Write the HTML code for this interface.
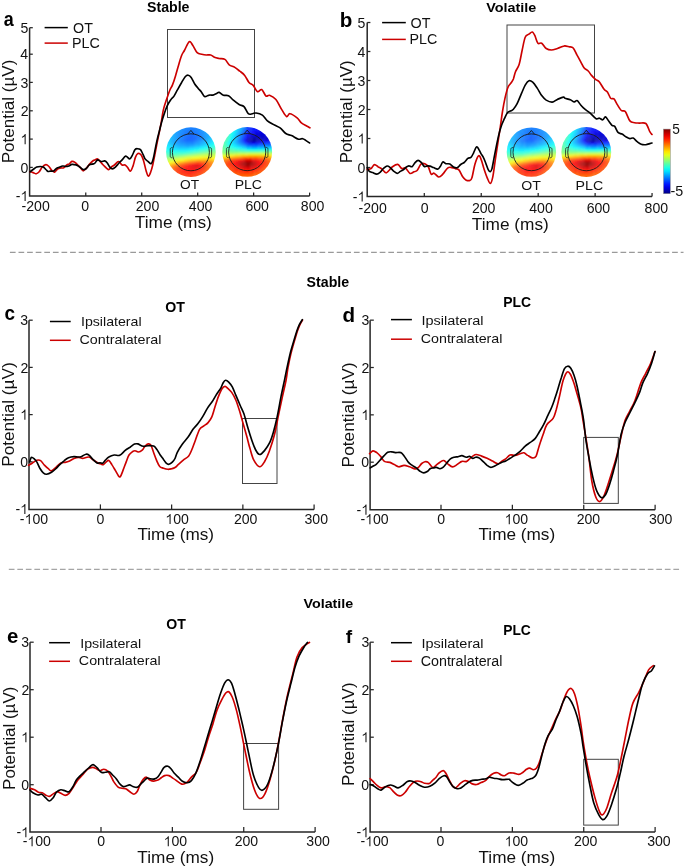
<!DOCTYPE html>
<html><head><meta charset="utf-8"><style>
html,body{margin:0;padding:0;background:#fff;}
svg{display:block;will-change:transform;}
</style></head><body>
<svg width="685" height="868" viewBox="0 0 685 868" font-family='"Liberation Sans", sans-serif'>
<rect width="685" height="868" fill="#fff"/>
<path d="M29.60 27.70V196.00H309.60" fill="none" stroke="#262626" stroke-width="1.5"/>
<path d="M85.76 196.00v-3.4" fill="none" stroke="#262626" stroke-width="1.25"/>
<path d="M141.72 196.00v-3.4" fill="none" stroke="#262626" stroke-width="1.25"/>
<path d="M197.68 196.00v-3.4" fill="none" stroke="#262626" stroke-width="1.25"/>
<path d="M253.64 196.00v-3.4" fill="none" stroke="#262626" stroke-width="1.25"/>
<path d="M309.60 196.00v-3.4" fill="none" stroke="#262626" stroke-width="1.25"/>
<path d="M29.60 167.40h3.2" fill="none" stroke="#262626" stroke-width="1.25"/>
<path d="M29.60 139.10h3.2" fill="none" stroke="#262626" stroke-width="1.25"/>
<path d="M29.60 110.80h3.2" fill="none" stroke="#262626" stroke-width="1.25"/>
<path d="M29.60 82.40h3.2" fill="none" stroke="#262626" stroke-width="1.25"/>
<path d="M29.60 54.20h3.2" fill="none" stroke="#262626" stroke-width="1.25"/>
<path d="M29.60 27.70h3.2" fill="none" stroke="#262626" stroke-width="1.25"/>
<text x="21.57" y="211.06" font-size="14.1" fill="#111">-200</text>
<text x="81.24" y="211.06" font-size="14.1" fill="#111">0</text>
<text x="135.79" y="211.06" font-size="14.1" fill="#111">200</text>
<text x="188.85" y="211.06" font-size="14.1" fill="#111">400</text>
<text x="245.39" y="211.06" font-size="14.1" fill="#111">600</text>
<text x="300.87" y="211.06" font-size="14.1" fill="#111">800</text>
<text x="15.68" y="201.11" font-size="14.1" fill="#111">-</text>
<path d="M25.64 201.11 L25.64 191.02 L24.82 191.02 L24.47 191.72 L23.76 192.49 L22.91 193.13 L21.91 193.64 L21.91 194.74 L22.70 194.37 L23.69 193.81 L24.58 193.13 L24.58 201.11Z" fill="#111"/>
<text x="20.49" y="172.51" font-size="14.1" fill="#111">0</text>
<path d="M25.66 144.21 L25.66 134.12 L24.85 134.12 L24.49 134.82 L23.79 135.59 L22.94 136.23 L21.94 136.74 L21.94 137.84 L22.73 137.47 L23.72 136.91 L24.61 136.23 L24.61 144.21Z" fill="#111"/>
<text x="20.63" y="115.98" font-size="14.1" fill="#111">2</text>
<text x="20.56" y="87.51" font-size="14.1" fill="#111">3</text>
<text x="20.35" y="59.31" font-size="14.1" fill="#111">4</text>
<text x="20.49" y="32.74" font-size="14.1" fill="#111">5</text>
<path d="M367.20 22.50V196.50H652.06" fill="none" stroke="#262626" stroke-width="1.5"/>
<path d="M424.30 196.50v-3.4" fill="none" stroke="#262626" stroke-width="1.25"/>
<path d="M481.24 196.50v-3.4" fill="none" stroke="#262626" stroke-width="1.25"/>
<path d="M538.18 196.50v-3.4" fill="none" stroke="#262626" stroke-width="1.25"/>
<path d="M595.12 196.50v-3.4" fill="none" stroke="#262626" stroke-width="1.25"/>
<path d="M652.06 196.50v-3.4" fill="none" stroke="#262626" stroke-width="1.25"/>
<path d="M367.20 167.50h3.2" fill="none" stroke="#262626" stroke-width="1.25"/>
<path d="M367.20 138.50h3.2" fill="none" stroke="#262626" stroke-width="1.25"/>
<path d="M367.20 109.50h3.2" fill="none" stroke="#262626" stroke-width="1.25"/>
<path d="M367.20 80.50h3.2" fill="none" stroke="#262626" stroke-width="1.25"/>
<path d="M367.20 51.50h3.2" fill="none" stroke="#262626" stroke-width="1.25"/>
<path d="M367.20 22.50h3.2" fill="none" stroke="#262626" stroke-width="1.25"/>
<text x="358.57" y="212.76" font-size="14.1" fill="#111">-200</text>
<text x="420.64" y="212.76" font-size="14.1" fill="#111">0</text>
<text x="471.90" y="212.76" font-size="14.1" fill="#111">200</text>
<text x="529.25" y="212.76" font-size="14.1" fill="#111">400</text>
<text x="586.69" y="212.76" font-size="14.1" fill="#111">600</text>
<text x="644.57" y="212.76" font-size="14.1" fill="#111">800</text>
<text x="352.73" y="201.61" font-size="14.1" fill="#111">-</text>
<path d="M362.69 201.61 L362.69 191.52 L361.87 191.52 L361.52 192.22 L360.81 192.99 L359.96 193.63 L358.96 194.14 L358.96 195.24 L359.75 194.87 L360.74 194.31 L361.63 193.63 L361.63 201.61Z" fill="#111"/>
<text x="357.54" y="172.61" font-size="14.1" fill="#111">0</text>
<path d="M362.71 143.61 L362.71 133.52 L361.90 133.52 L361.54 134.22 L360.84 134.99 L359.99 135.63 L358.99 136.14 L358.99 137.24 L359.78 136.87 L360.77 136.31 L361.66 135.63 L361.66 143.61Z" fill="#111"/>
<text x="357.68" y="114.69" font-size="14.1" fill="#111">2</text>
<text x="357.61" y="85.61" font-size="14.1" fill="#111">3</text>
<text x="357.40" y="56.61" font-size="14.1" fill="#111">4</text>
<text x="357.54" y="27.54" font-size="14.1" fill="#111">5</text>
<path d="M29.00 320.20V509.40H314.09" fill="none" stroke="#262626" stroke-width="1.5"/>
<path d="M100.40 509.40v-5.0" fill="none" stroke="#262626" stroke-width="1.25"/>
<path d="M171.63 509.40v-5.0" fill="none" stroke="#262626" stroke-width="1.25"/>
<path d="M242.86 509.40v-5.0" fill="none" stroke="#262626" stroke-width="1.25"/>
<path d="M314.09 509.40v-5.0" fill="none" stroke="#262626" stroke-width="1.25"/>
<path d="M29.00 461.80h3.7" fill="none" stroke="#262626" stroke-width="1.25"/>
<path d="M29.00 414.60h3.7" fill="none" stroke="#262626" stroke-width="1.25"/>
<path d="M29.00 367.40h3.7" fill="none" stroke="#262626" stroke-width="1.25"/>
<path d="M29.00 320.20h3.7" fill="none" stroke="#262626" stroke-width="1.25"/>
<text x="19.87" y="524.06" font-size="14.1" fill="#111">-</text>
<path d="M29.82 524.06 L29.82 513.96 L29.00 513.96 L28.65 514.67 L27.94 515.43 L27.10 516.08 L26.10 516.59 L26.10 517.69 L26.89 517.32 L27.87 516.76 L28.76 516.08 L28.76 524.06Z" fill="#111"/>
<text x="32.40" y="524.06" font-size="14.1" fill="#111">00</text>
<text x="96.54" y="524.06" font-size="14.1" fill="#111">0</text>
<path d="M170.60 524.06 L170.60 513.96 L169.78 513.96 L169.43 514.67 L168.73 515.43 L167.88 516.08 L166.88 516.59 L166.88 517.69 L167.67 517.32 L168.66 516.76 L169.54 516.08 L169.54 524.06Z" fill="#111"/>
<text x="173.18" y="524.06" font-size="14.1" fill="#111">00</text>
<text x="233.89" y="524.06" font-size="14.1" fill="#111">200</text>
<text x="304.54" y="524.06" font-size="14.1" fill="#111">300</text>
<text x="15.43" y="514.11" font-size="14.1" fill="#111">-</text>
<path d="M25.39 514.11 L25.39 504.02 L24.57 504.02 L24.22 504.72 L23.51 505.49 L22.66 506.13 L21.66 506.64 L21.66 507.74 L22.45 507.37 L23.44 506.81 L24.33 506.13 L24.33 514.11Z" fill="#111"/>
<text x="20.24" y="466.91" font-size="14.1" fill="#111">0</text>
<path d="M25.41 419.71 L25.41 409.62 L24.60 409.62 L24.24 410.32 L23.54 411.09 L22.69 411.73 L21.69 412.24 L21.69 413.34 L22.48 412.97 L23.47 412.41 L24.36 411.73 L24.36 419.71Z" fill="#111"/>
<text x="20.38" y="372.58" font-size="14.1" fill="#111">2</text>
<text x="20.31" y="325.31" font-size="14.1" fill="#111">3</text>
<path d="M370.10 320.15V509.80H655.11" fill="none" stroke="#262626" stroke-width="1.5"/>
<path d="M441.00 509.80v-5.0" fill="none" stroke="#262626" stroke-width="1.25"/>
<path d="M512.37 509.80v-5.0" fill="none" stroke="#262626" stroke-width="1.25"/>
<path d="M583.74 509.80v-5.0" fill="none" stroke="#262626" stroke-width="1.25"/>
<path d="M655.11 509.80v-5.0" fill="none" stroke="#262626" stroke-width="1.25"/>
<path d="M370.10 462.20h3.7" fill="none" stroke="#262626" stroke-width="1.25"/>
<path d="M370.10 414.85h3.7" fill="none" stroke="#262626" stroke-width="1.25"/>
<path d="M370.10 367.50h3.7" fill="none" stroke="#262626" stroke-width="1.25"/>
<path d="M370.10 320.15h3.7" fill="none" stroke="#262626" stroke-width="1.25"/>
<text x="360.47" y="524.16" font-size="14.1" fill="#111">-</text>
<path d="M370.42 524.16 L370.42 514.06 L369.60 514.06 L369.25 514.77 L368.54 515.53 L367.70 516.18 L366.70 516.69 L366.70 517.79 L367.49 517.42 L368.47 516.86 L369.36 516.18 L369.36 524.16Z" fill="#111"/>
<text x="373.00" y="524.16" font-size="14.1" fill="#111">00</text>
<text x="437.24" y="524.16" font-size="14.1" fill="#111">0</text>
<path d="M509.80 524.16 L509.80 514.06 L508.98 514.06 L508.63 514.77 L507.93 515.53 L507.08 516.18 L506.08 516.69 L506.08 517.79 L506.87 517.42 L507.86 516.86 L508.74 516.18 L508.74 524.16Z" fill="#111"/>
<text x="512.38" y="524.16" font-size="14.1" fill="#111">00</text>
<text x="576.69" y="524.16" font-size="14.1" fill="#111">200</text>
<text x="648.94" y="524.16" font-size="14.1" fill="#111">300</text>
<text x="356.53" y="514.66" font-size="14.1" fill="#111">-</text>
<path d="M366.49 514.66 L366.49 504.57 L365.67 504.57 L365.32 505.27 L364.61 506.04 L363.76 506.68 L362.76 507.19 L362.76 508.29 L363.55 507.92 L364.54 507.36 L365.43 506.68 L365.43 514.66Z" fill="#111"/>
<text x="361.34" y="467.31" font-size="14.1" fill="#111">0</text>
<path d="M366.51 419.96 L366.51 409.87 L365.70 409.87 L365.34 410.57 L364.64 411.34 L363.79 411.98 L362.79 412.49 L362.79 413.59 L363.58 413.22 L364.57 412.66 L365.46 411.98 L365.46 419.96Z" fill="#111"/>
<text x="361.48" y="372.69" font-size="14.1" fill="#111">2</text>
<text x="361.41" y="325.26" font-size="14.1" fill="#111">3</text>
<path d="M30.00 642.20V831.90H315.11" fill="none" stroke="#262626" stroke-width="1.5"/>
<path d="M101.00 831.90v-5.0" fill="none" stroke="#262626" stroke-width="1.25"/>
<path d="M172.37 831.90v-5.0" fill="none" stroke="#262626" stroke-width="1.25"/>
<path d="M243.74 831.90v-5.0" fill="none" stroke="#262626" stroke-width="1.25"/>
<path d="M315.11 831.90v-5.0" fill="none" stroke="#262626" stroke-width="1.25"/>
<path d="M30.00 784.70h3.7" fill="none" stroke="#262626" stroke-width="1.25"/>
<path d="M30.00 737.20h3.7" fill="none" stroke="#262626" stroke-width="1.25"/>
<path d="M30.00 689.70h3.7" fill="none" stroke="#262626" stroke-width="1.25"/>
<path d="M30.00 642.20h3.7" fill="none" stroke="#262626" stroke-width="1.25"/>
<text x="22.67" y="846.36" font-size="14.1" fill="#111">-</text>
<path d="M32.62 846.36 L32.62 836.26 L31.80 836.26 L31.45 836.97 L30.74 837.73 L29.90 838.38 L28.90 838.89 L28.90 839.99 L29.69 839.62 L30.67 839.06 L31.56 838.38 L31.56 846.36Z" fill="#111"/>
<text x="35.20" y="846.36" font-size="14.1" fill="#111">00</text>
<text x="97.24" y="846.36" font-size="14.1" fill="#111">0</text>
<path d="M168.80 846.36 L168.80 836.26 L167.98 836.26 L167.63 836.97 L166.93 837.73 L166.08 838.38 L165.08 838.89 L165.08 839.99 L165.87 839.62 L166.86 839.06 L167.74 838.38 L167.74 846.36Z" fill="#111"/>
<text x="171.38" y="846.36" font-size="14.1" fill="#111">00</text>
<text x="234.69" y="846.36" font-size="14.1" fill="#111">200</text>
<text x="306.34" y="846.36" font-size="14.1" fill="#111">300</text>
<text x="16.43" y="837.31" font-size="14.1" fill="#111">-</text>
<path d="M26.39 837.31 L26.39 827.22 L25.57 827.22 L25.22 827.92 L24.51 828.69 L23.66 829.33 L22.66 829.84 L22.66 830.94 L23.45 830.57 L24.44 830.01 L25.33 829.33 L25.33 837.31Z" fill="#111"/>
<text x="21.24" y="789.81" font-size="14.1" fill="#111">0</text>
<path d="M26.41 742.31 L26.41 732.22 L25.60 732.22 L25.24 732.92 L24.54 733.69 L23.69 734.33 L22.69 734.84 L22.69 735.94 L23.48 735.57 L24.47 735.01 L25.36 734.33 L25.36 742.31Z" fill="#111"/>
<text x="21.38" y="694.88" font-size="14.1" fill="#111">2</text>
<text x="21.31" y="647.31" font-size="14.1" fill="#111">3</text>
<path d="M370.10 642.20V831.90H655.11" fill="none" stroke="#262626" stroke-width="1.5"/>
<path d="M441.00 831.90v-5.0" fill="none" stroke="#262626" stroke-width="1.25"/>
<path d="M512.37 831.90v-5.0" fill="none" stroke="#262626" stroke-width="1.25"/>
<path d="M583.74 831.90v-5.0" fill="none" stroke="#262626" stroke-width="1.25"/>
<path d="M655.11 831.90v-5.0" fill="none" stroke="#262626" stroke-width="1.25"/>
<path d="M370.10 784.70h3.7" fill="none" stroke="#262626" stroke-width="1.25"/>
<path d="M370.10 737.20h3.7" fill="none" stroke="#262626" stroke-width="1.25"/>
<path d="M370.10 689.70h3.7" fill="none" stroke="#262626" stroke-width="1.25"/>
<path d="M370.10 642.20h3.7" fill="none" stroke="#262626" stroke-width="1.25"/>
<text x="360.47" y="846.36" font-size="14.1" fill="#111">-</text>
<path d="M370.42 846.36 L370.42 836.26 L369.60 836.26 L369.25 836.97 L368.54 837.73 L367.70 838.38 L366.70 838.89 L366.70 839.99 L367.49 839.62 L368.47 839.06 L369.36 838.38 L369.36 846.36Z" fill="#111"/>
<text x="373.00" y="846.36" font-size="14.1" fill="#111">00</text>
<text x="436.54" y="846.36" font-size="14.1" fill="#111">0</text>
<path d="M509.80 846.36 L509.80 836.26 L508.98 836.26 L508.63 836.97 L507.93 837.73 L507.08 838.38 L506.08 838.89 L506.08 839.99 L506.87 839.62 L507.86 839.06 L508.74 838.38 L508.74 846.36Z" fill="#111"/>
<text x="512.38" y="846.36" font-size="14.1" fill="#111">00</text>
<text x="573.89" y="846.36" font-size="14.1" fill="#111">200</text>
<text x="647.14" y="846.36" font-size="14.1" fill="#111">300</text>
<text x="356.53" y="837.31" font-size="14.1" fill="#111">-</text>
<path d="M366.49 837.31 L366.49 827.22 L365.67 827.22 L365.32 827.92 L364.61 828.69 L363.76 829.33 L362.76 829.84 L362.76 830.94 L363.55 830.57 L364.54 830.01 L365.43 829.33 L365.43 837.31Z" fill="#111"/>
<text x="361.34" y="789.81" font-size="14.1" fill="#111">0</text>
<path d="M366.51 742.31 L366.51 732.22 L365.70 732.22 L365.34 732.92 L364.64 733.69 L363.79 734.33 L362.79 734.84 L362.79 735.94 L363.58 735.57 L364.57 735.01 L365.46 734.33 L365.46 742.31Z" fill="#111"/>
<text x="361.48" y="694.88" font-size="14.1" fill="#111">2</text>
<text x="361.41" y="647.31" font-size="14.1" fill="#111">3</text>
<text x="134.76" y="228.15" font-size="16.90" textLength="77.12" lengthAdjust="spacingAndGlyphs" fill="#111">Time (ms)</text>
<text x="471.86" y="229.67" font-size="16.79" textLength="77.02" lengthAdjust="spacingAndGlyphs" fill="#111">Time (ms)</text>
<text x="137.41" y="540.15" font-size="16.90" textLength="76.66" lengthAdjust="spacingAndGlyphs" fill="#111">Time (ms)</text>
<text x="478.47" y="540.20" font-size="16.68" textLength="76.71" lengthAdjust="spacingAndGlyphs" fill="#111">Time (ms)</text>
<text x="137.36" y="862.75" font-size="16.90" textLength="76.81" lengthAdjust="spacingAndGlyphs" fill="#111">Time (ms)</text>
<text x="478.46" y="862.75" font-size="16.90" textLength="76.71" lengthAdjust="spacingAndGlyphs" fill="#111">Time (ms)</text>
<text transform="translate(14.30 163.26) rotate(-90)" font-size="17.30" textLength="103.65" lengthAdjust="spacingAndGlyphs" fill="#111">Potential (µV)</text>
<text transform="translate(351.90 163.35) rotate(-90)" font-size="17.30" textLength="102.94" lengthAdjust="spacingAndGlyphs" fill="#111">Potential (µV)</text>
<text transform="translate(14.30 466.67) rotate(-90)" font-size="17.30" textLength="104.27" lengthAdjust="spacingAndGlyphs" fill="#111">Potential (µV)</text>
<text transform="translate(353.80 467.38) rotate(-90)" font-size="17.30" textLength="104.98" lengthAdjust="spacingAndGlyphs" fill="#111">Potential (µV)</text>
<text transform="translate(15.00 789.96) rotate(-90)" font-size="17.30" textLength="103.35" lengthAdjust="spacingAndGlyphs" fill="#111">Potential (µV)</text>
<text transform="translate(353.80 785.96) rotate(-90)" font-size="17.30" textLength="103.55" lengthAdjust="spacingAndGlyphs" fill="#111">Potential (µV)</text>
<text x="3.78" y="25.99" font-size="20.73" font-weight="bold" textLength="9.98" lengthAdjust="spacingAndGlyphs" fill="#000">a</text>
<text x="339.74" y="27.11" font-size="19.46" font-weight="bold" textLength="12.58" lengthAdjust="spacingAndGlyphs" fill="#000">b</text>
<text x="4.51" y="319.90" font-size="19.82" font-weight="bold" textLength="10.55" lengthAdjust="spacingAndGlyphs" fill="#000">c</text>
<text x="342.42" y="322.30" font-size="19.59" font-weight="bold" textLength="12.58" lengthAdjust="spacingAndGlyphs" fill="#000">d</text>
<text x="7.09" y="642.90" font-size="20.36" font-weight="bold" fill="#000">e</text>
<text x="345.71" y="642.60" font-size="19.17" font-weight="bold" fill="#000">f</text>
<text x="146.97" y="11.96" font-size="14.29" font-weight="bold" textLength="42.54" lengthAdjust="spacingAndGlyphs" fill="#000">Stable</text>
<text x="486.27" y="11.87" font-size="13.33" font-weight="bold" textLength="49.98" lengthAdjust="spacingAndGlyphs" fill="#000">Volatile</text>
<text x="306.58" y="287.36" font-size="13.88" font-weight="bold" textLength="42.54" lengthAdjust="spacingAndGlyphs" fill="#000">Stable</text>
<text x="303.47" y="607.67" font-size="13.33" font-weight="bold" textLength="49.78" lengthAdjust="spacingAndGlyphs" fill="#000">Volatile</text>
<text x="165.34" y="311.76" font-size="13.94" font-weight="bold" textLength="19.69" lengthAdjust="spacingAndGlyphs" fill="#000">OT</text>
<text x="503.18" y="306.76" font-size="14.08" font-weight="bold" textLength="27.85" lengthAdjust="spacingAndGlyphs" fill="#000">PLC</text>
<text x="166.34" y="628.96" font-size="14.08" font-weight="bold" fill="#000">OT</text>
<text x="503.20" y="634.56" font-size="13.80" font-weight="bold" fill="#000">PLC</text>
<path d="M44.6 27.6H67.8" fill="none" stroke="#000000" stroke-width="1.5"/>
<path d="M44.6 43.1H67.8" fill="none" stroke="#cc0000" stroke-width="1.5"/>
<text x="73.07" y="32.76" font-size="13.94" textLength="19.81" lengthAdjust="spacingAndGlyphs" fill="#111">OT</text>
<text x="72.08" y="47.76" font-size="13.94" textLength="27.82" lengthAdjust="spacingAndGlyphs" fill="#111">PLC</text>
<path d="M382.1 22.6H405.8" fill="none" stroke="#000000" stroke-width="1.5"/>
<path d="M382.1 39.4H405.8" fill="none" stroke="#cc0000" stroke-width="1.5"/>
<text x="410.55" y="27.76" font-size="14.37" fill="#111">OT</text>
<text x="409.57" y="43.56" font-size="14.08" textLength="27.82" lengthAdjust="spacingAndGlyphs" fill="#111">PLC</text>
<path d="M49.9 321.5H70.7" fill="none" stroke="#000000" stroke-width="1.5"/>
<path d="M49.9 340.3H70.7" fill="none" stroke="#cc0000" stroke-width="1.5"/>
<text x="80.94" y="326.18" font-size="12.94" textLength="60.70" lengthAdjust="spacingAndGlyphs" fill="#111">Ipsilateral</text>
<text x="79.53" y="344.17" font-size="13.47" textLength="81.95" lengthAdjust="spacingAndGlyphs" fill="#111">Contralateral</text>
<path d="M391.0 319.6H411.9" fill="none" stroke="#000000" stroke-width="1.5"/>
<path d="M391.0 339.2H411.9" fill="none" stroke="#cc0000" stroke-width="1.5"/>
<text x="421.47" y="324.83" font-size="13.69" textLength="62.05" lengthAdjust="spacingAndGlyphs" fill="#111">Ipsilateral</text>
<text x="420.73" y="342.87" font-size="13.47" textLength="81.75" lengthAdjust="spacingAndGlyphs" fill="#111">Contralateral</text>
<path d="M49.1 642.7H70.0" fill="none" stroke="#000000" stroke-width="1.5"/>
<path d="M49.1 661.3H70.0" fill="none" stroke="#cc0000" stroke-width="1.5"/>
<text x="80.20" y="647.69" font-size="13.37" textLength="61.01" lengthAdjust="spacingAndGlyphs" fill="#111">Ipsilateral</text>
<text x="78.83" y="665.37" font-size="13.47" textLength="81.75" lengthAdjust="spacingAndGlyphs" fill="#111">Contralateral</text>
<path d="M391.0 642.7H411.9" fill="none" stroke="#000000" stroke-width="1.5"/>
<path d="M391.0 661.3H411.9" fill="none" stroke="#cc0000" stroke-width="1.5"/>
<text x="421.47" y="647.93" font-size="13.69" textLength="62.05" lengthAdjust="spacingAndGlyphs" fill="#111">Ipsilateral</text>
<text x="420.71" y="665.56" font-size="13.74" textLength="81.75" lengthAdjust="spacingAndGlyphs" fill="#111">Contralateral</text>
<path d="M9.9 252.3H683.5" fill="none" stroke="#9a9a9a" stroke-width="1.3" stroke-dasharray="5.7 2.9"/>
<path d="M8.8 569.4H681.8" fill="none" stroke="#a5a5a5" stroke-width="1.3" stroke-dasharray="5.7 2.82"/>
<text x="180.13" y="189.27" font-size="12.68" textLength="19.07" lengthAdjust="spacingAndGlyphs" fill="#111">OT</text>
<text x="234.69" y="189.27" font-size="12.68" textLength="27.29" lengthAdjust="spacingAndGlyphs" fill="#111">PLC</text>
<text x="521.31" y="189.57" font-size="13.10" textLength="19.60" lengthAdjust="spacingAndGlyphs" fill="#111">OT</text>
<text x="575.55" y="189.57" font-size="13.10" textLength="27.61" lengthAdjust="spacingAndGlyphs" fill="#111">PLC</text>
<rect x="167.5" y="29.5" width="87.0" height="88.0" fill="none" stroke="#444" stroke-width="1"/>
<rect x="507.0" y="25.0" width="87.5" height="88.0" fill="none" stroke="#444" stroke-width="1"/>
<rect x="242.5" y="418.5" width="34.5" height="65.0" fill="none" stroke="#444" stroke-width="1"/>
<rect x="583.7" y="437.4" width="34.6" height="66.0" fill="none" stroke="#444" stroke-width="1"/>
<rect x="243.6" y="743.5" width="35.0" height="65.8" fill="none" stroke="#444" stroke-width="1"/>
<rect x="583.7" y="759.3" width="34.6" height="65.8" fill="none" stroke="#444" stroke-width="1"/>
<g clip-path="url(#coa)"><g filter="url(#tb)">
<rect x="178.1" y="125.3" width="4.05" height="2.05" fill="#0085ff"/>
<rect x="182.1" y="125.3" width="18.05" height="2.05" fill="#007aff"/>
<rect x="200.1" y="125.3" width="2.05" height="2.05" fill="#0085ff"/>
<rect x="176.1" y="127.3" width="4.05" height="2.05" fill="#0091ff"/>
<rect x="180.1" y="127.3" width="4.05" height="2.05" fill="#0085ff"/>
<rect x="184.1" y="127.3" width="6.05" height="2.05" fill="#007aff"/>
<rect x="190.1" y="127.3" width="4.05" height="2.05" fill="#006fff"/>
<rect x="194.1" y="127.3" width="6.05" height="2.05" fill="#007aff"/>
<rect x="200.1" y="127.3" width="4.05" height="2.05" fill="#0085ff"/>
<rect x="204.1" y="127.3" width="2.05" height="2.05" fill="#0091ff"/>
<rect x="172.1" y="129.3" width="4.05" height="2.05" fill="#009cff"/>
<rect x="176.1" y="129.3" width="4.05" height="2.05" fill="#0091ff"/>
<rect x="180.1" y="129.3" width="2.05" height="2.05" fill="#0085ff"/>
<rect x="182.1" y="129.3" width="4.05" height="2.05" fill="#007aff"/>
<rect x="186.1" y="129.3" width="10.05" height="2.05" fill="#006fff"/>
<rect x="196.1" y="129.3" width="4.05" height="2.05" fill="#007aff"/>
<rect x="200.1" y="129.3" width="2.05" height="2.05" fill="#0085ff"/>
<rect x="202.1" y="129.3" width="4.05" height="2.05" fill="#0091ff"/>
<rect x="206.1" y="129.3" width="4.05" height="2.05" fill="#009cff"/>
<rect x="170.1" y="131.3" width="4.05" height="2.05" fill="#00a7ff"/>
<rect x="174.1" y="131.3" width="2.05" height="2.05" fill="#009cff"/>
<rect x="176.1" y="131.3" width="2.05" height="2.05" fill="#0091ff"/>
<rect x="178.1" y="131.3" width="4.05" height="2.05" fill="#0085ff"/>
<rect x="182.1" y="131.3" width="2.05" height="2.05" fill="#007aff"/>
<rect x="184.1" y="131.3" width="14.05" height="2.05" fill="#006fff"/>
<rect x="198.1" y="131.3" width="2.05" height="2.05" fill="#007aff"/>
<rect x="200.1" y="131.3" width="4.05" height="2.05" fill="#0085ff"/>
<rect x="204.1" y="131.3" width="2.05" height="2.05" fill="#0091ff"/>
<rect x="206.1" y="131.3" width="4.05" height="2.05" fill="#009cff"/>
<rect x="210.1" y="131.3" width="2.05" height="2.05" fill="#00a7ff"/>
<rect x="168.1" y="133.3" width="4.05" height="2.05" fill="#00b3ff"/>
<rect x="172.1" y="133.3" width="2.05" height="2.05" fill="#00a7ff"/>
<rect x="174.1" y="133.3" width="2.05" height="2.05" fill="#009cff"/>
<rect x="176.1" y="133.3" width="2.05" height="2.05" fill="#0091ff"/>
<rect x="178.1" y="133.3" width="2.05" height="2.05" fill="#0085ff"/>
<rect x="180.1" y="133.3" width="4.05" height="2.05" fill="#007aff"/>
<rect x="184.1" y="133.3" width="2.05" height="2.05" fill="#006fff"/>
<rect x="186.1" y="133.3" width="10.05" height="2.05" fill="#0063ff"/>
<rect x="196.1" y="133.3" width="4.05" height="2.05" fill="#006fff"/>
<rect x="200.1" y="133.3" width="2.05" height="2.05" fill="#007aff"/>
<rect x="202.1" y="133.3" width="2.05" height="2.05" fill="#0085ff"/>
<rect x="204.1" y="133.3" width="2.05" height="2.05" fill="#0091ff"/>
<rect x="206.1" y="133.3" width="2.05" height="2.05" fill="#009cff"/>
<rect x="208.1" y="133.3" width="4.05" height="2.05" fill="#00a7ff"/>
<rect x="212.1" y="133.3" width="2.05" height="2.05" fill="#00b3ff"/>
<rect x="168.1" y="135.3" width="2.05" height="2.05" fill="#00beff"/>
<rect x="170.1" y="135.3" width="2.05" height="2.05" fill="#00b3ff"/>
<rect x="172.1" y="135.3" width="2.05" height="2.05" fill="#00a7ff"/>
<rect x="174.1" y="135.3" width="2.05" height="2.05" fill="#009cff"/>
<rect x="176.1" y="135.3" width="2.05" height="2.05" fill="#0091ff"/>
<rect x="178.1" y="135.3" width="2.05" height="2.05" fill="#0085ff"/>
<rect x="180.1" y="135.3" width="2.05" height="2.05" fill="#007aff"/>
<rect x="182.1" y="135.3" width="2.05" height="2.05" fill="#006fff"/>
<rect x="184.1" y="135.3" width="4.05" height="2.05" fill="#0063ff"/>
<rect x="188.1" y="135.3" width="6.05" height="2.05" fill="#0058ff"/>
<rect x="194.1" y="135.3" width="4.05" height="2.05" fill="#0063ff"/>
<rect x="198.1" y="135.3" width="2.05" height="2.05" fill="#006fff"/>
<rect x="200.1" y="135.3" width="2.05" height="2.05" fill="#007aff"/>
<rect x="202.1" y="135.3" width="2.05" height="2.05" fill="#0085ff"/>
<rect x="204.1" y="135.3" width="2.05" height="2.05" fill="#0091ff"/>
<rect x="206.1" y="135.3" width="2.05" height="2.05" fill="#009cff"/>
<rect x="208.1" y="135.3" width="2.05" height="2.05" fill="#00a7ff"/>
<rect x="210.1" y="135.3" width="2.05" height="2.05" fill="#00b3ff"/>
<rect x="212.1" y="135.3" width="2.05" height="2.05" fill="#00beff"/>
<rect x="166.1" y="137.3" width="2.05" height="2.05" fill="#00c9ff"/>
<rect x="168.1" y="137.3" width="2.05" height="2.05" fill="#00beff"/>
<rect x="170.1" y="137.3" width="2.05" height="2.05" fill="#00b3ff"/>
<rect x="172.1" y="137.3" width="2.05" height="2.05" fill="#00a7ff"/>
<rect x="174.1" y="137.3" width="2.05" height="2.05" fill="#009cff"/>
<rect x="176.1" y="137.3" width="2.05" height="2.05" fill="#0091ff"/>
<rect x="178.1" y="137.3" width="2.05" height="2.05" fill="#0085ff"/>
<rect x="180.1" y="137.3" width="2.05" height="2.05" fill="#007aff"/>
<rect x="182.1" y="137.3" width="2.05" height="2.05" fill="#006fff"/>
<rect x="184.1" y="137.3" width="2.05" height="2.05" fill="#0063ff"/>
<rect x="186.1" y="137.3" width="4.05" height="2.05" fill="#0058ff"/>
<rect x="190.1" y="137.3" width="2.05" height="2.05" fill="#004dff"/>
<rect x="192.1" y="137.3" width="4.05" height="2.05" fill="#0058ff"/>
<rect x="196.1" y="137.3" width="2.05" height="2.05" fill="#0063ff"/>
<rect x="198.1" y="137.3" width="4.05" height="2.05" fill="#006fff"/>
<rect x="202.1" y="137.3" width="2.05" height="2.05" fill="#007aff"/>
<rect x="204.1" y="137.3" width="2.05" height="2.05" fill="#0091ff"/>
<rect x="206.1" y="137.3" width="2.05" height="2.05" fill="#009cff"/>
<rect x="208.1" y="137.3" width="2.05" height="2.05" fill="#00a7ff"/>
<rect x="210.1" y="137.3" width="2.05" height="2.05" fill="#00beff"/>
<rect x="212.1" y="137.3" width="2.05" height="2.05" fill="#00c9ff"/>
<rect x="214.1" y="137.3" width="2.05" height="2.05" fill="#00d4ff"/>
<rect x="164.1" y="139.3" width="6.05" height="2.05" fill="#00c9ff"/>
<rect x="170.1" y="139.3" width="2.05" height="2.05" fill="#00b3ff"/>
<rect x="172.1" y="139.3" width="2.05" height="2.05" fill="#00a7ff"/>
<rect x="174.1" y="139.3" width="2.05" height="2.05" fill="#009cff"/>
<rect x="176.1" y="139.3" width="2.05" height="2.05" fill="#0085ff"/>
<rect x="178.1" y="139.3" width="2.05" height="2.05" fill="#007aff"/>
<rect x="180.1" y="139.3" width="2.05" height="2.05" fill="#006fff"/>
<rect x="182.1" y="139.3" width="2.05" height="2.05" fill="#0063ff"/>
<rect x="184.1" y="139.3" width="10.05" height="2.05" fill="#0058ff"/>
<rect x="194.1" y="139.3" width="2.05" height="2.05" fill="#0063ff"/>
<rect x="196.1" y="139.3" width="2.05" height="2.05" fill="#006fff"/>
<rect x="198.1" y="139.3" width="2.05" height="2.05" fill="#007aff"/>
<rect x="200.1" y="139.3" width="2.05" height="2.05" fill="#0085ff"/>
<rect x="202.1" y="139.3" width="2.05" height="2.05" fill="#0091ff"/>
<rect x="204.1" y="139.3" width="2.05" height="2.05" fill="#009cff"/>
<rect x="206.1" y="139.3" width="2.05" height="2.05" fill="#00a7ff"/>
<rect x="208.1" y="139.3" width="2.05" height="2.05" fill="#00beff"/>
<rect x="210.1" y="139.3" width="2.05" height="2.05" fill="#00c9ff"/>
<rect x="212.1" y="139.3" width="4.05" height="2.05" fill="#00e0ff"/>
<rect x="164.1" y="141.3" width="4.05" height="2.05" fill="#00d4ff"/>
<rect x="168.1" y="141.3" width="2.05" height="2.05" fill="#00c9ff"/>
<rect x="170.1" y="141.3" width="2.05" height="2.05" fill="#00b3ff"/>
<rect x="172.1" y="141.3" width="2.05" height="2.05" fill="#00a7ff"/>
<rect x="174.1" y="141.3" width="2.05" height="2.05" fill="#009cff"/>
<rect x="176.1" y="141.3" width="2.05" height="2.05" fill="#0091ff"/>
<rect x="178.1" y="141.3" width="2.05" height="2.05" fill="#0085ff"/>
<rect x="180.1" y="141.3" width="4.05" height="2.05" fill="#007aff"/>
<rect x="184.1" y="141.3" width="10.05" height="2.05" fill="#006fff"/>
<rect x="194.1" y="141.3" width="2.05" height="2.05" fill="#007aff"/>
<rect x="196.1" y="141.3" width="2.05" height="2.05" fill="#0085ff"/>
<rect x="198.1" y="141.3" width="2.05" height="2.05" fill="#0091ff"/>
<rect x="200.1" y="141.3" width="2.05" height="2.05" fill="#009cff"/>
<rect x="202.1" y="141.3" width="2.05" height="2.05" fill="#00a7ff"/>
<rect x="204.1" y="141.3" width="2.05" height="2.05" fill="#00b3ff"/>
<rect x="206.1" y="141.3" width="2.05" height="2.05" fill="#00beff"/>
<rect x="208.1" y="141.3" width="2.05" height="2.05" fill="#00c9ff"/>
<rect x="210.1" y="141.3" width="2.05" height="2.05" fill="#00d4ff"/>
<rect x="212.1" y="141.3" width="2.05" height="2.05" fill="#00ebff"/>
<rect x="214.1" y="141.3" width="4.05" height="2.05" fill="#00f6ff"/>
<rect x="164.1" y="143.3" width="4.05" height="2.05" fill="#00e0ff"/>
<rect x="168.1" y="143.3" width="2.05" height="2.05" fill="#00d4ff"/>
<rect x="170.1" y="143.3" width="2.05" height="2.05" fill="#00beff"/>
<rect x="172.1" y="143.3" width="2.05" height="2.05" fill="#00b3ff"/>
<rect x="174.1" y="143.3" width="2.05" height="2.05" fill="#00a7ff"/>
<rect x="176.1" y="143.3" width="4.05" height="2.05" fill="#009cff"/>
<rect x="180.1" y="143.3" width="4.05" height="2.05" fill="#0091ff"/>
<rect x="184.1" y="143.3" width="10.05" height="2.05" fill="#0085ff"/>
<rect x="194.1" y="143.3" width="2.05" height="2.05" fill="#0091ff"/>
<rect x="196.1" y="143.3" width="4.05" height="2.05" fill="#009cff"/>
<rect x="200.1" y="143.3" width="2.05" height="2.05" fill="#00a7ff"/>
<rect x="202.1" y="143.3" width="2.05" height="2.05" fill="#00b3ff"/>
<rect x="204.1" y="143.3" width="2.05" height="2.05" fill="#00beff"/>
<rect x="206.1" y="143.3" width="2.05" height="2.05" fill="#00c9ff"/>
<rect x="208.1" y="143.3" width="2.05" height="2.05" fill="#00e0ff"/>
<rect x="210.1" y="143.3" width="2.05" height="2.05" fill="#00ebff"/>
<rect x="212.1" y="143.3" width="2.05" height="2.05" fill="#03fffc"/>
<rect x="214.1" y="143.3" width="4.05" height="2.05" fill="#0efff1"/>
<rect x="164.1" y="145.3" width="2.05" height="2.05" fill="#00f6ff"/>
<rect x="166.1" y="145.3" width="2.05" height="2.05" fill="#00ebff"/>
<rect x="168.1" y="145.3" width="2.05" height="2.05" fill="#00e0ff"/>
<rect x="170.1" y="145.3" width="2.05" height="2.05" fill="#00d4ff"/>
<rect x="172.1" y="145.3" width="2.05" height="2.05" fill="#00c9ff"/>
<rect x="174.1" y="145.3" width="2.05" height="2.05" fill="#00beff"/>
<rect x="176.1" y="145.3" width="2.05" height="2.05" fill="#00b3ff"/>
<rect x="178.1" y="145.3" width="6.05" height="2.05" fill="#00a7ff"/>
<rect x="184.1" y="145.3" width="6.05" height="2.05" fill="#009cff"/>
<rect x="190.1" y="145.3" width="4.05" height="2.05" fill="#00a7ff"/>
<rect x="194.1" y="145.3" width="2.05" height="2.05" fill="#00b3ff"/>
<rect x="196.1" y="145.3" width="4.05" height="2.05" fill="#00beff"/>
<rect x="200.1" y="145.3" width="2.05" height="2.05" fill="#00c9ff"/>
<rect x="202.1" y="145.3" width="2.05" height="2.05" fill="#00d4ff"/>
<rect x="204.1" y="145.3" width="2.05" height="2.05" fill="#00e0ff"/>
<rect x="206.1" y="145.3" width="2.05" height="2.05" fill="#00ebff"/>
<rect x="208.1" y="145.3" width="2.05" height="2.05" fill="#03fffc"/>
<rect x="210.1" y="145.3" width="2.05" height="2.05" fill="#0efff1"/>
<rect x="212.1" y="145.3" width="2.05" height="2.05" fill="#1affe5"/>
<rect x="214.1" y="145.3" width="2.05" height="2.05" fill="#25ffda"/>
<rect x="216.1" y="145.3" width="2.05" height="2.05" fill="#30ffcf"/>
<rect x="164.1" y="147.3" width="2.05" height="2.05" fill="#03fffc"/>
<rect x="166.1" y="147.3" width="2.05" height="2.05" fill="#00f6ff"/>
<rect x="168.1" y="147.3" width="2.05" height="2.05" fill="#00ebff"/>
<rect x="170.1" y="147.3" width="2.05" height="2.05" fill="#00e0ff"/>
<rect x="172.1" y="147.3" width="4.05" height="2.05" fill="#00d4ff"/>
<rect x="176.1" y="147.3" width="14.05" height="2.05" fill="#00c9ff"/>
<rect x="190.1" y="147.3" width="4.05" height="2.05" fill="#00d4ff"/>
<rect x="194.1" y="147.3" width="4.05" height="2.05" fill="#00e0ff"/>
<rect x="198.1" y="147.3" width="2.05" height="2.05" fill="#00ebff"/>
<rect x="200.1" y="147.3" width="2.05" height="2.05" fill="#00f6ff"/>
<rect x="202.1" y="147.3" width="2.05" height="2.05" fill="#03fffc"/>
<rect x="204.1" y="147.3" width="4.05" height="2.05" fill="#0efff1"/>
<rect x="208.1" y="147.3" width="2.05" height="2.05" fill="#1affe5"/>
<rect x="210.1" y="147.3" width="2.05" height="2.05" fill="#25ffda"/>
<rect x="212.1" y="147.3" width="2.05" height="2.05" fill="#30ffcf"/>
<rect x="214.1" y="147.3" width="2.05" height="2.05" fill="#3cffc3"/>
<rect x="216.1" y="147.3" width="2.05" height="2.05" fill="#47ffb8"/>
<rect x="164.1" y="149.3" width="2.05" height="2.05" fill="#1affe5"/>
<rect x="166.1" y="149.3" width="2.05" height="2.05" fill="#0efff1"/>
<rect x="168.1" y="149.3" width="2.05" height="2.05" fill="#03fffc"/>
<rect x="170.1" y="149.3" width="6.05" height="2.05" fill="#00f6ff"/>
<rect x="176.1" y="149.3" width="12.05" height="2.05" fill="#00ebff"/>
<rect x="188.1" y="149.3" width="4.05" height="2.05" fill="#00f6ff"/>
<rect x="192.1" y="149.3" width="2.05" height="2.05" fill="#03fffc"/>
<rect x="194.1" y="149.3" width="4.05" height="2.05" fill="#0efff1"/>
<rect x="198.1" y="149.3" width="2.05" height="2.05" fill="#1affe5"/>
<rect x="200.1" y="149.3" width="4.05" height="2.05" fill="#25ffda"/>
<rect x="204.1" y="149.3" width="2.05" height="2.05" fill="#30ffcf"/>
<rect x="206.1" y="149.3" width="2.05" height="2.05" fill="#3cffc3"/>
<rect x="208.1" y="149.3" width="2.05" height="2.05" fill="#47ffb8"/>
<rect x="210.1" y="149.3" width="4.05" height="2.05" fill="#52ffad"/>
<rect x="214.1" y="149.3" width="4.05" height="2.05" fill="#5effa2"/>
<rect x="164.1" y="151.3" width="2.05" height="2.05" fill="#30ffcf"/>
<rect x="166.1" y="151.3" width="4.05" height="2.05" fill="#25ffda"/>
<rect x="170.1" y="151.3" width="16.05" height="2.05" fill="#1affe5"/>
<rect x="186.1" y="151.3" width="4.05" height="2.05" fill="#25ffda"/>
<rect x="190.1" y="151.3" width="4.05" height="2.05" fill="#30ffcf"/>
<rect x="194.1" y="151.3" width="4.05" height="2.05" fill="#3cffc3"/>
<rect x="198.1" y="151.3" width="2.05" height="2.05" fill="#47ffb8"/>
<rect x="200.1" y="151.3" width="2.05" height="2.05" fill="#52ffad"/>
<rect x="202.1" y="151.3" width="4.05" height="2.05" fill="#5effa2"/>
<rect x="206.1" y="151.3" width="2.05" height="2.05" fill="#69ff96"/>
<rect x="208.1" y="151.3" width="2.05" height="2.05" fill="#74ff8b"/>
<rect x="210.1" y="151.3" width="4.05" height="2.05" fill="#80ff80"/>
<rect x="214.1" y="151.3" width="4.05" height="2.05" fill="#8bff74"/>
<rect x="164.1" y="153.3" width="4.05" height="2.05" fill="#47ffb8"/>
<rect x="168.1" y="153.3" width="10.05" height="2.05" fill="#3cffc3"/>
<rect x="178.1" y="153.3" width="6.05" height="2.05" fill="#47ffb8"/>
<rect x="184.1" y="153.3" width="4.05" height="2.05" fill="#52ffad"/>
<rect x="188.1" y="153.3" width="2.05" height="2.05" fill="#5effa2"/>
<rect x="190.1" y="153.3" width="2.05" height="2.05" fill="#69ff96"/>
<rect x="192.1" y="153.3" width="2.05" height="2.05" fill="#74ff8b"/>
<rect x="194.1" y="153.3" width="2.05" height="2.05" fill="#80ff80"/>
<rect x="196.1" y="153.3" width="2.05" height="2.05" fill="#8bff74"/>
<rect x="198.1" y="153.3" width="4.05" height="2.05" fill="#96ff69"/>
<rect x="202.1" y="153.3" width="2.05" height="2.05" fill="#a2ff5e"/>
<rect x="204.1" y="153.3" width="14.05" height="2.05" fill="#adff52"/>
<rect x="164.1" y="155.3" width="6.05" height="2.05" fill="#5effa2"/>
<rect x="170.1" y="155.3" width="4.05" height="2.05" fill="#69ff96"/>
<rect x="174.1" y="155.3" width="4.05" height="2.05" fill="#74ff8b"/>
<rect x="178.1" y="155.3" width="2.05" height="2.05" fill="#80ff80"/>
<rect x="180.1" y="155.3" width="2.05" height="2.05" fill="#8bff74"/>
<rect x="182.1" y="155.3" width="2.05" height="2.05" fill="#96ff69"/>
<rect x="184.1" y="155.3" width="2.05" height="2.05" fill="#a2ff5e"/>
<rect x="186.1" y="155.3" width="2.05" height="2.05" fill="#adff52"/>
<rect x="188.1" y="155.3" width="4.05" height="2.05" fill="#b8ff47"/>
<rect x="192.1" y="155.3" width="4.05" height="2.05" fill="#c3ff3c"/>
<rect x="196.1" y="155.3" width="4.05" height="2.05" fill="#cfff30"/>
<rect x="200.1" y="155.3" width="12.05" height="2.05" fill="#daff25"/>
<rect x="212.1" y="155.3" width="4.05" height="2.05" fill="#cfff30"/>
<rect x="216.1" y="155.3" width="2.05" height="2.05" fill="#c3ff3c"/>
<rect x="164.1" y="157.3" width="2.05" height="2.05" fill="#80ff80"/>
<rect x="166.1" y="157.3" width="2.05" height="2.05" fill="#8bff74"/>
<rect x="168.1" y="157.3" width="2.05" height="2.05" fill="#96ff69"/>
<rect x="170.1" y="157.3" width="2.05" height="2.05" fill="#a2ff5e"/>
<rect x="172.1" y="157.3" width="2.05" height="2.05" fill="#adff52"/>
<rect x="174.1" y="157.3" width="4.05" height="2.05" fill="#b8ff47"/>
<rect x="178.1" y="157.3" width="2.05" height="2.05" fill="#c3ff3c"/>
<rect x="180.1" y="157.3" width="4.05" height="2.05" fill="#cfff30"/>
<rect x="184.1" y="157.3" width="2.05" height="2.05" fill="#daff25"/>
<rect x="186.1" y="157.3" width="4.05" height="2.05" fill="#e5ff1a"/>
<rect x="190.1" y="157.3" width="2.05" height="2.05" fill="#f1ff0e"/>
<rect x="192.1" y="157.3" width="6.05" height="2.05" fill="#fcff03"/>
<rect x="198.1" y="157.3" width="4.05" height="2.05" fill="#fff700"/>
<rect x="202.1" y="157.3" width="8.05" height="2.05" fill="#ffeb00"/>
<rect x="210.1" y="157.3" width="4.05" height="2.05" fill="#fff700"/>
<rect x="214.1" y="157.3" width="2.05" height="2.05" fill="#fcff03"/>
<rect x="216.1" y="157.3" width="2.05" height="2.05" fill="#f1ff0e"/>
<rect x="164.1" y="159.3" width="2.05" height="2.05" fill="#adff52"/>
<rect x="166.1" y="159.3" width="2.05" height="2.05" fill="#b8ff47"/>
<rect x="168.1" y="159.3" width="4.05" height="2.05" fill="#c3ff3c"/>
<rect x="172.1" y="159.3" width="2.05" height="2.05" fill="#cfff30"/>
<rect x="174.1" y="159.3" width="2.05" height="2.05" fill="#daff25"/>
<rect x="176.1" y="159.3" width="2.05" height="2.05" fill="#e5ff1a"/>
<rect x="178.1" y="159.3" width="2.05" height="2.05" fill="#f1ff0e"/>
<rect x="180.1" y="159.3" width="2.05" height="2.05" fill="#fcff03"/>
<rect x="182.1" y="159.3" width="2.05" height="2.05" fill="#fff700"/>
<rect x="184.1" y="159.3" width="2.05" height="2.05" fill="#ffeb00"/>
<rect x="186.1" y="159.3" width="2.05" height="2.05" fill="#ffe000"/>
<rect x="188.1" y="159.3" width="2.05" height="2.05" fill="#ffc900"/>
<rect x="190.1" y="159.3" width="4.05" height="2.05" fill="#ffbe00"/>
<rect x="194.1" y="159.3" width="2.05" height="2.05" fill="#ffb300"/>
<rect x="196.1" y="159.3" width="12.05" height="2.05" fill="#ffa700"/>
<rect x="208.1" y="159.3" width="4.05" height="2.05" fill="#ffb300"/>
<rect x="212.1" y="159.3" width="2.05" height="2.05" fill="#ffbe00"/>
<rect x="214.1" y="159.3" width="2.05" height="2.05" fill="#ffd500"/>
<rect x="216.1" y="159.3" width="2.05" height="2.05" fill="#ffe000"/>
<rect x="164.1" y="161.3" width="2.05" height="2.05" fill="#c3ff3c"/>
<rect x="166.1" y="161.3" width="2.05" height="2.05" fill="#cfff30"/>
<rect x="168.1" y="161.3" width="2.05" height="2.05" fill="#e5ff1a"/>
<rect x="170.1" y="161.3" width="2.05" height="2.05" fill="#fcff03"/>
<rect x="172.1" y="161.3" width="2.05" height="2.05" fill="#fff700"/>
<rect x="174.1" y="161.3" width="2.05" height="2.05" fill="#ffe000"/>
<rect x="176.1" y="161.3" width="2.05" height="2.05" fill="#ffd500"/>
<rect x="178.1" y="161.3" width="2.05" height="2.05" fill="#ffbe00"/>
<rect x="180.1" y="161.3" width="2.05" height="2.05" fill="#ffb300"/>
<rect x="182.1" y="161.3" width="2.05" height="2.05" fill="#ffa700"/>
<rect x="184.1" y="161.3" width="2.05" height="2.05" fill="#ff9100"/>
<rect x="186.1" y="161.3" width="2.05" height="2.05" fill="#ff8500"/>
<rect x="188.1" y="161.3" width="2.05" height="2.05" fill="#ff7a00"/>
<rect x="190.1" y="161.3" width="2.05" height="2.05" fill="#ff6e00"/>
<rect x="192.1" y="161.3" width="2.05" height="2.05" fill="#ff6300"/>
<rect x="194.1" y="161.3" width="2.05" height="2.05" fill="#ff5800"/>
<rect x="196.1" y="161.3" width="6.05" height="2.05" fill="#ff4c00"/>
<rect x="202.1" y="161.3" width="4.05" height="2.05" fill="#ff5800"/>
<rect x="206.1" y="161.3" width="2.05" height="2.05" fill="#ff6300"/>
<rect x="208.1" y="161.3" width="2.05" height="2.05" fill="#ff7a00"/>
<rect x="210.1" y="161.3" width="2.05" height="2.05" fill="#ff8500"/>
<rect x="212.1" y="161.3" width="2.05" height="2.05" fill="#ff9c00"/>
<rect x="214.1" y="161.3" width="2.05" height="2.05" fill="#ffa700"/>
<rect x="216.1" y="161.3" width="2.05" height="2.05" fill="#ffb300"/>
<rect x="166.1" y="163.3" width="2.05" height="2.05" fill="#fff700"/>
<rect x="168.1" y="163.3" width="2.05" height="2.05" fill="#ffe000"/>
<rect x="170.1" y="163.3" width="2.05" height="2.05" fill="#ffc900"/>
<rect x="172.1" y="163.3" width="2.05" height="2.05" fill="#ffb300"/>
<rect x="174.1" y="163.3" width="2.05" height="2.05" fill="#ff9c00"/>
<rect x="176.1" y="163.3" width="2.05" height="2.05" fill="#ff9100"/>
<rect x="178.1" y="163.3" width="2.05" height="2.05" fill="#ff7a00"/>
<rect x="180.1" y="163.3" width="2.05" height="2.05" fill="#ff6300"/>
<rect x="182.1" y="163.3" width="2.05" height="2.05" fill="#ff5800"/>
<rect x="184.1" y="163.3" width="2.05" height="2.05" fill="#ff4100"/>
<rect x="186.1" y="163.3" width="2.05" height="2.05" fill="#ff3600"/>
<rect x="188.1" y="163.3" width="2.05" height="2.05" fill="#ff1f00"/>
<rect x="190.1" y="163.3" width="2.05" height="2.05" fill="#ff1400"/>
<rect x="192.1" y="163.3" width="2.05" height="2.05" fill="#ff0800"/>
<rect x="194.1" y="163.3" width="6.05" height="2.05" fill="#fc0000"/>
<rect x="200.1" y="163.3" width="2.05" height="2.05" fill="#ff1400"/>
<rect x="202.1" y="163.3" width="2.05" height="2.05" fill="#ff1f00"/>
<rect x="204.1" y="163.3" width="2.05" height="2.05" fill="#ff3600"/>
<rect x="206.1" y="163.3" width="2.05" height="2.05" fill="#ff4c00"/>
<rect x="208.1" y="163.3" width="2.05" height="2.05" fill="#ff6300"/>
<rect x="210.1" y="163.3" width="2.05" height="2.05" fill="#ff7a00"/>
<rect x="212.1" y="163.3" width="2.05" height="2.05" fill="#ff8500"/>
<rect x="214.1" y="163.3" width="2.05" height="2.05" fill="#ff9100"/>
<rect x="166.1" y="165.3" width="2.05" height="2.05" fill="#ffc900"/>
<rect x="168.1" y="165.3" width="2.05" height="2.05" fill="#ffb300"/>
<rect x="170.1" y="165.3" width="2.05" height="2.05" fill="#ff9100"/>
<rect x="172.1" y="165.3" width="2.05" height="2.05" fill="#ff7a00"/>
<rect x="174.1" y="165.3" width="2.05" height="2.05" fill="#ff6300"/>
<rect x="176.1" y="165.3" width="2.05" height="2.05" fill="#ff4c00"/>
<rect x="178.1" y="165.3" width="2.05" height="2.05" fill="#ff4100"/>
<rect x="180.1" y="165.3" width="2.05" height="2.05" fill="#ff3600"/>
<rect x="182.1" y="165.3" width="2.05" height="2.05" fill="#ff1f00"/>
<rect x="184.1" y="165.3" width="2.05" height="2.05" fill="#ff1400"/>
<rect x="186.1" y="165.3" width="2.05" height="2.05" fill="#ff0800"/>
<rect x="188.1" y="165.3" width="2.05" height="2.05" fill="#fc0000"/>
<rect x="190.1" y="165.3" width="2.05" height="2.05" fill="#f10000"/>
<rect x="192.1" y="165.3" width="2.05" height="2.05" fill="#e50000"/>
<rect x="194.1" y="165.3" width="4.05" height="2.05" fill="#da0000"/>
<rect x="198.1" y="165.3" width="2.05" height="2.05" fill="#e50000"/>
<rect x="200.1" y="165.3" width="2.05" height="2.05" fill="#fc0000"/>
<rect x="202.1" y="165.3" width="2.05" height="2.05" fill="#ff1400"/>
<rect x="204.1" y="165.3" width="2.05" height="2.05" fill="#ff2a00"/>
<rect x="206.1" y="165.3" width="2.05" height="2.05" fill="#ff4c00"/>
<rect x="208.1" y="165.3" width="2.05" height="2.05" fill="#ff6300"/>
<rect x="210.1" y="165.3" width="4.05" height="2.05" fill="#ff7a00"/>
<rect x="214.1" y="165.3" width="2.05" height="2.05" fill="#ff8500"/>
<rect x="168.1" y="167.3" width="2.05" height="2.05" fill="#ff8500"/>
<rect x="170.1" y="167.3" width="2.05" height="2.05" fill="#ff7a00"/>
<rect x="172.1" y="167.3" width="2.05" height="2.05" fill="#ff6300"/>
<rect x="174.1" y="167.3" width="2.05" height="2.05" fill="#ff4c00"/>
<rect x="176.1" y="167.3" width="2.05" height="2.05" fill="#ff3600"/>
<rect x="178.1" y="167.3" width="2.05" height="2.05" fill="#ff2a00"/>
<rect x="180.1" y="167.3" width="2.05" height="2.05" fill="#ff1f00"/>
<rect x="182.1" y="167.3" width="2.05" height="2.05" fill="#ff1400"/>
<rect x="184.1" y="167.3" width="4.05" height="2.05" fill="#ff0800"/>
<rect x="188.1" y="167.3" width="2.05" height="2.05" fill="#fc0000"/>
<rect x="190.1" y="167.3" width="4.05" height="2.05" fill="#f10000"/>
<rect x="194.1" y="167.3" width="2.05" height="2.05" fill="#e50000"/>
<rect x="196.1" y="167.3" width="2.05" height="2.05" fill="#f10000"/>
<rect x="198.1" y="167.3" width="2.05" height="2.05" fill="#fc0000"/>
<rect x="200.1" y="167.3" width="2.05" height="2.05" fill="#ff0800"/>
<rect x="202.1" y="167.3" width="2.05" height="2.05" fill="#ff1f00"/>
<rect x="204.1" y="167.3" width="2.05" height="2.05" fill="#ff3600"/>
<rect x="206.1" y="167.3" width="2.05" height="2.05" fill="#ff4c00"/>
<rect x="208.1" y="167.3" width="2.05" height="2.05" fill="#ff6300"/>
<rect x="210.1" y="167.3" width="4.05" height="2.05" fill="#ff6e00"/>
<rect x="168.1" y="169.3" width="2.05" height="2.05" fill="#ff6e00"/>
<rect x="170.1" y="169.3" width="2.05" height="2.05" fill="#ff6300"/>
<rect x="172.1" y="169.3" width="2.05" height="2.05" fill="#ff5800"/>
<rect x="174.1" y="169.3" width="2.05" height="2.05" fill="#ff4c00"/>
<rect x="176.1" y="169.3" width="2.05" height="2.05" fill="#ff3600"/>
<rect x="178.1" y="169.3" width="2.05" height="2.05" fill="#ff2a00"/>
<rect x="180.1" y="169.3" width="2.05" height="2.05" fill="#ff1f00"/>
<rect x="182.1" y="169.3" width="2.05" height="2.05" fill="#ff1400"/>
<rect x="184.1" y="169.3" width="6.05" height="2.05" fill="#ff0800"/>
<rect x="190.1" y="169.3" width="6.05" height="2.05" fill="#fc0000"/>
<rect x="196.1" y="169.3" width="2.05" height="2.05" fill="#ff0800"/>
<rect x="198.1" y="169.3" width="2.05" height="2.05" fill="#ff1400"/>
<rect x="200.1" y="169.3" width="2.05" height="2.05" fill="#ff1f00"/>
<rect x="202.1" y="169.3" width="2.05" height="2.05" fill="#ff3600"/>
<rect x="204.1" y="169.3" width="2.05" height="2.05" fill="#ff4100"/>
<rect x="206.1" y="169.3" width="2.05" height="2.05" fill="#ff5800"/>
<rect x="208.1" y="169.3" width="4.05" height="2.05" fill="#ff6300"/>
<rect x="170.1" y="171.3" width="2.05" height="2.05" fill="#ff5800"/>
<rect x="172.1" y="171.3" width="2.05" height="2.05" fill="#ff4c00"/>
<rect x="174.1" y="171.3" width="2.05" height="2.05" fill="#ff4100"/>
<rect x="176.1" y="171.3" width="2.05" height="2.05" fill="#ff3600"/>
<rect x="178.1" y="171.3" width="2.05" height="2.05" fill="#ff2a00"/>
<rect x="180.1" y="171.3" width="4.05" height="2.05" fill="#ff1f00"/>
<rect x="184.1" y="171.3" width="10.05" height="2.05" fill="#ff1400"/>
<rect x="194.1" y="171.3" width="4.05" height="2.05" fill="#ff1f00"/>
<rect x="198.1" y="171.3" width="2.05" height="2.05" fill="#ff2a00"/>
<rect x="200.1" y="171.3" width="2.05" height="2.05" fill="#ff3600"/>
<rect x="202.1" y="171.3" width="2.05" height="2.05" fill="#ff4100"/>
<rect x="204.1" y="171.3" width="6.05" height="2.05" fill="#ff5800"/>
<rect x="172.1" y="173.3" width="2.05" height="2.05" fill="#ff4c00"/>
<rect x="174.1" y="173.3" width="4.05" height="2.05" fill="#ff4100"/>
<rect x="178.1" y="173.3" width="4.05" height="2.05" fill="#ff3600"/>
<rect x="182.1" y="173.3" width="4.05" height="2.05" fill="#ff2a00"/>
<rect x="186.1" y="173.3" width="6.05" height="2.05" fill="#ff1f00"/>
<rect x="192.1" y="173.3" width="4.05" height="2.05" fill="#ff2a00"/>
<rect x="196.1" y="173.3" width="2.05" height="2.05" fill="#ff3600"/>
<rect x="198.1" y="173.3" width="4.05" height="2.05" fill="#ff4100"/>
<rect x="202.1" y="173.3" width="2.05" height="2.05" fill="#ff4c00"/>
<rect x="204.1" y="173.3" width="4.05" height="2.05" fill="#ff5800"/>
<rect x="176.1" y="175.3" width="18.05" height="2.05" fill="#ff3600"/>
<rect x="194.1" y="175.3" width="6.05" height="2.05" fill="#ff4100"/>
<rect x="200.1" y="175.3" width="6.05" height="2.05" fill="#ff4c00"/>
<rect x="180.1" y="177.3" width="14.05" height="2.05" fill="#ff3600"/>
<rect x="194.1" y="177.3" width="6.05" height="2.05" fill="#ff4100"/>
<rect x="200.1" y="177.3" width="2.05" height="2.05" fill="#ff4c00"/>
</g></g>
<circle cx="190.9" cy="152.29999999999998" r="18.48" fill="none" stroke="#1a1a1a" stroke-width="0.9"/>
<path d="M187.70 134.22L190.90 130.42L194.10 134.22" fill="none" stroke="#1a1a1a" stroke-width="0.9"/>
<path d="M172.42 147.60c-1.60 0 -2.20 0.5 -2.20 2v6.2c0 1.5 0.60 2 2.20 2" fill="none" stroke="#1a1a1a" stroke-width="0.75"/>
<path d="M209.38 147.60c1.60 0 2.20 0.5 2.20 2v6.2c0 1.5 -0.60 2 -2.20 2" fill="none" stroke="#1a1a1a" stroke-width="0.75"/>
<g clip-path="url(#cpa)"><g filter="url(#tb)">
<rect x="234.3" y="125.0" width="2.05" height="2.05" fill="#00e0ff"/>
<rect x="236.3" y="125.0" width="2.05" height="2.05" fill="#00c9ff"/>
<rect x="238.3" y="125.0" width="2.05" height="2.05" fill="#00beff"/>
<rect x="240.3" y="125.0" width="2.05" height="2.05" fill="#00a7ff"/>
<rect x="242.3" y="125.0" width="2.05" height="2.05" fill="#0091ff"/>
<rect x="244.3" y="125.0" width="2.05" height="2.05" fill="#006fff"/>
<rect x="246.3" y="125.0" width="2.05" height="2.05" fill="#0041ff"/>
<rect x="248.3" y="125.0" width="2.05" height="2.05" fill="#0036ff"/>
<rect x="250.3" y="125.0" width="2.05" height="2.05" fill="#002aff"/>
<rect x="252.3" y="125.0" width="2.05" height="2.05" fill="#001fff"/>
<rect x="254.3" y="125.0" width="2.05" height="2.05" fill="#0014ff"/>
<rect x="256.3" y="125.0" width="2.05" height="2.05" fill="#0008ff"/>
<rect x="258.3" y="125.0" width="2.05" height="2.05" fill="#0000fc"/>
<rect x="232.3" y="127.0" width="2.05" height="2.05" fill="#00f6ff"/>
<rect x="234.3" y="127.0" width="2.05" height="2.05" fill="#00ebff"/>
<rect x="236.3" y="127.0" width="2.05" height="2.05" fill="#00d4ff"/>
<rect x="238.3" y="127.0" width="2.05" height="2.05" fill="#00beff"/>
<rect x="240.3" y="127.0" width="2.05" height="2.05" fill="#00a7ff"/>
<rect x="242.3" y="127.0" width="2.05" height="2.05" fill="#0085ff"/>
<rect x="244.3" y="127.0" width="2.05" height="2.05" fill="#006fff"/>
<rect x="246.3" y="127.0" width="2.05" height="2.05" fill="#0036ff"/>
<rect x="248.3" y="127.0" width="2.05" height="2.05" fill="#002aff"/>
<rect x="250.3" y="127.0" width="2.05" height="2.05" fill="#001fff"/>
<rect x="252.3" y="127.0" width="4.05" height="2.05" fill="#0014ff"/>
<rect x="256.3" y="127.0" width="2.05" height="2.05" fill="#0008ff"/>
<rect x="258.3" y="127.0" width="2.05" height="2.05" fill="#0000fc"/>
<rect x="260.3" y="127.0" width="2.05" height="2.05" fill="#0000f1"/>
<rect x="228.3" y="129.0" width="2.05" height="2.05" fill="#1affe5"/>
<rect x="230.3" y="129.0" width="2.05" height="2.05" fill="#0efff1"/>
<rect x="232.3" y="129.0" width="2.05" height="2.05" fill="#03fffc"/>
<rect x="234.3" y="129.0" width="2.05" height="2.05" fill="#00ebff"/>
<rect x="236.3" y="129.0" width="2.05" height="2.05" fill="#00d4ff"/>
<rect x="238.3" y="129.0" width="2.05" height="2.05" fill="#00b3ff"/>
<rect x="240.3" y="129.0" width="2.05" height="2.05" fill="#009cff"/>
<rect x="242.3" y="129.0" width="2.05" height="2.05" fill="#007aff"/>
<rect x="244.3" y="129.0" width="2.05" height="2.05" fill="#0058ff"/>
<rect x="246.3" y="129.0" width="2.05" height="2.05" fill="#002aff"/>
<rect x="248.3" y="129.0" width="2.05" height="2.05" fill="#001fff"/>
<rect x="250.3" y="129.0" width="2.05" height="2.05" fill="#0014ff"/>
<rect x="252.3" y="129.0" width="4.05" height="2.05" fill="#0008ff"/>
<rect x="256.3" y="129.0" width="2.05" height="2.05" fill="#0000fc"/>
<rect x="258.3" y="129.0" width="4.05" height="2.05" fill="#0000f1"/>
<rect x="262.3" y="129.0" width="4.05" height="2.05" fill="#0000e6"/>
<rect x="226.3" y="131.0" width="2.05" height="2.05" fill="#30ffcf"/>
<rect x="228.3" y="131.0" width="2.05" height="2.05" fill="#25ffda"/>
<rect x="230.3" y="131.0" width="2.05" height="2.05" fill="#1affe5"/>
<rect x="232.3" y="131.0" width="2.05" height="2.05" fill="#03fffc"/>
<rect x="234.3" y="131.0" width="2.05" height="2.05" fill="#00e0ff"/>
<rect x="236.3" y="131.0" width="2.05" height="2.05" fill="#00c9ff"/>
<rect x="238.3" y="131.0" width="2.05" height="2.05" fill="#00a7ff"/>
<rect x="240.3" y="131.0" width="2.05" height="2.05" fill="#0091ff"/>
<rect x="242.3" y="131.0" width="2.05" height="2.05" fill="#006fff"/>
<rect x="244.3" y="131.0" width="2.05" height="2.05" fill="#004dff"/>
<rect x="246.3" y="131.0" width="2.05" height="2.05" fill="#001fff"/>
<rect x="248.3" y="131.0" width="2.05" height="2.05" fill="#0014ff"/>
<rect x="250.3" y="131.0" width="2.05" height="2.05" fill="#0008ff"/>
<rect x="252.3" y="131.0" width="2.05" height="2.05" fill="#0000fc"/>
<rect x="254.3" y="131.0" width="4.05" height="2.05" fill="#0000f1"/>
<rect x="258.3" y="131.0" width="6.05" height="2.05" fill="#0000e6"/>
<rect x="264.3" y="131.0" width="4.05" height="2.05" fill="#0000da"/>
<rect x="224.3" y="133.0" width="4.05" height="2.05" fill="#3cffc3"/>
<rect x="228.3" y="133.0" width="2.05" height="2.05" fill="#30ffcf"/>
<rect x="230.3" y="133.0" width="2.05" height="2.05" fill="#0efff1"/>
<rect x="232.3" y="133.0" width="2.05" height="2.05" fill="#00f6ff"/>
<rect x="234.3" y="133.0" width="2.05" height="2.05" fill="#00d4ff"/>
<rect x="236.3" y="133.0" width="2.05" height="2.05" fill="#00beff"/>
<rect x="238.3" y="133.0" width="2.05" height="2.05" fill="#009cff"/>
<rect x="240.3" y="133.0" width="2.05" height="2.05" fill="#007aff"/>
<rect x="242.3" y="133.0" width="2.05" height="2.05" fill="#0058ff"/>
<rect x="244.3" y="133.0" width="2.05" height="2.05" fill="#0036ff"/>
<rect x="246.3" y="133.0" width="2.05" height="2.05" fill="#0008ff"/>
<rect x="248.3" y="133.0" width="2.05" height="2.05" fill="#0000fc"/>
<rect x="250.3" y="133.0" width="2.05" height="2.05" fill="#0000f1"/>
<rect x="252.3" y="133.0" width="2.05" height="2.05" fill="#0000e6"/>
<rect x="254.3" y="133.0" width="16.05" height="2.05" fill="#0000da"/>
<rect x="224.3" y="135.0" width="4.05" height="2.05" fill="#47ffb8"/>
<rect x="228.3" y="135.0" width="2.05" height="2.05" fill="#30ffcf"/>
<rect x="230.3" y="135.0" width="2.05" height="2.05" fill="#0efff1"/>
<rect x="232.3" y="135.0" width="2.05" height="2.05" fill="#00ebff"/>
<rect x="234.3" y="135.0" width="2.05" height="2.05" fill="#00c9ff"/>
<rect x="236.3" y="135.0" width="2.05" height="2.05" fill="#00b3ff"/>
<rect x="238.3" y="135.0" width="2.05" height="2.05" fill="#0091ff"/>
<rect x="240.3" y="135.0" width="2.05" height="2.05" fill="#006fff"/>
<rect x="242.3" y="135.0" width="2.05" height="2.05" fill="#004dff"/>
<rect x="244.3" y="135.0" width="2.05" height="2.05" fill="#002aff"/>
<rect x="246.3" y="135.0" width="2.05" height="2.05" fill="#0000f1"/>
<rect x="248.3" y="135.0" width="2.05" height="2.05" fill="#0000e6"/>
<rect x="250.3" y="135.0" width="4.05" height="2.05" fill="#0000cf"/>
<rect x="254.3" y="135.0" width="4.05" height="2.05" fill="#0000c3"/>
<rect x="258.3" y="135.0" width="8.05" height="2.05" fill="#0000cf"/>
<rect x="266.3" y="135.0" width="2.05" height="2.05" fill="#0000da"/>
<rect x="268.3" y="135.0" width="2.05" height="2.05" fill="#0000cf"/>
<rect x="222.3" y="137.0" width="4.05" height="2.05" fill="#5effa2"/>
<rect x="226.3" y="137.0" width="2.05" height="2.05" fill="#47ffb8"/>
<rect x="228.3" y="137.0" width="2.05" height="2.05" fill="#25ffda"/>
<rect x="230.3" y="137.0" width="2.05" height="2.05" fill="#03fffc"/>
<rect x="232.3" y="137.0" width="2.05" height="2.05" fill="#00e0ff"/>
<rect x="234.3" y="137.0" width="2.05" height="2.05" fill="#00c9ff"/>
<rect x="236.3" y="137.0" width="2.05" height="2.05" fill="#00a7ff"/>
<rect x="238.3" y="137.0" width="2.05" height="2.05" fill="#0085ff"/>
<rect x="240.3" y="137.0" width="2.05" height="2.05" fill="#0063ff"/>
<rect x="242.3" y="137.0" width="2.05" height="2.05" fill="#0041ff"/>
<rect x="244.3" y="137.0" width="2.05" height="2.05" fill="#0014ff"/>
<rect x="246.3" y="137.0" width="2.05" height="2.05" fill="#0000da"/>
<rect x="248.3" y="137.0" width="2.05" height="2.05" fill="#0000c3"/>
<rect x="250.3" y="137.0" width="2.05" height="2.05" fill="#0000b8"/>
<rect x="252.3" y="137.0" width="4.05" height="2.05" fill="#0000ad"/>
<rect x="256.3" y="137.0" width="4.05" height="2.05" fill="#0000b8"/>
<rect x="260.3" y="137.0" width="4.05" height="2.05" fill="#0000c3"/>
<rect x="264.3" y="137.0" width="8.05" height="2.05" fill="#0000cf"/>
<rect x="220.3" y="139.0" width="2.05" height="2.05" fill="#47ffb8"/>
<rect x="222.3" y="139.0" width="2.05" height="2.05" fill="#52ffad"/>
<rect x="224.3" y="139.0" width="2.05" height="2.05" fill="#5effa2"/>
<rect x="226.3" y="139.0" width="2.05" height="2.05" fill="#3cffc3"/>
<rect x="228.3" y="139.0" width="2.05" height="2.05" fill="#1affe5"/>
<rect x="230.3" y="139.0" width="2.05" height="2.05" fill="#00f6ff"/>
<rect x="232.3" y="139.0" width="2.05" height="2.05" fill="#00d4ff"/>
<rect x="234.3" y="139.0" width="2.05" height="2.05" fill="#00beff"/>
<rect x="236.3" y="139.0" width="2.05" height="2.05" fill="#009cff"/>
<rect x="238.3" y="139.0" width="2.05" height="2.05" fill="#007aff"/>
<rect x="240.3" y="139.0" width="2.05" height="2.05" fill="#0058ff"/>
<rect x="242.3" y="139.0" width="2.05" height="2.05" fill="#002aff"/>
<rect x="244.3" y="139.0" width="2.05" height="2.05" fill="#0000fc"/>
<rect x="246.3" y="139.0" width="2.05" height="2.05" fill="#0000c3"/>
<rect x="248.3" y="139.0" width="2.05" height="2.05" fill="#0000ad"/>
<rect x="250.3" y="139.0" width="2.05" height="2.05" fill="#0000a2"/>
<rect x="252.3" y="139.0" width="4.05" height="2.05" fill="#000096"/>
<rect x="256.3" y="139.0" width="2.05" height="2.05" fill="#0000a2"/>
<rect x="258.3" y="139.0" width="2.05" height="2.05" fill="#0000ad"/>
<rect x="260.3" y="139.0" width="2.05" height="2.05" fill="#0000b8"/>
<rect x="262.3" y="139.0" width="2.05" height="2.05" fill="#0000c3"/>
<rect x="264.3" y="139.0" width="4.05" height="2.05" fill="#0000cf"/>
<rect x="268.3" y="139.0" width="2.05" height="2.05" fill="#0000da"/>
<rect x="270.3" y="139.0" width="2.05" height="2.05" fill="#0000f1"/>
<rect x="220.3" y="141.0" width="4.05" height="2.05" fill="#52ffad"/>
<rect x="224.3" y="141.0" width="2.05" height="2.05" fill="#3cffc3"/>
<rect x="226.3" y="141.0" width="2.05" height="2.05" fill="#25ffda"/>
<rect x="228.3" y="141.0" width="2.05" height="2.05" fill="#03fffc"/>
<rect x="230.3" y="141.0" width="2.05" height="2.05" fill="#00ebff"/>
<rect x="232.3" y="141.0" width="2.05" height="2.05" fill="#00d4ff"/>
<rect x="234.3" y="141.0" width="2.05" height="2.05" fill="#00b3ff"/>
<rect x="236.3" y="141.0" width="2.05" height="2.05" fill="#009cff"/>
<rect x="238.3" y="141.0" width="2.05" height="2.05" fill="#007aff"/>
<rect x="240.3" y="141.0" width="2.05" height="2.05" fill="#0063ff"/>
<rect x="242.3" y="141.0" width="2.05" height="2.05" fill="#0041ff"/>
<rect x="244.3" y="141.0" width="2.05" height="2.05" fill="#0014ff"/>
<rect x="246.3" y="141.0" width="2.05" height="2.05" fill="#0000e6"/>
<rect x="248.3" y="141.0" width="2.05" height="2.05" fill="#0000cf"/>
<rect x="250.3" y="141.0" width="6.05" height="2.05" fill="#0000c3"/>
<rect x="256.3" y="141.0" width="2.05" height="2.05" fill="#0000cf"/>
<rect x="258.3" y="141.0" width="2.05" height="2.05" fill="#0000da"/>
<rect x="260.3" y="141.0" width="2.05" height="2.05" fill="#0000e6"/>
<rect x="262.3" y="141.0" width="2.05" height="2.05" fill="#0000f1"/>
<rect x="264.3" y="141.0" width="2.05" height="2.05" fill="#0000fc"/>
<rect x="266.3" y="141.0" width="2.05" height="2.05" fill="#0008ff"/>
<rect x="268.3" y="141.0" width="2.05" height="2.05" fill="#0014ff"/>
<rect x="270.3" y="141.0" width="2.05" height="2.05" fill="#001fff"/>
<rect x="272.3" y="141.0" width="2.05" height="2.05" fill="#0036ff"/>
<rect x="220.3" y="143.0" width="4.05" height="2.05" fill="#5effa2"/>
<rect x="224.3" y="143.0" width="2.05" height="2.05" fill="#47ffb8"/>
<rect x="226.3" y="143.0" width="2.05" height="2.05" fill="#25ffda"/>
<rect x="228.3" y="143.0" width="2.05" height="2.05" fill="#0efff1"/>
<rect x="230.3" y="143.0" width="2.05" height="2.05" fill="#00f6ff"/>
<rect x="232.3" y="143.0" width="2.05" height="2.05" fill="#00e0ff"/>
<rect x="234.3" y="143.0" width="2.05" height="2.05" fill="#00c9ff"/>
<rect x="236.3" y="143.0" width="2.05" height="2.05" fill="#00b3ff"/>
<rect x="238.3" y="143.0" width="2.05" height="2.05" fill="#009cff"/>
<rect x="240.3" y="143.0" width="2.05" height="2.05" fill="#0085ff"/>
<rect x="242.3" y="143.0" width="2.05" height="2.05" fill="#006fff"/>
<rect x="244.3" y="143.0" width="2.05" height="2.05" fill="#004dff"/>
<rect x="246.3" y="143.0" width="2.05" height="2.05" fill="#002aff"/>
<rect x="248.3" y="143.0" width="4.05" height="2.05" fill="#0014ff"/>
<rect x="252.3" y="143.0" width="2.05" height="2.05" fill="#0008ff"/>
<rect x="254.3" y="143.0" width="4.05" height="2.05" fill="#0014ff"/>
<rect x="258.3" y="143.0" width="2.05" height="2.05" fill="#001fff"/>
<rect x="260.3" y="143.0" width="2.05" height="2.05" fill="#002aff"/>
<rect x="262.3" y="143.0" width="4.05" height="2.05" fill="#0036ff"/>
<rect x="266.3" y="143.0" width="4.05" height="2.05" fill="#0041ff"/>
<rect x="270.3" y="143.0" width="2.05" height="2.05" fill="#004dff"/>
<rect x="272.3" y="143.0" width="2.05" height="2.05" fill="#0063ff"/>
<rect x="220.3" y="145.0" width="4.05" height="2.05" fill="#5effa2"/>
<rect x="224.3" y="145.0" width="2.05" height="2.05" fill="#47ffb8"/>
<rect x="226.3" y="145.0" width="2.05" height="2.05" fill="#30ffcf"/>
<rect x="228.3" y="145.0" width="2.05" height="2.05" fill="#1affe5"/>
<rect x="230.3" y="145.0" width="2.05" height="2.05" fill="#0efff1"/>
<rect x="232.3" y="145.0" width="2.05" height="2.05" fill="#00f6ff"/>
<rect x="234.3" y="145.0" width="2.05" height="2.05" fill="#00ebff"/>
<rect x="236.3" y="145.0" width="2.05" height="2.05" fill="#00d4ff"/>
<rect x="238.3" y="145.0" width="2.05" height="2.05" fill="#00c9ff"/>
<rect x="240.3" y="145.0" width="2.05" height="2.05" fill="#00b3ff"/>
<rect x="242.3" y="145.0" width="2.05" height="2.05" fill="#00a7ff"/>
<rect x="244.3" y="145.0" width="2.05" height="2.05" fill="#0091ff"/>
<rect x="246.3" y="145.0" width="4.05" height="2.05" fill="#006fff"/>
<rect x="250.3" y="145.0" width="8.05" height="2.05" fill="#0063ff"/>
<rect x="258.3" y="145.0" width="4.05" height="2.05" fill="#006fff"/>
<rect x="262.3" y="145.0" width="4.05" height="2.05" fill="#007aff"/>
<rect x="266.3" y="145.0" width="4.05" height="2.05" fill="#0085ff"/>
<rect x="270.3" y="145.0" width="2.05" height="2.05" fill="#0091ff"/>
<rect x="272.3" y="145.0" width="2.05" height="2.05" fill="#009cff"/>
<rect x="220.3" y="147.0" width="4.05" height="2.05" fill="#69ff96"/>
<rect x="224.3" y="147.0" width="2.05" height="2.05" fill="#52ffad"/>
<rect x="226.3" y="147.0" width="2.05" height="2.05" fill="#47ffb8"/>
<rect x="228.3" y="147.0" width="2.05" height="2.05" fill="#3cffc3"/>
<rect x="230.3" y="147.0" width="2.05" height="2.05" fill="#25ffda"/>
<rect x="232.3" y="147.0" width="2.05" height="2.05" fill="#1affe5"/>
<rect x="234.3" y="147.0" width="2.05" height="2.05" fill="#0efff1"/>
<rect x="236.3" y="147.0" width="2.05" height="2.05" fill="#03fffc"/>
<rect x="238.3" y="147.0" width="2.05" height="2.05" fill="#00f6ff"/>
<rect x="240.3" y="147.0" width="2.05" height="2.05" fill="#00ebff"/>
<rect x="242.3" y="147.0" width="2.05" height="2.05" fill="#00e0ff"/>
<rect x="244.3" y="147.0" width="2.05" height="2.05" fill="#00d4ff"/>
<rect x="246.3" y="147.0" width="4.05" height="2.05" fill="#00beff"/>
<rect x="250.3" y="147.0" width="8.05" height="2.05" fill="#00b3ff"/>
<rect x="258.3" y="147.0" width="8.05" height="2.05" fill="#00beff"/>
<rect x="266.3" y="147.0" width="4.05" height="2.05" fill="#00c9ff"/>
<rect x="270.3" y="147.0" width="4.05" height="2.05" fill="#00d4ff"/>
<rect x="220.3" y="149.0" width="4.05" height="2.05" fill="#74ff8b"/>
<rect x="224.3" y="149.0" width="2.05" height="2.05" fill="#69ff96"/>
<rect x="226.3" y="149.0" width="2.05" height="2.05" fill="#5effa2"/>
<rect x="228.3" y="149.0" width="4.05" height="2.05" fill="#52ffad"/>
<rect x="232.3" y="149.0" width="2.05" height="2.05" fill="#47ffb8"/>
<rect x="234.3" y="149.0" width="4.05" height="2.05" fill="#3cffc3"/>
<rect x="238.3" y="149.0" width="4.05" height="2.05" fill="#30ffcf"/>
<rect x="242.3" y="149.0" width="2.05" height="2.05" fill="#25ffda"/>
<rect x="244.3" y="149.0" width="2.05" height="2.05" fill="#1affe5"/>
<rect x="246.3" y="149.0" width="16.05" height="2.05" fill="#0efff1"/>
<rect x="262.3" y="149.0" width="10.05" height="2.05" fill="#1affe5"/>
<rect x="272.3" y="149.0" width="2.05" height="2.05" fill="#25ffda"/>
<rect x="220.3" y="151.0" width="2.05" height="2.05" fill="#8bff74"/>
<rect x="222.3" y="151.0" width="8.05" height="2.05" fill="#80ff80"/>
<rect x="230.3" y="151.0" width="10.05" height="2.05" fill="#74ff8b"/>
<rect x="240.3" y="151.0" width="20.05" height="2.05" fill="#69ff96"/>
<rect x="260.3" y="151.0" width="14.05" height="2.05" fill="#74ff8b"/>
<rect x="220.3" y="153.0" width="4.05" height="2.05" fill="#a2ff5e"/>
<rect x="224.3" y="153.0" width="4.05" height="2.05" fill="#adff52"/>
<rect x="228.3" y="153.0" width="6.05" height="2.05" fill="#b8ff47"/>
<rect x="234.3" y="153.0" width="4.05" height="2.05" fill="#c3ff3c"/>
<rect x="238.3" y="153.0" width="8.05" height="2.05" fill="#cfff30"/>
<rect x="246.3" y="153.0" width="24.05" height="2.05" fill="#daff25"/>
<rect x="270.3" y="153.0" width="4.05" height="2.05" fill="#cfff30"/>
<rect x="220.3" y="155.0" width="2.05" height="2.05" fill="#e5ff1a"/>
<rect x="222.3" y="155.0" width="4.05" height="2.05" fill="#f1ff0e"/>
<rect x="226.3" y="155.0" width="2.05" height="2.05" fill="#fcff03"/>
<rect x="228.3" y="155.0" width="2.05" height="2.05" fill="#fff700"/>
<rect x="230.3" y="155.0" width="2.05" height="2.05" fill="#ffeb00"/>
<rect x="232.3" y="155.0" width="2.05" height="2.05" fill="#ffe000"/>
<rect x="234.3" y="155.0" width="4.05" height="2.05" fill="#ffd500"/>
<rect x="238.3" y="155.0" width="2.05" height="2.05" fill="#ffc900"/>
<rect x="240.3" y="155.0" width="6.05" height="2.05" fill="#ffbe00"/>
<rect x="246.3" y="155.0" width="16.05" height="2.05" fill="#ffb300"/>
<rect x="262.3" y="155.0" width="4.05" height="2.05" fill="#ffbe00"/>
<rect x="266.3" y="155.0" width="2.05" height="2.05" fill="#ffc900"/>
<rect x="268.3" y="155.0" width="2.05" height="2.05" fill="#ffd500"/>
<rect x="270.3" y="155.0" width="2.05" height="2.05" fill="#ffe000"/>
<rect x="272.3" y="155.0" width="2.05" height="2.05" fill="#ffeb00"/>
<rect x="220.3" y="157.0" width="2.05" height="2.05" fill="#ffd500"/>
<rect x="222.3" y="157.0" width="2.05" height="2.05" fill="#ffc900"/>
<rect x="224.3" y="157.0" width="2.05" height="2.05" fill="#ffb300"/>
<rect x="226.3" y="157.0" width="2.05" height="2.05" fill="#ffa700"/>
<rect x="228.3" y="157.0" width="2.05" height="2.05" fill="#ff9c00"/>
<rect x="230.3" y="157.0" width="2.05" height="2.05" fill="#ff9100"/>
<rect x="232.3" y="157.0" width="2.05" height="2.05" fill="#ff8500"/>
<rect x="234.3" y="157.0" width="2.05" height="2.05" fill="#ff7a00"/>
<rect x="236.3" y="157.0" width="2.05" height="2.05" fill="#ff6e00"/>
<rect x="238.3" y="157.0" width="2.05" height="2.05" fill="#ff6300"/>
<rect x="240.3" y="157.0" width="2.05" height="2.05" fill="#ff5800"/>
<rect x="242.3" y="157.0" width="6.05" height="2.05" fill="#ff4c00"/>
<rect x="248.3" y="157.0" width="4.05" height="2.05" fill="#ff4100"/>
<rect x="252.3" y="157.0" width="6.05" height="2.05" fill="#ff4c00"/>
<rect x="258.3" y="157.0" width="2.05" height="2.05" fill="#ff5800"/>
<rect x="260.3" y="157.0" width="4.05" height="2.05" fill="#ff6300"/>
<rect x="264.3" y="157.0" width="2.05" height="2.05" fill="#ff6e00"/>
<rect x="266.3" y="157.0" width="2.05" height="2.05" fill="#ff7a00"/>
<rect x="268.3" y="157.0" width="2.05" height="2.05" fill="#ff9100"/>
<rect x="270.3" y="157.0" width="2.05" height="2.05" fill="#ff9c00"/>
<rect x="272.3" y="157.0" width="2.05" height="2.05" fill="#ffa700"/>
<rect x="220.3" y="159.0" width="2.05" height="2.05" fill="#ff9c00"/>
<rect x="222.3" y="159.0" width="2.05" height="2.05" fill="#ff8500"/>
<rect x="224.3" y="159.0" width="2.05" height="2.05" fill="#ff7a00"/>
<rect x="226.3" y="159.0" width="2.05" height="2.05" fill="#ff6300"/>
<rect x="228.3" y="159.0" width="2.05" height="2.05" fill="#ff4c00"/>
<rect x="230.3" y="159.0" width="2.05" height="2.05" fill="#ff4100"/>
<rect x="232.3" y="159.0" width="2.05" height="2.05" fill="#ff2a00"/>
<rect x="234.3" y="159.0" width="2.05" height="2.05" fill="#ff1f00"/>
<rect x="236.3" y="159.0" width="2.05" height="2.05" fill="#ff1400"/>
<rect x="238.3" y="159.0" width="2.05" height="2.05" fill="#ff0800"/>
<rect x="240.3" y="159.0" width="2.05" height="2.05" fill="#fc0000"/>
<rect x="242.3" y="159.0" width="2.05" height="2.05" fill="#f10000"/>
<rect x="244.3" y="159.0" width="8.05" height="2.05" fill="#e50000"/>
<rect x="252.3" y="159.0" width="2.05" height="2.05" fill="#f10000"/>
<rect x="254.3" y="159.0" width="2.05" height="2.05" fill="#fc0000"/>
<rect x="256.3" y="159.0" width="2.05" height="2.05" fill="#ff0800"/>
<rect x="258.3" y="159.0" width="2.05" height="2.05" fill="#ff1400"/>
<rect x="260.3" y="159.0" width="2.05" height="2.05" fill="#ff1f00"/>
<rect x="262.3" y="159.0" width="2.05" height="2.05" fill="#ff3600"/>
<rect x="264.3" y="159.0" width="2.05" height="2.05" fill="#ff4100"/>
<rect x="266.3" y="159.0" width="2.05" height="2.05" fill="#ff4c00"/>
<rect x="268.3" y="159.0" width="2.05" height="2.05" fill="#ff6300"/>
<rect x="270.3" y="159.0" width="4.05" height="2.05" fill="#ff7a00"/>
<rect x="220.3" y="161.0" width="4.05" height="2.05" fill="#ff6e00"/>
<rect x="224.3" y="161.0" width="2.05" height="2.05" fill="#ff5800"/>
<rect x="226.3" y="161.0" width="2.05" height="2.05" fill="#ff4c00"/>
<rect x="228.3" y="161.0" width="2.05" height="2.05" fill="#ff3600"/>
<rect x="230.3" y="161.0" width="2.05" height="2.05" fill="#ff2a00"/>
<rect x="232.3" y="161.0" width="2.05" height="2.05" fill="#ff1400"/>
<rect x="234.3" y="161.0" width="2.05" height="2.05" fill="#ff0800"/>
<rect x="236.3" y="161.0" width="2.05" height="2.05" fill="#f10000"/>
<rect x="238.3" y="161.0" width="2.05" height="2.05" fill="#e50000"/>
<rect x="240.3" y="161.0" width="2.05" height="2.05" fill="#cf0000"/>
<rect x="242.3" y="161.0" width="2.05" height="2.05" fill="#c30000"/>
<rect x="244.3" y="161.0" width="8.05" height="2.05" fill="#ad0000"/>
<rect x="252.3" y="161.0" width="2.05" height="2.05" fill="#c30000"/>
<rect x="254.3" y="161.0" width="2.05" height="2.05" fill="#cf0000"/>
<rect x="256.3" y="161.0" width="2.05" height="2.05" fill="#e50000"/>
<rect x="258.3" y="161.0" width="2.05" height="2.05" fill="#fc0000"/>
<rect x="260.3" y="161.0" width="2.05" height="2.05" fill="#ff0800"/>
<rect x="262.3" y="161.0" width="2.05" height="2.05" fill="#ff1f00"/>
<rect x="264.3" y="161.0" width="2.05" height="2.05" fill="#ff2a00"/>
<rect x="266.3" y="161.0" width="2.05" height="2.05" fill="#ff4100"/>
<rect x="268.3" y="161.0" width="2.05" height="2.05" fill="#ff5800"/>
<rect x="270.3" y="161.0" width="4.05" height="2.05" fill="#ff6300"/>
<rect x="220.3" y="163.0" width="2.05" height="2.05" fill="#ff6300"/>
<rect x="222.3" y="163.0" width="2.05" height="2.05" fill="#ff5800"/>
<rect x="224.3" y="163.0" width="2.05" height="2.05" fill="#ff4c00"/>
<rect x="226.3" y="163.0" width="2.05" height="2.05" fill="#ff3600"/>
<rect x="228.3" y="163.0" width="2.05" height="2.05" fill="#ff2a00"/>
<rect x="230.3" y="163.0" width="2.05" height="2.05" fill="#ff1400"/>
<rect x="232.3" y="163.0" width="2.05" height="2.05" fill="#ff0800"/>
<rect x="234.3" y="163.0" width="2.05" height="2.05" fill="#fc0000"/>
<rect x="236.3" y="163.0" width="2.05" height="2.05" fill="#e50000"/>
<rect x="238.3" y="163.0" width="2.05" height="2.05" fill="#cf0000"/>
<rect x="240.3" y="163.0" width="2.05" height="2.05" fill="#b80000"/>
<rect x="242.3" y="163.0" width="2.05" height="2.05" fill="#a20000"/>
<rect x="244.3" y="163.0" width="2.05" height="2.05" fill="#960000"/>
<rect x="246.3" y="163.0" width="4.05" height="2.05" fill="#8b0000"/>
<rect x="250.3" y="163.0" width="2.05" height="2.05" fill="#960000"/>
<rect x="252.3" y="163.0" width="2.05" height="2.05" fill="#ad0000"/>
<rect x="254.3" y="163.0" width="2.05" height="2.05" fill="#c30000"/>
<rect x="256.3" y="163.0" width="2.05" height="2.05" fill="#da0000"/>
<rect x="258.3" y="163.0" width="2.05" height="2.05" fill="#f10000"/>
<rect x="260.3" y="163.0" width="2.05" height="2.05" fill="#ff0800"/>
<rect x="262.3" y="163.0" width="2.05" height="2.05" fill="#ff1f00"/>
<rect x="264.3" y="163.0" width="2.05" height="2.05" fill="#ff3600"/>
<rect x="266.3" y="163.0" width="2.05" height="2.05" fill="#ff4100"/>
<rect x="268.3" y="163.0" width="4.05" height="2.05" fill="#ff5800"/>
<rect x="222.3" y="165.0" width="6.05" height="2.05" fill="#ff4c00"/>
<rect x="228.3" y="165.0" width="2.05" height="2.05" fill="#ff3600"/>
<rect x="230.3" y="165.0" width="2.05" height="2.05" fill="#ff2a00"/>
<rect x="232.3" y="165.0" width="2.05" height="2.05" fill="#ff1400"/>
<rect x="234.3" y="165.0" width="2.05" height="2.05" fill="#ff0800"/>
<rect x="236.3" y="165.0" width="2.05" height="2.05" fill="#fc0000"/>
<rect x="238.3" y="165.0" width="2.05" height="2.05" fill="#e50000"/>
<rect x="240.3" y="165.0" width="2.05" height="2.05" fill="#cf0000"/>
<rect x="242.3" y="165.0" width="2.05" height="2.05" fill="#c30000"/>
<rect x="244.3" y="165.0" width="6.05" height="2.05" fill="#ad0000"/>
<rect x="250.3" y="165.0" width="2.05" height="2.05" fill="#b80000"/>
<rect x="252.3" y="165.0" width="2.05" height="2.05" fill="#c30000"/>
<rect x="254.3" y="165.0" width="2.05" height="2.05" fill="#da0000"/>
<rect x="256.3" y="165.0" width="2.05" height="2.05" fill="#f10000"/>
<rect x="258.3" y="165.0" width="2.05" height="2.05" fill="#ff0800"/>
<rect x="260.3" y="165.0" width="2.05" height="2.05" fill="#ff1f00"/>
<rect x="262.3" y="165.0" width="2.05" height="2.05" fill="#ff2a00"/>
<rect x="264.3" y="165.0" width="2.05" height="2.05" fill="#ff4100"/>
<rect x="266.3" y="165.0" width="2.05" height="2.05" fill="#ff4c00"/>
<rect x="268.3" y="165.0" width="4.05" height="2.05" fill="#ff5800"/>
<rect x="224.3" y="167.0" width="4.05" height="2.05" fill="#ff4c00"/>
<rect x="228.3" y="167.0" width="2.05" height="2.05" fill="#ff4100"/>
<rect x="230.3" y="167.0" width="2.05" height="2.05" fill="#ff3600"/>
<rect x="232.3" y="167.0" width="2.05" height="2.05" fill="#ff2a00"/>
<rect x="234.3" y="167.0" width="2.05" height="2.05" fill="#ff1f00"/>
<rect x="236.3" y="167.0" width="2.05" height="2.05" fill="#ff1400"/>
<rect x="238.3" y="167.0" width="2.05" height="2.05" fill="#ff0800"/>
<rect x="240.3" y="167.0" width="2.05" height="2.05" fill="#f10000"/>
<rect x="242.3" y="167.0" width="4.05" height="2.05" fill="#e50000"/>
<rect x="246.3" y="167.0" width="4.05" height="2.05" fill="#da0000"/>
<rect x="250.3" y="167.0" width="2.05" height="2.05" fill="#e50000"/>
<rect x="252.3" y="167.0" width="2.05" height="2.05" fill="#f10000"/>
<rect x="254.3" y="167.0" width="2.05" height="2.05" fill="#fc0000"/>
<rect x="256.3" y="167.0" width="2.05" height="2.05" fill="#ff1400"/>
<rect x="258.3" y="167.0" width="2.05" height="2.05" fill="#ff1f00"/>
<rect x="260.3" y="167.0" width="2.05" height="2.05" fill="#ff2a00"/>
<rect x="262.3" y="167.0" width="2.05" height="2.05" fill="#ff4100"/>
<rect x="264.3" y="167.0" width="2.05" height="2.05" fill="#ff4c00"/>
<rect x="266.3" y="167.0" width="4.05" height="2.05" fill="#ff5800"/>
<rect x="224.3" y="169.0" width="6.05" height="2.05" fill="#ff4c00"/>
<rect x="230.3" y="169.0" width="2.05" height="2.05" fill="#ff4100"/>
<rect x="232.3" y="169.0" width="2.05" height="2.05" fill="#ff3600"/>
<rect x="234.3" y="169.0" width="4.05" height="2.05" fill="#ff2a00"/>
<rect x="238.3" y="169.0" width="2.05" height="2.05" fill="#ff1f00"/>
<rect x="240.3" y="169.0" width="4.05" height="2.05" fill="#ff1400"/>
<rect x="244.3" y="169.0" width="6.05" height="2.05" fill="#ff0800"/>
<rect x="250.3" y="169.0" width="4.05" height="2.05" fill="#ff1400"/>
<rect x="254.3" y="169.0" width="2.05" height="2.05" fill="#ff1f00"/>
<rect x="256.3" y="169.0" width="2.05" height="2.05" fill="#ff2a00"/>
<rect x="258.3" y="169.0" width="2.05" height="2.05" fill="#ff3600"/>
<rect x="260.3" y="169.0" width="2.05" height="2.05" fill="#ff4100"/>
<rect x="262.3" y="169.0" width="2.05" height="2.05" fill="#ff4c00"/>
<rect x="264.3" y="169.0" width="6.05" height="2.05" fill="#ff5800"/>
<rect x="226.3" y="171.0" width="8.05" height="2.05" fill="#ff4c00"/>
<rect x="234.3" y="171.0" width="4.05" height="2.05" fill="#ff4100"/>
<rect x="238.3" y="171.0" width="4.05" height="2.05" fill="#ff3600"/>
<rect x="242.3" y="171.0" width="8.05" height="2.05" fill="#ff2a00"/>
<rect x="250.3" y="171.0" width="4.05" height="2.05" fill="#ff3600"/>
<rect x="254.3" y="171.0" width="4.05" height="2.05" fill="#ff4100"/>
<rect x="258.3" y="171.0" width="2.05" height="2.05" fill="#ff4c00"/>
<rect x="260.3" y="171.0" width="8.05" height="2.05" fill="#ff5800"/>
<rect x="228.3" y="173.0" width="2.05" height="2.05" fill="#ff4c00"/>
<rect x="230.3" y="173.0" width="8.05" height="2.05" fill="#ff5800"/>
<rect x="238.3" y="173.0" width="16.05" height="2.05" fill="#ff4c00"/>
<rect x="254.3" y="173.0" width="2.05" height="2.05" fill="#ff5800"/>
<rect x="256.3" y="173.0" width="8.05" height="2.05" fill="#ff6300"/>
<rect x="264.3" y="173.0" width="2.05" height="2.05" fill="#ff5800"/>
<rect x="232.3" y="175.0" width="4.05" height="2.05" fill="#ff5800"/>
<rect x="236.3" y="175.0" width="16.05" height="2.05" fill="#ff6300"/>
<rect x="252.3" y="175.0" width="2.05" height="2.05" fill="#ff6e00"/>
<rect x="254.3" y="175.0" width="8.05" height="2.05" fill="#ff6300"/>
<rect x="236.3" y="177.0" width="8.05" height="2.05" fill="#ff6300"/>
<rect x="244.3" y="177.0" width="12.05" height="2.05" fill="#ff6e00"/>
<rect x="256.3" y="177.0" width="2.05" height="2.05" fill="#ff6300"/>
</g></g>
<circle cx="247.2" cy="152.1" r="18.55" fill="none" stroke="#1a1a1a" stroke-width="0.9"/>
<path d="M244.00 133.95L247.20 130.15L250.40 133.95" fill="none" stroke="#1a1a1a" stroke-width="0.9"/>
<path d="M228.65 147.40c-1.60 0 -2.20 0.5 -2.20 2v6.2c0 1.5 0.60 2 2.20 2" fill="none" stroke="#1a1a1a" stroke-width="0.75"/>
<path d="M265.75 147.40c1.60 0 2.20 0.5 2.20 2v6.2c0 1.5 -0.60 2 -2.20 2" fill="none" stroke="#1a1a1a" stroke-width="0.75"/>
<g clip-path="url(#cob)"><g filter="url(#tb)">
<rect x="518.7" y="125.4" width="4.05" height="2.05" fill="#0085ff"/>
<rect x="522.7" y="125.4" width="18.05" height="2.05" fill="#007aff"/>
<rect x="540.7" y="125.4" width="2.05" height="2.05" fill="#0085ff"/>
<rect x="516.7" y="127.4" width="2.05" height="2.05" fill="#0091ff"/>
<rect x="518.7" y="127.4" width="6.05" height="2.05" fill="#0085ff"/>
<rect x="524.7" y="127.4" width="6.05" height="2.05" fill="#007aff"/>
<rect x="530.7" y="127.4" width="4.05" height="2.05" fill="#006fff"/>
<rect x="534.7" y="127.4" width="6.05" height="2.05" fill="#007aff"/>
<rect x="540.7" y="127.4" width="4.05" height="2.05" fill="#0085ff"/>
<rect x="544.7" y="127.4" width="2.05" height="2.05" fill="#0091ff"/>
<rect x="512.7" y="129.4" width="4.05" height="2.05" fill="#009cff"/>
<rect x="516.7" y="129.4" width="4.05" height="2.05" fill="#0091ff"/>
<rect x="520.7" y="129.4" width="2.05" height="2.05" fill="#0085ff"/>
<rect x="522.7" y="129.4" width="4.05" height="2.05" fill="#007aff"/>
<rect x="526.7" y="129.4" width="10.05" height="2.05" fill="#006fff"/>
<rect x="536.7" y="129.4" width="4.05" height="2.05" fill="#007aff"/>
<rect x="540.7" y="129.4" width="2.05" height="2.05" fill="#0085ff"/>
<rect x="542.7" y="129.4" width="4.05" height="2.05" fill="#0091ff"/>
<rect x="546.7" y="129.4" width="4.05" height="2.05" fill="#009cff"/>
<rect x="510.7" y="131.4" width="4.05" height="2.05" fill="#00a7ff"/>
<rect x="514.7" y="131.4" width="2.05" height="2.05" fill="#009cff"/>
<rect x="516.7" y="131.4" width="2.05" height="2.05" fill="#0091ff"/>
<rect x="518.7" y="131.4" width="4.05" height="2.05" fill="#0085ff"/>
<rect x="522.7" y="131.4" width="2.05" height="2.05" fill="#007aff"/>
<rect x="524.7" y="131.4" width="14.05" height="2.05" fill="#006fff"/>
<rect x="538.7" y="131.4" width="2.05" height="2.05" fill="#007aff"/>
<rect x="540.7" y="131.4" width="4.05" height="2.05" fill="#0085ff"/>
<rect x="544.7" y="131.4" width="2.05" height="2.05" fill="#0091ff"/>
<rect x="546.7" y="131.4" width="4.05" height="2.05" fill="#009cff"/>
<rect x="550.7" y="131.4" width="2.05" height="2.05" fill="#00a7ff"/>
<rect x="508.7" y="133.4" width="4.05" height="2.05" fill="#00b3ff"/>
<rect x="512.7" y="133.4" width="2.05" height="2.05" fill="#00a7ff"/>
<rect x="514.7" y="133.4" width="2.05" height="2.05" fill="#009cff"/>
<rect x="516.7" y="133.4" width="2.05" height="2.05" fill="#0091ff"/>
<rect x="518.7" y="133.4" width="2.05" height="2.05" fill="#0085ff"/>
<rect x="520.7" y="133.4" width="4.05" height="2.05" fill="#007aff"/>
<rect x="524.7" y="133.4" width="2.05" height="2.05" fill="#006fff"/>
<rect x="526.7" y="133.4" width="10.05" height="2.05" fill="#0063ff"/>
<rect x="536.7" y="133.4" width="2.05" height="2.05" fill="#006fff"/>
<rect x="538.7" y="133.4" width="4.05" height="2.05" fill="#007aff"/>
<rect x="542.7" y="133.4" width="2.05" height="2.05" fill="#0085ff"/>
<rect x="544.7" y="133.4" width="2.05" height="2.05" fill="#0091ff"/>
<rect x="546.7" y="133.4" width="2.05" height="2.05" fill="#009cff"/>
<rect x="548.7" y="133.4" width="4.05" height="2.05" fill="#00a7ff"/>
<rect x="508.7" y="135.4" width="2.05" height="2.05" fill="#00beff"/>
<rect x="510.7" y="135.4" width="2.05" height="2.05" fill="#00b3ff"/>
<rect x="512.7" y="135.4" width="2.05" height="2.05" fill="#00a7ff"/>
<rect x="514.7" y="135.4" width="2.05" height="2.05" fill="#009cff"/>
<rect x="516.7" y="135.4" width="2.05" height="2.05" fill="#0091ff"/>
<rect x="518.7" y="135.4" width="2.05" height="2.05" fill="#0085ff"/>
<rect x="520.7" y="135.4" width="2.05" height="2.05" fill="#007aff"/>
<rect x="522.7" y="135.4" width="2.05" height="2.05" fill="#006fff"/>
<rect x="524.7" y="135.4" width="4.05" height="2.05" fill="#0063ff"/>
<rect x="528.7" y="135.4" width="6.05" height="2.05" fill="#0058ff"/>
<rect x="534.7" y="135.4" width="4.05" height="2.05" fill="#0063ff"/>
<rect x="538.7" y="135.4" width="2.05" height="2.05" fill="#006fff"/>
<rect x="540.7" y="135.4" width="2.05" height="2.05" fill="#007aff"/>
<rect x="542.7" y="135.4" width="2.05" height="2.05" fill="#0085ff"/>
<rect x="544.7" y="135.4" width="2.05" height="2.05" fill="#0091ff"/>
<rect x="546.7" y="135.4" width="2.05" height="2.05" fill="#009cff"/>
<rect x="548.7" y="135.4" width="2.05" height="2.05" fill="#00a7ff"/>
<rect x="550.7" y="135.4" width="2.05" height="2.05" fill="#00b3ff"/>
<rect x="552.7" y="135.4" width="2.05" height="2.05" fill="#00beff"/>
<rect x="506.7" y="137.4" width="2.05" height="2.05" fill="#00c9ff"/>
<rect x="508.7" y="137.4" width="2.05" height="2.05" fill="#00beff"/>
<rect x="510.7" y="137.4" width="2.05" height="2.05" fill="#00b3ff"/>
<rect x="512.7" y="137.4" width="2.05" height="2.05" fill="#00a7ff"/>
<rect x="514.7" y="137.4" width="2.05" height="2.05" fill="#009cff"/>
<rect x="516.7" y="137.4" width="2.05" height="2.05" fill="#0091ff"/>
<rect x="518.7" y="137.4" width="2.05" height="2.05" fill="#0085ff"/>
<rect x="520.7" y="137.4" width="2.05" height="2.05" fill="#007aff"/>
<rect x="522.7" y="137.4" width="2.05" height="2.05" fill="#006fff"/>
<rect x="524.7" y="137.4" width="2.05" height="2.05" fill="#0063ff"/>
<rect x="526.7" y="137.4" width="2.05" height="2.05" fill="#0058ff"/>
<rect x="528.7" y="137.4" width="4.05" height="2.05" fill="#004dff"/>
<rect x="532.7" y="137.4" width="4.05" height="2.05" fill="#0058ff"/>
<rect x="536.7" y="137.4" width="2.05" height="2.05" fill="#0063ff"/>
<rect x="538.7" y="137.4" width="4.05" height="2.05" fill="#006fff"/>
<rect x="542.7" y="137.4" width="2.05" height="2.05" fill="#0085ff"/>
<rect x="544.7" y="137.4" width="2.05" height="2.05" fill="#0091ff"/>
<rect x="546.7" y="137.4" width="2.05" height="2.05" fill="#009cff"/>
<rect x="548.7" y="137.4" width="2.05" height="2.05" fill="#00b3ff"/>
<rect x="550.7" y="137.4" width="2.05" height="2.05" fill="#00beff"/>
<rect x="552.7" y="137.4" width="2.05" height="2.05" fill="#00c9ff"/>
<rect x="554.7" y="137.4" width="2.05" height="2.05" fill="#00d4ff"/>
<rect x="504.7" y="139.4" width="6.05" height="2.05" fill="#00c9ff"/>
<rect x="510.7" y="139.4" width="2.05" height="2.05" fill="#00b3ff"/>
<rect x="512.7" y="139.4" width="2.05" height="2.05" fill="#00a7ff"/>
<rect x="514.7" y="139.4" width="2.05" height="2.05" fill="#0091ff"/>
<rect x="516.7" y="139.4" width="2.05" height="2.05" fill="#0085ff"/>
<rect x="518.7" y="139.4" width="2.05" height="2.05" fill="#007aff"/>
<rect x="520.7" y="139.4" width="2.05" height="2.05" fill="#006fff"/>
<rect x="522.7" y="139.4" width="2.05" height="2.05" fill="#0063ff"/>
<rect x="524.7" y="139.4" width="10.05" height="2.05" fill="#0058ff"/>
<rect x="534.7" y="139.4" width="2.05" height="2.05" fill="#0063ff"/>
<rect x="536.7" y="139.4" width="2.05" height="2.05" fill="#006fff"/>
<rect x="538.7" y="139.4" width="2.05" height="2.05" fill="#007aff"/>
<rect x="540.7" y="139.4" width="2.05" height="2.05" fill="#0085ff"/>
<rect x="542.7" y="139.4" width="2.05" height="2.05" fill="#0091ff"/>
<rect x="544.7" y="139.4" width="2.05" height="2.05" fill="#009cff"/>
<rect x="546.7" y="139.4" width="2.05" height="2.05" fill="#00b3ff"/>
<rect x="548.7" y="139.4" width="2.05" height="2.05" fill="#00beff"/>
<rect x="550.7" y="139.4" width="2.05" height="2.05" fill="#00c9ff"/>
<rect x="552.7" y="139.4" width="4.05" height="2.05" fill="#00e0ff"/>
<rect x="504.7" y="141.4" width="4.05" height="2.05" fill="#00d4ff"/>
<rect x="508.7" y="141.4" width="2.05" height="2.05" fill="#00c9ff"/>
<rect x="510.7" y="141.4" width="2.05" height="2.05" fill="#00b3ff"/>
<rect x="512.7" y="141.4" width="2.05" height="2.05" fill="#00a7ff"/>
<rect x="514.7" y="141.4" width="2.05" height="2.05" fill="#009cff"/>
<rect x="516.7" y="141.4" width="2.05" height="2.05" fill="#0091ff"/>
<rect x="518.7" y="141.4" width="2.05" height="2.05" fill="#0085ff"/>
<rect x="520.7" y="141.4" width="4.05" height="2.05" fill="#007aff"/>
<rect x="524.7" y="141.4" width="10.05" height="2.05" fill="#006fff"/>
<rect x="534.7" y="141.4" width="2.05" height="2.05" fill="#007aff"/>
<rect x="536.7" y="141.4" width="2.05" height="2.05" fill="#0085ff"/>
<rect x="538.7" y="141.4" width="2.05" height="2.05" fill="#0091ff"/>
<rect x="540.7" y="141.4" width="2.05" height="2.05" fill="#009cff"/>
<rect x="542.7" y="141.4" width="2.05" height="2.05" fill="#00a7ff"/>
<rect x="544.7" y="141.4" width="2.05" height="2.05" fill="#00b3ff"/>
<rect x="546.7" y="141.4" width="2.05" height="2.05" fill="#00beff"/>
<rect x="548.7" y="141.4" width="2.05" height="2.05" fill="#00c9ff"/>
<rect x="550.7" y="141.4" width="2.05" height="2.05" fill="#00e0ff"/>
<rect x="552.7" y="141.4" width="2.05" height="2.05" fill="#00ebff"/>
<rect x="554.7" y="141.4" width="4.05" height="2.05" fill="#00f6ff"/>
<rect x="504.7" y="143.4" width="4.05" height="2.05" fill="#00e0ff"/>
<rect x="508.7" y="143.4" width="2.05" height="2.05" fill="#00d4ff"/>
<rect x="510.7" y="143.4" width="2.05" height="2.05" fill="#00beff"/>
<rect x="512.7" y="143.4" width="2.05" height="2.05" fill="#00b3ff"/>
<rect x="514.7" y="143.4" width="4.05" height="2.05" fill="#00a7ff"/>
<rect x="518.7" y="143.4" width="2.05" height="2.05" fill="#009cff"/>
<rect x="520.7" y="143.4" width="4.05" height="2.05" fill="#0091ff"/>
<rect x="524.7" y="143.4" width="8.05" height="2.05" fill="#0085ff"/>
<rect x="532.7" y="143.4" width="4.05" height="2.05" fill="#0091ff"/>
<rect x="536.7" y="143.4" width="2.05" height="2.05" fill="#009cff"/>
<rect x="538.7" y="143.4" width="4.05" height="2.05" fill="#00a7ff"/>
<rect x="542.7" y="143.4" width="2.05" height="2.05" fill="#00b3ff"/>
<rect x="544.7" y="143.4" width="2.05" height="2.05" fill="#00beff"/>
<rect x="546.7" y="143.4" width="2.05" height="2.05" fill="#00d4ff"/>
<rect x="548.7" y="143.4" width="2.05" height="2.05" fill="#00e0ff"/>
<rect x="550.7" y="143.4" width="2.05" height="2.05" fill="#00ebff"/>
<rect x="552.7" y="143.4" width="2.05" height="2.05" fill="#03fffc"/>
<rect x="554.7" y="143.4" width="2.05" height="2.05" fill="#0efff1"/>
<rect x="556.7" y="143.4" width="2.05" height="2.05" fill="#1affe5"/>
<rect x="504.7" y="145.4" width="2.05" height="2.05" fill="#00f6ff"/>
<rect x="506.7" y="145.4" width="2.05" height="2.05" fill="#00ebff"/>
<rect x="508.7" y="145.4" width="2.05" height="2.05" fill="#00e0ff"/>
<rect x="510.7" y="145.4" width="2.05" height="2.05" fill="#00d4ff"/>
<rect x="512.7" y="145.4" width="2.05" height="2.05" fill="#00c9ff"/>
<rect x="514.7" y="145.4" width="2.05" height="2.05" fill="#00beff"/>
<rect x="516.7" y="145.4" width="2.05" height="2.05" fill="#00b3ff"/>
<rect x="518.7" y="145.4" width="6.05" height="2.05" fill="#00a7ff"/>
<rect x="524.7" y="145.4" width="6.05" height="2.05" fill="#009cff"/>
<rect x="530.7" y="145.4" width="4.05" height="2.05" fill="#00a7ff"/>
<rect x="534.7" y="145.4" width="2.05" height="2.05" fill="#00b3ff"/>
<rect x="536.7" y="145.4" width="2.05" height="2.05" fill="#00beff"/>
<rect x="538.7" y="145.4" width="2.05" height="2.05" fill="#00c9ff"/>
<rect x="540.7" y="145.4" width="2.05" height="2.05" fill="#00d4ff"/>
<rect x="542.7" y="145.4" width="2.05" height="2.05" fill="#00e0ff"/>
<rect x="544.7" y="145.4" width="2.05" height="2.05" fill="#00ebff"/>
<rect x="546.7" y="145.4" width="2.05" height="2.05" fill="#00f6ff"/>
<rect x="548.7" y="145.4" width="2.05" height="2.05" fill="#03fffc"/>
<rect x="550.7" y="145.4" width="2.05" height="2.05" fill="#0efff1"/>
<rect x="552.7" y="145.4" width="2.05" height="2.05" fill="#1affe5"/>
<rect x="554.7" y="145.4" width="2.05" height="2.05" fill="#25ffda"/>
<rect x="556.7" y="145.4" width="2.05" height="2.05" fill="#30ffcf"/>
<rect x="504.7" y="147.4" width="2.05" height="2.05" fill="#03fffc"/>
<rect x="506.7" y="147.4" width="2.05" height="2.05" fill="#00f6ff"/>
<rect x="508.7" y="147.4" width="2.05" height="2.05" fill="#00ebff"/>
<rect x="510.7" y="147.4" width="2.05" height="2.05" fill="#00e0ff"/>
<rect x="512.7" y="147.4" width="4.05" height="2.05" fill="#00d4ff"/>
<rect x="516.7" y="147.4" width="14.05" height="2.05" fill="#00c9ff"/>
<rect x="530.7" y="147.4" width="4.05" height="2.05" fill="#00d4ff"/>
<rect x="534.7" y="147.4" width="4.05" height="2.05" fill="#00e0ff"/>
<rect x="538.7" y="147.4" width="2.05" height="2.05" fill="#00ebff"/>
<rect x="540.7" y="147.4" width="2.05" height="2.05" fill="#00f6ff"/>
<rect x="542.7" y="147.4" width="2.05" height="2.05" fill="#03fffc"/>
<rect x="544.7" y="147.4" width="2.05" height="2.05" fill="#0efff1"/>
<rect x="546.7" y="147.4" width="2.05" height="2.05" fill="#1affe5"/>
<rect x="548.7" y="147.4" width="2.05" height="2.05" fill="#25ffda"/>
<rect x="550.7" y="147.4" width="2.05" height="2.05" fill="#30ffcf"/>
<rect x="552.7" y="147.4" width="2.05" height="2.05" fill="#3cffc3"/>
<rect x="554.7" y="147.4" width="4.05" height="2.05" fill="#47ffb8"/>
<rect x="504.7" y="149.4" width="2.05" height="2.05" fill="#1affe5"/>
<rect x="506.7" y="149.4" width="2.05" height="2.05" fill="#0efff1"/>
<rect x="508.7" y="149.4" width="4.05" height="2.05" fill="#03fffc"/>
<rect x="512.7" y="149.4" width="4.05" height="2.05" fill="#00f6ff"/>
<rect x="516.7" y="149.4" width="10.05" height="2.05" fill="#00ebff"/>
<rect x="526.7" y="149.4" width="4.05" height="2.05" fill="#00f6ff"/>
<rect x="530.7" y="149.4" width="4.05" height="2.05" fill="#03fffc"/>
<rect x="534.7" y="149.4" width="4.05" height="2.05" fill="#0efff1"/>
<rect x="538.7" y="149.4" width="2.05" height="2.05" fill="#1affe5"/>
<rect x="540.7" y="149.4" width="2.05" height="2.05" fill="#25ffda"/>
<rect x="542.7" y="149.4" width="4.05" height="2.05" fill="#30ffcf"/>
<rect x="546.7" y="149.4" width="2.05" height="2.05" fill="#3cffc3"/>
<rect x="548.7" y="149.4" width="2.05" height="2.05" fill="#47ffb8"/>
<rect x="550.7" y="149.4" width="4.05" height="2.05" fill="#52ffad"/>
<rect x="554.7" y="149.4" width="4.05" height="2.05" fill="#5effa2"/>
<rect x="504.7" y="151.4" width="2.05" height="2.05" fill="#30ffcf"/>
<rect x="506.7" y="151.4" width="4.05" height="2.05" fill="#25ffda"/>
<rect x="510.7" y="151.4" width="14.05" height="2.05" fill="#1affe5"/>
<rect x="524.7" y="151.4" width="6.05" height="2.05" fill="#25ffda"/>
<rect x="530.7" y="151.4" width="2.05" height="2.05" fill="#30ffcf"/>
<rect x="532.7" y="151.4" width="4.05" height="2.05" fill="#3cffc3"/>
<rect x="536.7" y="151.4" width="4.05" height="2.05" fill="#47ffb8"/>
<rect x="540.7" y="151.4" width="2.05" height="2.05" fill="#52ffad"/>
<rect x="542.7" y="151.4" width="2.05" height="2.05" fill="#5effa2"/>
<rect x="544.7" y="151.4" width="2.05" height="2.05" fill="#69ff96"/>
<rect x="546.7" y="151.4" width="4.05" height="2.05" fill="#74ff8b"/>
<rect x="550.7" y="151.4" width="2.05" height="2.05" fill="#80ff80"/>
<rect x="552.7" y="151.4" width="6.05" height="2.05" fill="#8bff74"/>
<rect x="504.7" y="153.4" width="6.05" height="2.05" fill="#47ffb8"/>
<rect x="510.7" y="153.4" width="6.05" height="2.05" fill="#3cffc3"/>
<rect x="516.7" y="153.4" width="8.05" height="2.05" fill="#47ffb8"/>
<rect x="524.7" y="153.4" width="2.05" height="2.05" fill="#52ffad"/>
<rect x="526.7" y="153.4" width="2.05" height="2.05" fill="#5effa2"/>
<rect x="528.7" y="153.4" width="2.05" height="2.05" fill="#69ff96"/>
<rect x="530.7" y="153.4" width="4.05" height="2.05" fill="#74ff8b"/>
<rect x="534.7" y="153.4" width="2.05" height="2.05" fill="#80ff80"/>
<rect x="536.7" y="153.4" width="2.05" height="2.05" fill="#8bff74"/>
<rect x="538.7" y="153.4" width="2.05" height="2.05" fill="#96ff69"/>
<rect x="540.7" y="153.4" width="4.05" height="2.05" fill="#a2ff5e"/>
<rect x="544.7" y="153.4" width="4.05" height="2.05" fill="#adff52"/>
<rect x="548.7" y="153.4" width="6.05" height="2.05" fill="#b8ff47"/>
<rect x="554.7" y="153.4" width="4.05" height="2.05" fill="#adff52"/>
<rect x="504.7" y="155.4" width="4.05" height="2.05" fill="#5effa2"/>
<rect x="508.7" y="155.4" width="6.05" height="2.05" fill="#69ff96"/>
<rect x="514.7" y="155.4" width="2.05" height="2.05" fill="#74ff8b"/>
<rect x="516.7" y="155.4" width="2.05" height="2.05" fill="#80ff80"/>
<rect x="518.7" y="155.4" width="4.05" height="2.05" fill="#8bff74"/>
<rect x="522.7" y="155.4" width="2.05" height="2.05" fill="#96ff69"/>
<rect x="524.7" y="155.4" width="2.05" height="2.05" fill="#a2ff5e"/>
<rect x="526.7" y="155.4" width="2.05" height="2.05" fill="#adff52"/>
<rect x="528.7" y="155.4" width="2.05" height="2.05" fill="#b8ff47"/>
<rect x="530.7" y="155.4" width="4.05" height="2.05" fill="#c3ff3c"/>
<rect x="534.7" y="155.4" width="4.05" height="2.05" fill="#cfff30"/>
<rect x="538.7" y="155.4" width="16.05" height="2.05" fill="#daff25"/>
<rect x="554.7" y="155.4" width="4.05" height="2.05" fill="#cfff30"/>
<rect x="504.7" y="157.4" width="2.05" height="2.05" fill="#8bff74"/>
<rect x="506.7" y="157.4" width="4.05" height="2.05" fill="#96ff69"/>
<rect x="510.7" y="157.4" width="2.05" height="2.05" fill="#a2ff5e"/>
<rect x="512.7" y="157.4" width="2.05" height="2.05" fill="#adff52"/>
<rect x="514.7" y="157.4" width="2.05" height="2.05" fill="#b8ff47"/>
<rect x="516.7" y="157.4" width="4.05" height="2.05" fill="#c3ff3c"/>
<rect x="520.7" y="157.4" width="2.05" height="2.05" fill="#cfff30"/>
<rect x="522.7" y="157.4" width="4.05" height="2.05" fill="#daff25"/>
<rect x="526.7" y="157.4" width="2.05" height="2.05" fill="#e5ff1a"/>
<rect x="528.7" y="157.4" width="4.05" height="2.05" fill="#f1ff0e"/>
<rect x="532.7" y="157.4" width="4.05" height="2.05" fill="#fcff03"/>
<rect x="536.7" y="157.4" width="4.05" height="2.05" fill="#fff700"/>
<rect x="540.7" y="157.4" width="12.05" height="2.05" fill="#ffeb00"/>
<rect x="552.7" y="157.4" width="2.05" height="2.05" fill="#fff700"/>
<rect x="554.7" y="157.4" width="2.05" height="2.05" fill="#fcff03"/>
<rect x="556.7" y="157.4" width="2.05" height="2.05" fill="#f1ff0e"/>
<rect x="504.7" y="159.4" width="2.05" height="2.05" fill="#adff52"/>
<rect x="506.7" y="159.4" width="2.05" height="2.05" fill="#b8ff47"/>
<rect x="508.7" y="159.4" width="2.05" height="2.05" fill="#c3ff3c"/>
<rect x="510.7" y="159.4" width="2.05" height="2.05" fill="#cfff30"/>
<rect x="512.7" y="159.4" width="2.05" height="2.05" fill="#daff25"/>
<rect x="514.7" y="159.4" width="2.05" height="2.05" fill="#e5ff1a"/>
<rect x="516.7" y="159.4" width="4.05" height="2.05" fill="#f1ff0e"/>
<rect x="520.7" y="159.4" width="2.05" height="2.05" fill="#fff700"/>
<rect x="522.7" y="159.4" width="2.05" height="2.05" fill="#ffeb00"/>
<rect x="524.7" y="159.4" width="2.05" height="2.05" fill="#ffe000"/>
<rect x="526.7" y="159.4" width="2.05" height="2.05" fill="#ffd500"/>
<rect x="528.7" y="159.4" width="2.05" height="2.05" fill="#ffc900"/>
<rect x="530.7" y="159.4" width="2.05" height="2.05" fill="#ffbe00"/>
<rect x="532.7" y="159.4" width="2.05" height="2.05" fill="#ffb300"/>
<rect x="534.7" y="159.4" width="4.05" height="2.05" fill="#ffa700"/>
<rect x="538.7" y="159.4" width="8.05" height="2.05" fill="#ff9c00"/>
<rect x="546.7" y="159.4" width="4.05" height="2.05" fill="#ffa700"/>
<rect x="550.7" y="159.4" width="2.05" height="2.05" fill="#ffb300"/>
<rect x="552.7" y="159.4" width="2.05" height="2.05" fill="#ffbe00"/>
<rect x="554.7" y="159.4" width="2.05" height="2.05" fill="#ffd500"/>
<rect x="556.7" y="159.4" width="2.05" height="2.05" fill="#ffe000"/>
<rect x="504.7" y="161.4" width="2.05" height="2.05" fill="#c3ff3c"/>
<rect x="506.7" y="161.4" width="2.05" height="2.05" fill="#daff25"/>
<rect x="508.7" y="161.4" width="2.05" height="2.05" fill="#e5ff1a"/>
<rect x="510.7" y="161.4" width="2.05" height="2.05" fill="#fcff03"/>
<rect x="512.7" y="161.4" width="2.05" height="2.05" fill="#ffeb00"/>
<rect x="514.7" y="161.4" width="2.05" height="2.05" fill="#ffe000"/>
<rect x="516.7" y="161.4" width="2.05" height="2.05" fill="#ffc900"/>
<rect x="518.7" y="161.4" width="2.05" height="2.05" fill="#ffbe00"/>
<rect x="520.7" y="161.4" width="2.05" height="2.05" fill="#ffb300"/>
<rect x="522.7" y="161.4" width="2.05" height="2.05" fill="#ff9c00"/>
<rect x="524.7" y="161.4" width="2.05" height="2.05" fill="#ff9100"/>
<rect x="526.7" y="161.4" width="2.05" height="2.05" fill="#ff8500"/>
<rect x="528.7" y="161.4" width="2.05" height="2.05" fill="#ff6e00"/>
<rect x="530.7" y="161.4" width="2.05" height="2.05" fill="#ff6300"/>
<rect x="532.7" y="161.4" width="2.05" height="2.05" fill="#ff5800"/>
<rect x="534.7" y="161.4" width="2.05" height="2.05" fill="#ff4c00"/>
<rect x="536.7" y="161.4" width="4.05" height="2.05" fill="#ff4100"/>
<rect x="540.7" y="161.4" width="4.05" height="2.05" fill="#ff4c00"/>
<rect x="544.7" y="161.4" width="2.05" height="2.05" fill="#ff5800"/>
<rect x="546.7" y="161.4" width="2.05" height="2.05" fill="#ff6300"/>
<rect x="548.7" y="161.4" width="2.05" height="2.05" fill="#ff7a00"/>
<rect x="550.7" y="161.4" width="2.05" height="2.05" fill="#ff8500"/>
<rect x="552.7" y="161.4" width="2.05" height="2.05" fill="#ff9c00"/>
<rect x="554.7" y="161.4" width="2.05" height="2.05" fill="#ffa700"/>
<rect x="556.7" y="161.4" width="2.05" height="2.05" fill="#ffb300"/>
<rect x="506.7" y="163.4" width="2.05" height="2.05" fill="#fff700"/>
<rect x="508.7" y="163.4" width="2.05" height="2.05" fill="#ffe000"/>
<rect x="510.7" y="163.4" width="2.05" height="2.05" fill="#ffc900"/>
<rect x="512.7" y="163.4" width="2.05" height="2.05" fill="#ffb300"/>
<rect x="514.7" y="163.4" width="2.05" height="2.05" fill="#ff9c00"/>
<rect x="516.7" y="163.4" width="2.05" height="2.05" fill="#ff8500"/>
<rect x="518.7" y="163.4" width="2.05" height="2.05" fill="#ff6e00"/>
<rect x="520.7" y="163.4" width="2.05" height="2.05" fill="#ff6300"/>
<rect x="522.7" y="163.4" width="2.05" height="2.05" fill="#ff4c00"/>
<rect x="524.7" y="163.4" width="2.05" height="2.05" fill="#ff4100"/>
<rect x="526.7" y="163.4" width="2.05" height="2.05" fill="#ff2a00"/>
<rect x="528.7" y="163.4" width="2.05" height="2.05" fill="#ff1400"/>
<rect x="530.7" y="163.4" width="2.05" height="2.05" fill="#ff0800"/>
<rect x="532.7" y="163.4" width="4.05" height="2.05" fill="#fc0000"/>
<rect x="536.7" y="163.4" width="2.05" height="2.05" fill="#f10000"/>
<rect x="538.7" y="163.4" width="2.05" height="2.05" fill="#fc0000"/>
<rect x="540.7" y="163.4" width="2.05" height="2.05" fill="#ff1400"/>
<rect x="542.7" y="163.4" width="2.05" height="2.05" fill="#ff1f00"/>
<rect x="544.7" y="163.4" width="2.05" height="2.05" fill="#ff3600"/>
<rect x="546.7" y="163.4" width="2.05" height="2.05" fill="#ff4c00"/>
<rect x="548.7" y="163.4" width="2.05" height="2.05" fill="#ff6300"/>
<rect x="550.7" y="163.4" width="2.05" height="2.05" fill="#ff7a00"/>
<rect x="552.7" y="163.4" width="2.05" height="2.05" fill="#ff8500"/>
<rect x="554.7" y="163.4" width="2.05" height="2.05" fill="#ff9100"/>
<rect x="506.7" y="165.4" width="2.05" height="2.05" fill="#ffc900"/>
<rect x="508.7" y="165.4" width="2.05" height="2.05" fill="#ffa700"/>
<rect x="510.7" y="165.4" width="2.05" height="2.05" fill="#ff9100"/>
<rect x="512.7" y="165.4" width="2.05" height="2.05" fill="#ff6e00"/>
<rect x="514.7" y="165.4" width="2.05" height="2.05" fill="#ff6300"/>
<rect x="516.7" y="165.4" width="2.05" height="2.05" fill="#ff4c00"/>
<rect x="518.7" y="165.4" width="2.05" height="2.05" fill="#ff4100"/>
<rect x="520.7" y="165.4" width="2.05" height="2.05" fill="#ff2a00"/>
<rect x="522.7" y="165.4" width="2.05" height="2.05" fill="#ff1f00"/>
<rect x="524.7" y="165.4" width="2.05" height="2.05" fill="#ff1400"/>
<rect x="526.7" y="165.4" width="2.05" height="2.05" fill="#ff0800"/>
<rect x="528.7" y="165.4" width="2.05" height="2.05" fill="#fc0000"/>
<rect x="530.7" y="165.4" width="2.05" height="2.05" fill="#f10000"/>
<rect x="532.7" y="165.4" width="2.05" height="2.05" fill="#e50000"/>
<rect x="534.7" y="165.4" width="4.05" height="2.05" fill="#da0000"/>
<rect x="538.7" y="165.4" width="2.05" height="2.05" fill="#e50000"/>
<rect x="540.7" y="165.4" width="2.05" height="2.05" fill="#fc0000"/>
<rect x="542.7" y="165.4" width="2.05" height="2.05" fill="#ff1400"/>
<rect x="544.7" y="165.4" width="2.05" height="2.05" fill="#ff3600"/>
<rect x="546.7" y="165.4" width="2.05" height="2.05" fill="#ff4c00"/>
<rect x="548.7" y="165.4" width="2.05" height="2.05" fill="#ff6300"/>
<rect x="550.7" y="165.4" width="4.05" height="2.05" fill="#ff7a00"/>
<rect x="554.7" y="165.4" width="2.05" height="2.05" fill="#ff8500"/>
<rect x="508.7" y="167.4" width="2.05" height="2.05" fill="#ff8500"/>
<rect x="510.7" y="167.4" width="2.05" height="2.05" fill="#ff6e00"/>
<rect x="512.7" y="167.4" width="2.05" height="2.05" fill="#ff6300"/>
<rect x="514.7" y="167.4" width="2.05" height="2.05" fill="#ff4c00"/>
<rect x="516.7" y="167.4" width="2.05" height="2.05" fill="#ff3600"/>
<rect x="518.7" y="167.4" width="2.05" height="2.05" fill="#ff2a00"/>
<rect x="520.7" y="167.4" width="2.05" height="2.05" fill="#ff1f00"/>
<rect x="522.7" y="167.4" width="2.05" height="2.05" fill="#ff1400"/>
<rect x="524.7" y="167.4" width="4.05" height="2.05" fill="#ff0800"/>
<rect x="528.7" y="167.4" width="2.05" height="2.05" fill="#fc0000"/>
<rect x="530.7" y="167.4" width="8.05" height="2.05" fill="#f10000"/>
<rect x="538.7" y="167.4" width="2.05" height="2.05" fill="#fc0000"/>
<rect x="540.7" y="167.4" width="2.05" height="2.05" fill="#ff0800"/>
<rect x="542.7" y="167.4" width="2.05" height="2.05" fill="#ff1f00"/>
<rect x="544.7" y="167.4" width="2.05" height="2.05" fill="#ff3600"/>
<rect x="546.7" y="167.4" width="2.05" height="2.05" fill="#ff4c00"/>
<rect x="548.7" y="167.4" width="2.05" height="2.05" fill="#ff6300"/>
<rect x="550.7" y="167.4" width="4.05" height="2.05" fill="#ff6e00"/>
<rect x="508.7" y="169.4" width="2.05" height="2.05" fill="#ff6e00"/>
<rect x="510.7" y="169.4" width="2.05" height="2.05" fill="#ff6300"/>
<rect x="512.7" y="169.4" width="2.05" height="2.05" fill="#ff5800"/>
<rect x="514.7" y="169.4" width="2.05" height="2.05" fill="#ff4c00"/>
<rect x="516.7" y="169.4" width="2.05" height="2.05" fill="#ff3600"/>
<rect x="518.7" y="169.4" width="2.05" height="2.05" fill="#ff2a00"/>
<rect x="520.7" y="169.4" width="2.05" height="2.05" fill="#ff1f00"/>
<rect x="522.7" y="169.4" width="2.05" height="2.05" fill="#ff1400"/>
<rect x="524.7" y="169.4" width="6.05" height="2.05" fill="#ff0800"/>
<rect x="530.7" y="169.4" width="4.05" height="2.05" fill="#fc0000"/>
<rect x="534.7" y="169.4" width="4.05" height="2.05" fill="#ff0800"/>
<rect x="538.7" y="169.4" width="2.05" height="2.05" fill="#ff1400"/>
<rect x="540.7" y="169.4" width="2.05" height="2.05" fill="#ff1f00"/>
<rect x="542.7" y="169.4" width="2.05" height="2.05" fill="#ff3600"/>
<rect x="544.7" y="169.4" width="2.05" height="2.05" fill="#ff4c00"/>
<rect x="546.7" y="169.4" width="2.05" height="2.05" fill="#ff5800"/>
<rect x="548.7" y="169.4" width="4.05" height="2.05" fill="#ff6300"/>
<rect x="510.7" y="171.4" width="2.05" height="2.05" fill="#ff5800"/>
<rect x="512.7" y="171.4" width="2.05" height="2.05" fill="#ff4c00"/>
<rect x="514.7" y="171.4" width="4.05" height="2.05" fill="#ff4100"/>
<rect x="518.7" y="171.4" width="4.05" height="2.05" fill="#ff2a00"/>
<rect x="522.7" y="171.4" width="2.05" height="2.05" fill="#ff1f00"/>
<rect x="524.7" y="171.4" width="10.05" height="2.05" fill="#ff1400"/>
<rect x="534.7" y="171.4" width="4.05" height="2.05" fill="#ff1f00"/>
<rect x="538.7" y="171.4" width="2.05" height="2.05" fill="#ff2a00"/>
<rect x="540.7" y="171.4" width="2.05" height="2.05" fill="#ff3600"/>
<rect x="542.7" y="171.4" width="2.05" height="2.05" fill="#ff4c00"/>
<rect x="544.7" y="171.4" width="6.05" height="2.05" fill="#ff5800"/>
<rect x="514.7" y="173.4" width="4.05" height="2.05" fill="#ff4100"/>
<rect x="518.7" y="173.4" width="4.05" height="2.05" fill="#ff3600"/>
<rect x="522.7" y="173.4" width="6.05" height="2.05" fill="#ff2a00"/>
<rect x="528.7" y="173.4" width="2.05" height="2.05" fill="#ff1f00"/>
<rect x="530.7" y="173.4" width="6.05" height="2.05" fill="#ff2a00"/>
<rect x="536.7" y="173.4" width="2.05" height="2.05" fill="#ff3600"/>
<rect x="538.7" y="173.4" width="2.05" height="2.05" fill="#ff4100"/>
<rect x="540.7" y="173.4" width="4.05" height="2.05" fill="#ff4c00"/>
<rect x="544.7" y="173.4" width="4.05" height="2.05" fill="#ff5800"/>
<rect x="516.7" y="175.4" width="18.05" height="2.05" fill="#ff3600"/>
<rect x="534.7" y="175.4" width="6.05" height="2.05" fill="#ff4100"/>
<rect x="540.7" y="175.4" width="6.05" height="2.05" fill="#ff4c00"/>
<rect x="520.7" y="177.4" width="14.05" height="2.05" fill="#ff3600"/>
<rect x="534.7" y="177.4" width="6.05" height="2.05" fill="#ff4100"/>
<rect x="540.7" y="177.4" width="2.05" height="2.05" fill="#ff4c00"/>
</g></g>
<circle cx="531.4" cy="152.29999999999998" r="18.40" fill="none" stroke="#1a1a1a" stroke-width="0.9"/>
<path d="M528.20 134.30L531.40 130.50L534.60 134.30" fill="none" stroke="#1a1a1a" stroke-width="0.9"/>
<path d="M513.00 147.60c-1.60 0 -2.20 0.5 -2.20 2v6.2c0 1.5 0.60 2 2.20 2" fill="none" stroke="#1a1a1a" stroke-width="0.75"/>
<path d="M549.80 147.60c1.60 0 2.20 0.5 2.20 2v6.2c0 1.5 -0.60 2 -2.20 2" fill="none" stroke="#1a1a1a" stroke-width="0.75"/>
<g clip-path="url(#cpb)"><g filter="url(#tb)">
<rect x="573.4" y="125.1" width="2.05" height="2.05" fill="#00e0ff"/>
<rect x="575.4" y="125.1" width="2.05" height="2.05" fill="#00c9ff"/>
<rect x="577.4" y="125.1" width="2.05" height="2.05" fill="#00beff"/>
<rect x="579.4" y="125.1" width="2.05" height="2.05" fill="#00a7ff"/>
<rect x="581.4" y="125.1" width="2.05" height="2.05" fill="#0091ff"/>
<rect x="583.4" y="125.1" width="2.05" height="2.05" fill="#006fff"/>
<rect x="585.4" y="125.1" width="2.05" height="2.05" fill="#0041ff"/>
<rect x="587.4" y="125.1" width="2.05" height="2.05" fill="#0036ff"/>
<rect x="589.4" y="125.1" width="2.05" height="2.05" fill="#002aff"/>
<rect x="591.4" y="125.1" width="2.05" height="2.05" fill="#001fff"/>
<rect x="593.4" y="125.1" width="2.05" height="2.05" fill="#0014ff"/>
<rect x="595.4" y="125.1" width="2.05" height="2.05" fill="#0008ff"/>
<rect x="597.4" y="125.1" width="2.05" height="2.05" fill="#0000fc"/>
<rect x="571.4" y="127.1" width="2.05" height="2.05" fill="#00f6ff"/>
<rect x="573.4" y="127.1" width="2.05" height="2.05" fill="#00ebff"/>
<rect x="575.4" y="127.1" width="2.05" height="2.05" fill="#00d4ff"/>
<rect x="577.4" y="127.1" width="2.05" height="2.05" fill="#00beff"/>
<rect x="579.4" y="127.1" width="2.05" height="2.05" fill="#00a7ff"/>
<rect x="581.4" y="127.1" width="2.05" height="2.05" fill="#0085ff"/>
<rect x="583.4" y="127.1" width="2.05" height="2.05" fill="#006fff"/>
<rect x="585.4" y="127.1" width="2.05" height="2.05" fill="#0036ff"/>
<rect x="587.4" y="127.1" width="2.05" height="2.05" fill="#002aff"/>
<rect x="589.4" y="127.1" width="2.05" height="2.05" fill="#001fff"/>
<rect x="591.4" y="127.1" width="4.05" height="2.05" fill="#0014ff"/>
<rect x="595.4" y="127.1" width="2.05" height="2.05" fill="#0008ff"/>
<rect x="597.4" y="127.1" width="2.05" height="2.05" fill="#0000fc"/>
<rect x="599.4" y="127.1" width="2.05" height="2.05" fill="#0000f1"/>
<rect x="567.4" y="129.1" width="2.05" height="2.05" fill="#1affe5"/>
<rect x="569.4" y="129.1" width="2.05" height="2.05" fill="#0efff1"/>
<rect x="571.4" y="129.1" width="2.05" height="2.05" fill="#03fffc"/>
<rect x="573.4" y="129.1" width="2.05" height="2.05" fill="#00ebff"/>
<rect x="575.4" y="129.1" width="2.05" height="2.05" fill="#00d4ff"/>
<rect x="577.4" y="129.1" width="2.05" height="2.05" fill="#00b3ff"/>
<rect x="579.4" y="129.1" width="2.05" height="2.05" fill="#009cff"/>
<rect x="581.4" y="129.1" width="2.05" height="2.05" fill="#007aff"/>
<rect x="583.4" y="129.1" width="2.05" height="2.05" fill="#0058ff"/>
<rect x="585.4" y="129.1" width="2.05" height="2.05" fill="#002aff"/>
<rect x="587.4" y="129.1" width="2.05" height="2.05" fill="#001fff"/>
<rect x="589.4" y="129.1" width="2.05" height="2.05" fill="#0014ff"/>
<rect x="591.4" y="129.1" width="4.05" height="2.05" fill="#0008ff"/>
<rect x="595.4" y="129.1" width="2.05" height="2.05" fill="#0000fc"/>
<rect x="597.4" y="129.1" width="4.05" height="2.05" fill="#0000f1"/>
<rect x="601.4" y="129.1" width="4.05" height="2.05" fill="#0000e6"/>
<rect x="565.4" y="131.1" width="2.05" height="2.05" fill="#30ffcf"/>
<rect x="567.4" y="131.1" width="2.05" height="2.05" fill="#25ffda"/>
<rect x="569.4" y="131.1" width="2.05" height="2.05" fill="#1affe5"/>
<rect x="571.4" y="131.1" width="2.05" height="2.05" fill="#03fffc"/>
<rect x="573.4" y="131.1" width="2.05" height="2.05" fill="#00e0ff"/>
<rect x="575.4" y="131.1" width="2.05" height="2.05" fill="#00c9ff"/>
<rect x="577.4" y="131.1" width="2.05" height="2.05" fill="#00a7ff"/>
<rect x="579.4" y="131.1" width="2.05" height="2.05" fill="#0091ff"/>
<rect x="581.4" y="131.1" width="2.05" height="2.05" fill="#006fff"/>
<rect x="583.4" y="131.1" width="2.05" height="2.05" fill="#004dff"/>
<rect x="585.4" y="131.1" width="2.05" height="2.05" fill="#001fff"/>
<rect x="587.4" y="131.1" width="2.05" height="2.05" fill="#0014ff"/>
<rect x="589.4" y="131.1" width="2.05" height="2.05" fill="#0008ff"/>
<rect x="591.4" y="131.1" width="2.05" height="2.05" fill="#0000fc"/>
<rect x="593.4" y="131.1" width="4.05" height="2.05" fill="#0000f1"/>
<rect x="597.4" y="131.1" width="6.05" height="2.05" fill="#0000e6"/>
<rect x="603.4" y="131.1" width="4.05" height="2.05" fill="#0000da"/>
<rect x="563.4" y="133.1" width="4.05" height="2.05" fill="#3cffc3"/>
<rect x="567.4" y="133.1" width="2.05" height="2.05" fill="#30ffcf"/>
<rect x="569.4" y="133.1" width="2.05" height="2.05" fill="#0efff1"/>
<rect x="571.4" y="133.1" width="2.05" height="2.05" fill="#00f6ff"/>
<rect x="573.4" y="133.1" width="2.05" height="2.05" fill="#00d4ff"/>
<rect x="575.4" y="133.1" width="2.05" height="2.05" fill="#00beff"/>
<rect x="577.4" y="133.1" width="2.05" height="2.05" fill="#009cff"/>
<rect x="579.4" y="133.1" width="2.05" height="2.05" fill="#007aff"/>
<rect x="581.4" y="133.1" width="2.05" height="2.05" fill="#0058ff"/>
<rect x="583.4" y="133.1" width="2.05" height="2.05" fill="#0036ff"/>
<rect x="585.4" y="133.1" width="2.05" height="2.05" fill="#0008ff"/>
<rect x="587.4" y="133.1" width="2.05" height="2.05" fill="#0000fc"/>
<rect x="589.4" y="133.1" width="2.05" height="2.05" fill="#0000f1"/>
<rect x="591.4" y="133.1" width="2.05" height="2.05" fill="#0000e6"/>
<rect x="593.4" y="133.1" width="16.05" height="2.05" fill="#0000da"/>
<rect x="563.4" y="135.1" width="4.05" height="2.05" fill="#47ffb8"/>
<rect x="567.4" y="135.1" width="2.05" height="2.05" fill="#30ffcf"/>
<rect x="569.4" y="135.1" width="2.05" height="2.05" fill="#0efff1"/>
<rect x="571.4" y="135.1" width="2.05" height="2.05" fill="#00ebff"/>
<rect x="573.4" y="135.1" width="2.05" height="2.05" fill="#00c9ff"/>
<rect x="575.4" y="135.1" width="2.05" height="2.05" fill="#00b3ff"/>
<rect x="577.4" y="135.1" width="2.05" height="2.05" fill="#0091ff"/>
<rect x="579.4" y="135.1" width="2.05" height="2.05" fill="#006fff"/>
<rect x="581.4" y="135.1" width="2.05" height="2.05" fill="#004dff"/>
<rect x="583.4" y="135.1" width="2.05" height="2.05" fill="#002aff"/>
<rect x="585.4" y="135.1" width="2.05" height="2.05" fill="#0000f1"/>
<rect x="587.4" y="135.1" width="2.05" height="2.05" fill="#0000e6"/>
<rect x="589.4" y="135.1" width="4.05" height="2.05" fill="#0000cf"/>
<rect x="593.4" y="135.1" width="4.05" height="2.05" fill="#0000c3"/>
<rect x="597.4" y="135.1" width="8.05" height="2.05" fill="#0000cf"/>
<rect x="605.4" y="135.1" width="2.05" height="2.05" fill="#0000da"/>
<rect x="607.4" y="135.1" width="2.05" height="2.05" fill="#0000cf"/>
<rect x="561.4" y="137.1" width="4.05" height="2.05" fill="#5effa2"/>
<rect x="565.4" y="137.1" width="2.05" height="2.05" fill="#47ffb8"/>
<rect x="567.4" y="137.1" width="2.05" height="2.05" fill="#25ffda"/>
<rect x="569.4" y="137.1" width="2.05" height="2.05" fill="#03fffc"/>
<rect x="571.4" y="137.1" width="2.05" height="2.05" fill="#00e0ff"/>
<rect x="573.4" y="137.1" width="2.05" height="2.05" fill="#00c9ff"/>
<rect x="575.4" y="137.1" width="2.05" height="2.05" fill="#00a7ff"/>
<rect x="577.4" y="137.1" width="2.05" height="2.05" fill="#0085ff"/>
<rect x="579.4" y="137.1" width="2.05" height="2.05" fill="#0063ff"/>
<rect x="581.4" y="137.1" width="2.05" height="2.05" fill="#0041ff"/>
<rect x="583.4" y="137.1" width="2.05" height="2.05" fill="#0014ff"/>
<rect x="585.4" y="137.1" width="2.05" height="2.05" fill="#0000da"/>
<rect x="587.4" y="137.1" width="2.05" height="2.05" fill="#0000c3"/>
<rect x="589.4" y="137.1" width="2.05" height="2.05" fill="#0000b8"/>
<rect x="591.4" y="137.1" width="4.05" height="2.05" fill="#0000ad"/>
<rect x="595.4" y="137.1" width="4.05" height="2.05" fill="#0000b8"/>
<rect x="599.4" y="137.1" width="4.05" height="2.05" fill="#0000c3"/>
<rect x="603.4" y="137.1" width="8.05" height="2.05" fill="#0000cf"/>
<rect x="559.4" y="139.1" width="2.05" height="2.05" fill="#47ffb8"/>
<rect x="561.4" y="139.1" width="2.05" height="2.05" fill="#52ffad"/>
<rect x="563.4" y="139.1" width="2.05" height="2.05" fill="#5effa2"/>
<rect x="565.4" y="139.1" width="2.05" height="2.05" fill="#3cffc3"/>
<rect x="567.4" y="139.1" width="2.05" height="2.05" fill="#1affe5"/>
<rect x="569.4" y="139.1" width="2.05" height="2.05" fill="#00f6ff"/>
<rect x="571.4" y="139.1" width="2.05" height="2.05" fill="#00d4ff"/>
<rect x="573.4" y="139.1" width="2.05" height="2.05" fill="#00beff"/>
<rect x="575.4" y="139.1" width="2.05" height="2.05" fill="#009cff"/>
<rect x="577.4" y="139.1" width="2.05" height="2.05" fill="#007aff"/>
<rect x="579.4" y="139.1" width="2.05" height="2.05" fill="#0058ff"/>
<rect x="581.4" y="139.1" width="2.05" height="2.05" fill="#002aff"/>
<rect x="583.4" y="139.1" width="2.05" height="2.05" fill="#0000fc"/>
<rect x="585.4" y="139.1" width="2.05" height="2.05" fill="#0000c3"/>
<rect x="587.4" y="139.1" width="2.05" height="2.05" fill="#0000ad"/>
<rect x="589.4" y="139.1" width="2.05" height="2.05" fill="#0000a2"/>
<rect x="591.4" y="139.1" width="4.05" height="2.05" fill="#000096"/>
<rect x="595.4" y="139.1" width="2.05" height="2.05" fill="#0000a2"/>
<rect x="597.4" y="139.1" width="2.05" height="2.05" fill="#0000ad"/>
<rect x="599.4" y="139.1" width="2.05" height="2.05" fill="#0000b8"/>
<rect x="601.4" y="139.1" width="2.05" height="2.05" fill="#0000c3"/>
<rect x="603.4" y="139.1" width="4.05" height="2.05" fill="#0000cf"/>
<rect x="607.4" y="139.1" width="2.05" height="2.05" fill="#0000da"/>
<rect x="609.4" y="139.1" width="2.05" height="2.05" fill="#0000f1"/>
<rect x="559.4" y="141.1" width="4.05" height="2.05" fill="#52ffad"/>
<rect x="563.4" y="141.1" width="2.05" height="2.05" fill="#3cffc3"/>
<rect x="565.4" y="141.1" width="2.05" height="2.05" fill="#25ffda"/>
<rect x="567.4" y="141.1" width="2.05" height="2.05" fill="#03fffc"/>
<rect x="569.4" y="141.1" width="2.05" height="2.05" fill="#00ebff"/>
<rect x="571.4" y="141.1" width="2.05" height="2.05" fill="#00d4ff"/>
<rect x="573.4" y="141.1" width="2.05" height="2.05" fill="#00b3ff"/>
<rect x="575.4" y="141.1" width="2.05" height="2.05" fill="#009cff"/>
<rect x="577.4" y="141.1" width="2.05" height="2.05" fill="#007aff"/>
<rect x="579.4" y="141.1" width="2.05" height="2.05" fill="#0063ff"/>
<rect x="581.4" y="141.1" width="2.05" height="2.05" fill="#0041ff"/>
<rect x="583.4" y="141.1" width="2.05" height="2.05" fill="#0014ff"/>
<rect x="585.4" y="141.1" width="2.05" height="2.05" fill="#0000e6"/>
<rect x="587.4" y="141.1" width="2.05" height="2.05" fill="#0000cf"/>
<rect x="589.4" y="141.1" width="6.05" height="2.05" fill="#0000c3"/>
<rect x="595.4" y="141.1" width="2.05" height="2.05" fill="#0000cf"/>
<rect x="597.4" y="141.1" width="2.05" height="2.05" fill="#0000da"/>
<rect x="599.4" y="141.1" width="2.05" height="2.05" fill="#0000e6"/>
<rect x="601.4" y="141.1" width="2.05" height="2.05" fill="#0000f1"/>
<rect x="603.4" y="141.1" width="2.05" height="2.05" fill="#0000fc"/>
<rect x="605.4" y="141.1" width="2.05" height="2.05" fill="#0008ff"/>
<rect x="607.4" y="141.1" width="2.05" height="2.05" fill="#0014ff"/>
<rect x="609.4" y="141.1" width="2.05" height="2.05" fill="#001fff"/>
<rect x="611.4" y="141.1" width="2.05" height="2.05" fill="#0036ff"/>
<rect x="559.4" y="143.1" width="4.05" height="2.05" fill="#5effa2"/>
<rect x="563.4" y="143.1" width="2.05" height="2.05" fill="#47ffb8"/>
<rect x="565.4" y="143.1" width="2.05" height="2.05" fill="#25ffda"/>
<rect x="567.4" y="143.1" width="2.05" height="2.05" fill="#0efff1"/>
<rect x="569.4" y="143.1" width="2.05" height="2.05" fill="#00f6ff"/>
<rect x="571.4" y="143.1" width="2.05" height="2.05" fill="#00e0ff"/>
<rect x="573.4" y="143.1" width="2.05" height="2.05" fill="#00c9ff"/>
<rect x="575.4" y="143.1" width="2.05" height="2.05" fill="#00b3ff"/>
<rect x="577.4" y="143.1" width="2.05" height="2.05" fill="#009cff"/>
<rect x="579.4" y="143.1" width="2.05" height="2.05" fill="#0085ff"/>
<rect x="581.4" y="143.1" width="2.05" height="2.05" fill="#006fff"/>
<rect x="583.4" y="143.1" width="2.05" height="2.05" fill="#004dff"/>
<rect x="585.4" y="143.1" width="2.05" height="2.05" fill="#002aff"/>
<rect x="587.4" y="143.1" width="4.05" height="2.05" fill="#0014ff"/>
<rect x="591.4" y="143.1" width="2.05" height="2.05" fill="#0008ff"/>
<rect x="593.4" y="143.1" width="4.05" height="2.05" fill="#0014ff"/>
<rect x="597.4" y="143.1" width="2.05" height="2.05" fill="#001fff"/>
<rect x="599.4" y="143.1" width="2.05" height="2.05" fill="#002aff"/>
<rect x="601.4" y="143.1" width="4.05" height="2.05" fill="#0036ff"/>
<rect x="605.4" y="143.1" width="4.05" height="2.05" fill="#0041ff"/>
<rect x="609.4" y="143.1" width="2.05" height="2.05" fill="#004dff"/>
<rect x="611.4" y="143.1" width="2.05" height="2.05" fill="#0063ff"/>
<rect x="559.4" y="145.1" width="4.05" height="2.05" fill="#5effa2"/>
<rect x="563.4" y="145.1" width="2.05" height="2.05" fill="#47ffb8"/>
<rect x="565.4" y="145.1" width="2.05" height="2.05" fill="#30ffcf"/>
<rect x="567.4" y="145.1" width="2.05" height="2.05" fill="#1affe5"/>
<rect x="569.4" y="145.1" width="2.05" height="2.05" fill="#0efff1"/>
<rect x="571.4" y="145.1" width="2.05" height="2.05" fill="#00f6ff"/>
<rect x="573.4" y="145.1" width="2.05" height="2.05" fill="#00ebff"/>
<rect x="575.4" y="145.1" width="2.05" height="2.05" fill="#00d4ff"/>
<rect x="577.4" y="145.1" width="2.05" height="2.05" fill="#00c9ff"/>
<rect x="579.4" y="145.1" width="2.05" height="2.05" fill="#00b3ff"/>
<rect x="581.4" y="145.1" width="2.05" height="2.05" fill="#00a7ff"/>
<rect x="583.4" y="145.1" width="2.05" height="2.05" fill="#0091ff"/>
<rect x="585.4" y="145.1" width="4.05" height="2.05" fill="#006fff"/>
<rect x="589.4" y="145.1" width="8.05" height="2.05" fill="#0063ff"/>
<rect x="597.4" y="145.1" width="4.05" height="2.05" fill="#006fff"/>
<rect x="601.4" y="145.1" width="4.05" height="2.05" fill="#007aff"/>
<rect x="605.4" y="145.1" width="4.05" height="2.05" fill="#0085ff"/>
<rect x="609.4" y="145.1" width="2.05" height="2.05" fill="#0091ff"/>
<rect x="611.4" y="145.1" width="2.05" height="2.05" fill="#009cff"/>
<rect x="559.4" y="147.1" width="4.05" height="2.05" fill="#69ff96"/>
<rect x="563.4" y="147.1" width="2.05" height="2.05" fill="#52ffad"/>
<rect x="565.4" y="147.1" width="2.05" height="2.05" fill="#47ffb8"/>
<rect x="567.4" y="147.1" width="2.05" height="2.05" fill="#3cffc3"/>
<rect x="569.4" y="147.1" width="2.05" height="2.05" fill="#25ffda"/>
<rect x="571.4" y="147.1" width="2.05" height="2.05" fill="#1affe5"/>
<rect x="573.4" y="147.1" width="2.05" height="2.05" fill="#0efff1"/>
<rect x="575.4" y="147.1" width="2.05" height="2.05" fill="#03fffc"/>
<rect x="577.4" y="147.1" width="2.05" height="2.05" fill="#00f6ff"/>
<rect x="579.4" y="147.1" width="2.05" height="2.05" fill="#00ebff"/>
<rect x="581.4" y="147.1" width="2.05" height="2.05" fill="#00e0ff"/>
<rect x="583.4" y="147.1" width="2.05" height="2.05" fill="#00d4ff"/>
<rect x="585.4" y="147.1" width="4.05" height="2.05" fill="#00beff"/>
<rect x="589.4" y="147.1" width="8.05" height="2.05" fill="#00b3ff"/>
<rect x="597.4" y="147.1" width="8.05" height="2.05" fill="#00beff"/>
<rect x="605.4" y="147.1" width="4.05" height="2.05" fill="#00c9ff"/>
<rect x="609.4" y="147.1" width="4.05" height="2.05" fill="#00d4ff"/>
<rect x="559.4" y="149.1" width="4.05" height="2.05" fill="#74ff8b"/>
<rect x="563.4" y="149.1" width="2.05" height="2.05" fill="#69ff96"/>
<rect x="565.4" y="149.1" width="2.05" height="2.05" fill="#5effa2"/>
<rect x="567.4" y="149.1" width="4.05" height="2.05" fill="#52ffad"/>
<rect x="571.4" y="149.1" width="2.05" height="2.05" fill="#47ffb8"/>
<rect x="573.4" y="149.1" width="4.05" height="2.05" fill="#3cffc3"/>
<rect x="577.4" y="149.1" width="4.05" height="2.05" fill="#30ffcf"/>
<rect x="581.4" y="149.1" width="2.05" height="2.05" fill="#25ffda"/>
<rect x="583.4" y="149.1" width="2.05" height="2.05" fill="#1affe5"/>
<rect x="585.4" y="149.1" width="16.05" height="2.05" fill="#0efff1"/>
<rect x="601.4" y="149.1" width="10.05" height="2.05" fill="#1affe5"/>
<rect x="611.4" y="149.1" width="2.05" height="2.05" fill="#25ffda"/>
<rect x="559.4" y="151.1" width="2.05" height="2.05" fill="#8bff74"/>
<rect x="561.4" y="151.1" width="8.05" height="2.05" fill="#80ff80"/>
<rect x="569.4" y="151.1" width="10.05" height="2.05" fill="#74ff8b"/>
<rect x="579.4" y="151.1" width="20.05" height="2.05" fill="#69ff96"/>
<rect x="599.4" y="151.1" width="14.05" height="2.05" fill="#74ff8b"/>
<rect x="559.4" y="153.1" width="4.05" height="2.05" fill="#a2ff5e"/>
<rect x="563.4" y="153.1" width="4.05" height="2.05" fill="#adff52"/>
<rect x="567.4" y="153.1" width="6.05" height="2.05" fill="#b8ff47"/>
<rect x="573.4" y="153.1" width="4.05" height="2.05" fill="#c3ff3c"/>
<rect x="577.4" y="153.1" width="8.05" height="2.05" fill="#cfff30"/>
<rect x="585.4" y="153.1" width="24.05" height="2.05" fill="#daff25"/>
<rect x="609.4" y="153.1" width="4.05" height="2.05" fill="#cfff30"/>
<rect x="559.4" y="155.1" width="2.05" height="2.05" fill="#e5ff1a"/>
<rect x="561.4" y="155.1" width="4.05" height="2.05" fill="#f1ff0e"/>
<rect x="565.4" y="155.1" width="2.05" height="2.05" fill="#fcff03"/>
<rect x="567.4" y="155.1" width="2.05" height="2.05" fill="#fff700"/>
<rect x="569.4" y="155.1" width="2.05" height="2.05" fill="#ffeb00"/>
<rect x="571.4" y="155.1" width="2.05" height="2.05" fill="#ffe000"/>
<rect x="573.4" y="155.1" width="4.05" height="2.05" fill="#ffd500"/>
<rect x="577.4" y="155.1" width="2.05" height="2.05" fill="#ffc900"/>
<rect x="579.4" y="155.1" width="6.05" height="2.05" fill="#ffbe00"/>
<rect x="585.4" y="155.1" width="16.05" height="2.05" fill="#ffb300"/>
<rect x="601.4" y="155.1" width="4.05" height="2.05" fill="#ffbe00"/>
<rect x="605.4" y="155.1" width="2.05" height="2.05" fill="#ffc900"/>
<rect x="607.4" y="155.1" width="2.05" height="2.05" fill="#ffd500"/>
<rect x="609.4" y="155.1" width="2.05" height="2.05" fill="#ffe000"/>
<rect x="611.4" y="155.1" width="2.05" height="2.05" fill="#ffeb00"/>
<rect x="559.4" y="157.1" width="2.05" height="2.05" fill="#ffd500"/>
<rect x="561.4" y="157.1" width="2.05" height="2.05" fill="#ffc900"/>
<rect x="563.4" y="157.1" width="2.05" height="2.05" fill="#ffb300"/>
<rect x="565.4" y="157.1" width="2.05" height="2.05" fill="#ffa700"/>
<rect x="567.4" y="157.1" width="2.05" height="2.05" fill="#ff9c00"/>
<rect x="569.4" y="157.1" width="2.05" height="2.05" fill="#ff9100"/>
<rect x="571.4" y="157.1" width="2.05" height="2.05" fill="#ff8500"/>
<rect x="573.4" y="157.1" width="2.05" height="2.05" fill="#ff7a00"/>
<rect x="575.4" y="157.1" width="2.05" height="2.05" fill="#ff6e00"/>
<rect x="577.4" y="157.1" width="2.05" height="2.05" fill="#ff6300"/>
<rect x="579.4" y="157.1" width="2.05" height="2.05" fill="#ff5800"/>
<rect x="581.4" y="157.1" width="6.05" height="2.05" fill="#ff4c00"/>
<rect x="587.4" y="157.1" width="4.05" height="2.05" fill="#ff4100"/>
<rect x="591.4" y="157.1" width="6.05" height="2.05" fill="#ff4c00"/>
<rect x="597.4" y="157.1" width="2.05" height="2.05" fill="#ff5800"/>
<rect x="599.4" y="157.1" width="4.05" height="2.05" fill="#ff6300"/>
<rect x="603.4" y="157.1" width="2.05" height="2.05" fill="#ff6e00"/>
<rect x="605.4" y="157.1" width="2.05" height="2.05" fill="#ff7a00"/>
<rect x="607.4" y="157.1" width="2.05" height="2.05" fill="#ff9100"/>
<rect x="609.4" y="157.1" width="2.05" height="2.05" fill="#ff9c00"/>
<rect x="611.4" y="157.1" width="2.05" height="2.05" fill="#ffa700"/>
<rect x="559.4" y="159.1" width="2.05" height="2.05" fill="#ff9c00"/>
<rect x="561.4" y="159.1" width="2.05" height="2.05" fill="#ff8500"/>
<rect x="563.4" y="159.1" width="2.05" height="2.05" fill="#ff7a00"/>
<rect x="565.4" y="159.1" width="2.05" height="2.05" fill="#ff6300"/>
<rect x="567.4" y="159.1" width="2.05" height="2.05" fill="#ff4c00"/>
<rect x="569.4" y="159.1" width="2.05" height="2.05" fill="#ff4100"/>
<rect x="571.4" y="159.1" width="2.05" height="2.05" fill="#ff2a00"/>
<rect x="573.4" y="159.1" width="2.05" height="2.05" fill="#ff1f00"/>
<rect x="575.4" y="159.1" width="2.05" height="2.05" fill="#ff1400"/>
<rect x="577.4" y="159.1" width="2.05" height="2.05" fill="#ff0800"/>
<rect x="579.4" y="159.1" width="2.05" height="2.05" fill="#fc0000"/>
<rect x="581.4" y="159.1" width="2.05" height="2.05" fill="#f10000"/>
<rect x="583.4" y="159.1" width="8.05" height="2.05" fill="#e50000"/>
<rect x="591.4" y="159.1" width="2.05" height="2.05" fill="#f10000"/>
<rect x="593.4" y="159.1" width="2.05" height="2.05" fill="#fc0000"/>
<rect x="595.4" y="159.1" width="2.05" height="2.05" fill="#ff0800"/>
<rect x="597.4" y="159.1" width="2.05" height="2.05" fill="#ff1400"/>
<rect x="599.4" y="159.1" width="2.05" height="2.05" fill="#ff1f00"/>
<rect x="601.4" y="159.1" width="2.05" height="2.05" fill="#ff3600"/>
<rect x="603.4" y="159.1" width="2.05" height="2.05" fill="#ff4100"/>
<rect x="605.4" y="159.1" width="2.05" height="2.05" fill="#ff4c00"/>
<rect x="607.4" y="159.1" width="2.05" height="2.05" fill="#ff6300"/>
<rect x="609.4" y="159.1" width="4.05" height="2.05" fill="#ff7a00"/>
<rect x="559.4" y="161.1" width="4.05" height="2.05" fill="#ff6e00"/>
<rect x="563.4" y="161.1" width="2.05" height="2.05" fill="#ff5800"/>
<rect x="565.4" y="161.1" width="2.05" height="2.05" fill="#ff4c00"/>
<rect x="567.4" y="161.1" width="2.05" height="2.05" fill="#ff3600"/>
<rect x="569.4" y="161.1" width="2.05" height="2.05" fill="#ff2a00"/>
<rect x="571.4" y="161.1" width="2.05" height="2.05" fill="#ff1400"/>
<rect x="573.4" y="161.1" width="2.05" height="2.05" fill="#ff0800"/>
<rect x="575.4" y="161.1" width="2.05" height="2.05" fill="#f10000"/>
<rect x="577.4" y="161.1" width="2.05" height="2.05" fill="#e50000"/>
<rect x="579.4" y="161.1" width="2.05" height="2.05" fill="#cf0000"/>
<rect x="581.4" y="161.1" width="2.05" height="2.05" fill="#c30000"/>
<rect x="583.4" y="161.1" width="8.05" height="2.05" fill="#ad0000"/>
<rect x="591.4" y="161.1" width="2.05" height="2.05" fill="#c30000"/>
<rect x="593.4" y="161.1" width="2.05" height="2.05" fill="#cf0000"/>
<rect x="595.4" y="161.1" width="2.05" height="2.05" fill="#e50000"/>
<rect x="597.4" y="161.1" width="2.05" height="2.05" fill="#fc0000"/>
<rect x="599.4" y="161.1" width="2.05" height="2.05" fill="#ff0800"/>
<rect x="601.4" y="161.1" width="2.05" height="2.05" fill="#ff1f00"/>
<rect x="603.4" y="161.1" width="2.05" height="2.05" fill="#ff2a00"/>
<rect x="605.4" y="161.1" width="2.05" height="2.05" fill="#ff4100"/>
<rect x="607.4" y="161.1" width="2.05" height="2.05" fill="#ff5800"/>
<rect x="609.4" y="161.1" width="4.05" height="2.05" fill="#ff6300"/>
<rect x="559.4" y="163.1" width="2.05" height="2.05" fill="#ff6300"/>
<rect x="561.4" y="163.1" width="2.05" height="2.05" fill="#ff5800"/>
<rect x="563.4" y="163.1" width="2.05" height="2.05" fill="#ff4c00"/>
<rect x="565.4" y="163.1" width="2.05" height="2.05" fill="#ff3600"/>
<rect x="567.4" y="163.1" width="2.05" height="2.05" fill="#ff2a00"/>
<rect x="569.4" y="163.1" width="2.05" height="2.05" fill="#ff1400"/>
<rect x="571.4" y="163.1" width="2.05" height="2.05" fill="#ff0800"/>
<rect x="573.4" y="163.1" width="2.05" height="2.05" fill="#fc0000"/>
<rect x="575.4" y="163.1" width="2.05" height="2.05" fill="#e50000"/>
<rect x="577.4" y="163.1" width="2.05" height="2.05" fill="#cf0000"/>
<rect x="579.4" y="163.1" width="2.05" height="2.05" fill="#b80000"/>
<rect x="581.4" y="163.1" width="2.05" height="2.05" fill="#a20000"/>
<rect x="583.4" y="163.1" width="2.05" height="2.05" fill="#960000"/>
<rect x="585.4" y="163.1" width="4.05" height="2.05" fill="#8b0000"/>
<rect x="589.4" y="163.1" width="2.05" height="2.05" fill="#960000"/>
<rect x="591.4" y="163.1" width="2.05" height="2.05" fill="#ad0000"/>
<rect x="593.4" y="163.1" width="2.05" height="2.05" fill="#c30000"/>
<rect x="595.4" y="163.1" width="2.05" height="2.05" fill="#da0000"/>
<rect x="597.4" y="163.1" width="2.05" height="2.05" fill="#f10000"/>
<rect x="599.4" y="163.1" width="2.05" height="2.05" fill="#ff0800"/>
<rect x="601.4" y="163.1" width="2.05" height="2.05" fill="#ff1f00"/>
<rect x="603.4" y="163.1" width="2.05" height="2.05" fill="#ff3600"/>
<rect x="605.4" y="163.1" width="2.05" height="2.05" fill="#ff4100"/>
<rect x="607.4" y="163.1" width="4.05" height="2.05" fill="#ff5800"/>
<rect x="561.4" y="165.1" width="6.05" height="2.05" fill="#ff4c00"/>
<rect x="567.4" y="165.1" width="2.05" height="2.05" fill="#ff3600"/>
<rect x="569.4" y="165.1" width="2.05" height="2.05" fill="#ff2a00"/>
<rect x="571.4" y="165.1" width="2.05" height="2.05" fill="#ff1400"/>
<rect x="573.4" y="165.1" width="2.05" height="2.05" fill="#ff0800"/>
<rect x="575.4" y="165.1" width="2.05" height="2.05" fill="#fc0000"/>
<rect x="577.4" y="165.1" width="2.05" height="2.05" fill="#e50000"/>
<rect x="579.4" y="165.1" width="2.05" height="2.05" fill="#cf0000"/>
<rect x="581.4" y="165.1" width="2.05" height="2.05" fill="#c30000"/>
<rect x="583.4" y="165.1" width="6.05" height="2.05" fill="#ad0000"/>
<rect x="589.4" y="165.1" width="2.05" height="2.05" fill="#b80000"/>
<rect x="591.4" y="165.1" width="2.05" height="2.05" fill="#c30000"/>
<rect x="593.4" y="165.1" width="2.05" height="2.05" fill="#da0000"/>
<rect x="595.4" y="165.1" width="2.05" height="2.05" fill="#f10000"/>
<rect x="597.4" y="165.1" width="2.05" height="2.05" fill="#ff0800"/>
<rect x="599.4" y="165.1" width="2.05" height="2.05" fill="#ff1f00"/>
<rect x="601.4" y="165.1" width="2.05" height="2.05" fill="#ff2a00"/>
<rect x="603.4" y="165.1" width="2.05" height="2.05" fill="#ff4100"/>
<rect x="605.4" y="165.1" width="2.05" height="2.05" fill="#ff4c00"/>
<rect x="607.4" y="165.1" width="4.05" height="2.05" fill="#ff5800"/>
<rect x="563.4" y="167.1" width="4.05" height="2.05" fill="#ff4c00"/>
<rect x="567.4" y="167.1" width="2.05" height="2.05" fill="#ff4100"/>
<rect x="569.4" y="167.1" width="2.05" height="2.05" fill="#ff3600"/>
<rect x="571.4" y="167.1" width="2.05" height="2.05" fill="#ff2a00"/>
<rect x="573.4" y="167.1" width="2.05" height="2.05" fill="#ff1f00"/>
<rect x="575.4" y="167.1" width="2.05" height="2.05" fill="#ff1400"/>
<rect x="577.4" y="167.1" width="2.05" height="2.05" fill="#ff0800"/>
<rect x="579.4" y="167.1" width="2.05" height="2.05" fill="#f10000"/>
<rect x="581.4" y="167.1" width="4.05" height="2.05" fill="#e50000"/>
<rect x="585.4" y="167.1" width="4.05" height="2.05" fill="#da0000"/>
<rect x="589.4" y="167.1" width="2.05" height="2.05" fill="#e50000"/>
<rect x="591.4" y="167.1" width="2.05" height="2.05" fill="#f10000"/>
<rect x="593.4" y="167.1" width="2.05" height="2.05" fill="#fc0000"/>
<rect x="595.4" y="167.1" width="2.05" height="2.05" fill="#ff1400"/>
<rect x="597.4" y="167.1" width="2.05" height="2.05" fill="#ff1f00"/>
<rect x="599.4" y="167.1" width="2.05" height="2.05" fill="#ff2a00"/>
<rect x="601.4" y="167.1" width="2.05" height="2.05" fill="#ff4100"/>
<rect x="603.4" y="167.1" width="2.05" height="2.05" fill="#ff4c00"/>
<rect x="605.4" y="167.1" width="4.05" height="2.05" fill="#ff5800"/>
<rect x="563.4" y="169.1" width="6.05" height="2.05" fill="#ff4c00"/>
<rect x="569.4" y="169.1" width="2.05" height="2.05" fill="#ff4100"/>
<rect x="571.4" y="169.1" width="2.05" height="2.05" fill="#ff3600"/>
<rect x="573.4" y="169.1" width="4.05" height="2.05" fill="#ff2a00"/>
<rect x="577.4" y="169.1" width="2.05" height="2.05" fill="#ff1f00"/>
<rect x="579.4" y="169.1" width="4.05" height="2.05" fill="#ff1400"/>
<rect x="583.4" y="169.1" width="6.05" height="2.05" fill="#ff0800"/>
<rect x="589.4" y="169.1" width="4.05" height="2.05" fill="#ff1400"/>
<rect x="593.4" y="169.1" width="2.05" height="2.05" fill="#ff1f00"/>
<rect x="595.4" y="169.1" width="2.05" height="2.05" fill="#ff2a00"/>
<rect x="597.4" y="169.1" width="2.05" height="2.05" fill="#ff3600"/>
<rect x="599.4" y="169.1" width="2.05" height="2.05" fill="#ff4100"/>
<rect x="601.4" y="169.1" width="2.05" height="2.05" fill="#ff4c00"/>
<rect x="603.4" y="169.1" width="6.05" height="2.05" fill="#ff5800"/>
<rect x="565.4" y="171.1" width="8.05" height="2.05" fill="#ff4c00"/>
<rect x="573.4" y="171.1" width="4.05" height="2.05" fill="#ff4100"/>
<rect x="577.4" y="171.1" width="4.05" height="2.05" fill="#ff3600"/>
<rect x="581.4" y="171.1" width="8.05" height="2.05" fill="#ff2a00"/>
<rect x="589.4" y="171.1" width="4.05" height="2.05" fill="#ff3600"/>
<rect x="593.4" y="171.1" width="4.05" height="2.05" fill="#ff4100"/>
<rect x="597.4" y="171.1" width="2.05" height="2.05" fill="#ff4c00"/>
<rect x="599.4" y="171.1" width="8.05" height="2.05" fill="#ff5800"/>
<rect x="567.4" y="173.1" width="2.05" height="2.05" fill="#ff4c00"/>
<rect x="569.4" y="173.1" width="8.05" height="2.05" fill="#ff5800"/>
<rect x="577.4" y="173.1" width="16.05" height="2.05" fill="#ff4c00"/>
<rect x="593.4" y="173.1" width="2.05" height="2.05" fill="#ff5800"/>
<rect x="595.4" y="173.1" width="8.05" height="2.05" fill="#ff6300"/>
<rect x="603.4" y="173.1" width="2.05" height="2.05" fill="#ff5800"/>
<rect x="571.4" y="175.1" width="4.05" height="2.05" fill="#ff5800"/>
<rect x="575.4" y="175.1" width="16.05" height="2.05" fill="#ff6300"/>
<rect x="591.4" y="175.1" width="2.05" height="2.05" fill="#ff6e00"/>
<rect x="593.4" y="175.1" width="8.05" height="2.05" fill="#ff6300"/>
<rect x="575.4" y="177.1" width="8.05" height="2.05" fill="#ff6300"/>
<rect x="583.4" y="177.1" width="12.05" height="2.05" fill="#ff6e00"/>
<rect x="595.4" y="177.1" width="2.05" height="2.05" fill="#ff6300"/>
</g></g>
<circle cx="586.3" cy="152.2" r="18.55" fill="none" stroke="#1a1a1a" stroke-width="0.9"/>
<path d="M583.10 134.05L586.30 130.25L589.50 134.05" fill="none" stroke="#1a1a1a" stroke-width="0.9"/>
<path d="M567.75 147.50c-1.60 0 -2.20 0.5 -2.20 2v6.2c0 1.5 0.60 2 2.20 2" fill="none" stroke="#1a1a1a" stroke-width="0.75"/>
<path d="M604.85 147.50c1.60 0 2.20 0.5 2.20 2v6.2c0 1.5 -0.60 2 -2.20 2" fill="none" stroke="#1a1a1a" stroke-width="0.75"/>
<rect x="663.5" y="129.1" width="6.8" height="64.6" fill="url(#cbar)" stroke="#8a8a8a" stroke-width="0.5"/>
<text x="672.25" y="134.46" font-size="13.71" fill="#111">5</text>
<text x="670.53" y="196.45" font-size="15.00" textLength="12.70" lengthAdjust="spacingAndGlyphs" fill="#111">-5</text>
<defs><linearGradient id="cbar" x1="0" y1="0" x2="0" y2="1"><stop offset="0.000" stop-color="#800000"/><stop offset="0.050" stop-color="#b30000"/><stop offset="0.100" stop-color="#e50000"/><stop offset="0.150" stop-color="#ff1a00"/><stop offset="0.200" stop-color="#ff4c00"/><stop offset="0.250" stop-color="#ff8000"/><stop offset="0.300" stop-color="#ffb300"/><stop offset="0.350" stop-color="#ffe500"/><stop offset="0.400" stop-color="#e5ff1a"/><stop offset="0.450" stop-color="#b3ff4c"/><stop offset="0.500" stop-color="#80ff80"/><stop offset="0.550" stop-color="#4cffb3"/><stop offset="0.600" stop-color="#1affe5"/><stop offset="0.650" stop-color="#00e5ff"/><stop offset="0.700" stop-color="#00b3ff"/><stop offset="0.750" stop-color="#0080ff"/><stop offset="0.800" stop-color="#004cff"/><stop offset="0.850" stop-color="#001aff"/><stop offset="0.900" stop-color="#0000e5"/><stop offset="0.950" stop-color="#0000b3"/><stop offset="1.000" stop-color="#000080"/></linearGradient><filter id="tb" x="-10%" y="-10%" width="120%" height="120%"><feGaussianBlur stdDeviation="0.9"/></filter><clipPath id="coa"><circle cx="190.9" cy="152.1" r="24.8"/></clipPath><clipPath id="cpa"><circle cx="247.2" cy="151.9" r="24.9"/></clipPath><clipPath id="cob"><circle cx="531.4" cy="152.1" r="24.7"/></clipPath><clipPath id="cpb"><circle cx="586.3" cy="152.0" r="24.9"/></clipPath></defs>
<path d="M30.0 171.8C30.5 171.9 32.1 172.3 33.1 172.6C34.1 172.9 35.2 173.9 36.2 173.8C37.2 173.7 38.2 172.9 39.2 171.8C40.2 170.7 41.2 168.2 42.3 167.0C43.4 165.8 44.8 164.7 45.9 164.6C47.0 164.5 47.9 165.5 48.9 166.5C49.9 167.5 51.0 169.6 52.0 170.5C53.0 171.4 53.7 172.3 54.6 172.1C55.5 171.8 56.6 169.7 57.6 169.0C58.6 168.3 59.7 168.2 60.7 168.0C61.7 167.8 62.8 168.2 63.8 167.7C64.8 167.2 65.9 165.5 66.8 164.9C67.7 164.3 68.6 164.5 69.4 163.9C70.2 163.3 71.0 161.7 71.9 161.4C72.8 161.2 74.0 161.7 75.0 162.4C76.0 163.1 77.2 164.5 78.1 165.4C79.0 166.3 79.8 167.1 80.6 168.0C81.4 168.9 82.3 170.8 83.2 170.8C84.1 170.9 85.0 169.5 86.2 168.3C87.4 167.1 89.1 164.7 90.3 163.4C91.5 162.1 92.6 161.1 93.4 160.5C94.2 159.9 94.3 160.2 95.0 159.9C95.7 159.6 96.8 158.6 97.6 158.9C98.4 159.2 99.2 160.5 100.1 161.5C101.0 162.5 101.8 163.7 103.2 165.0C104.6 166.3 107.0 169.2 108.3 169.6C109.6 169.9 110.3 167.9 111.3 167.1C112.3 166.3 113.2 165.9 114.4 165.0C115.6 164.1 117.2 161.5 118.5 161.5C119.8 161.5 121.0 164.4 122.1 165.0C123.2 165.6 124.2 164.6 125.1 165.0C126.0 165.4 126.8 166.6 127.7 167.6C128.6 168.6 129.5 171.4 130.3 171.2C131.2 171.0 132.0 168.9 132.8 166.6C133.7 164.3 134.6 159.6 135.4 157.4C136.2 155.2 137.0 153.9 137.9 153.5C138.8 153.1 140.1 153.7 141.0 154.8C141.9 156.0 142.7 157.8 143.5 160.4C144.3 163.1 145.3 168.1 146.1 170.7C146.9 173.3 147.6 176.0 148.4 176.2C149.2 176.4 150.0 173.9 150.7 172.0C151.4 170.1 152.1 167.6 152.8 164.7C153.5 161.8 154.2 157.8 154.9 154.3C155.6 150.8 156.2 147.4 156.9 143.9C157.6 140.4 158.3 137.0 159.0 133.6C159.7 130.2 160.4 127.0 161.1 123.2C161.8 119.4 162.5 114.0 163.2 110.7C163.9 107.4 164.5 105.7 165.2 103.5C165.9 101.3 166.5 99.5 167.3 97.3C168.1 95.0 169.0 92.1 169.9 90.0C170.8 87.9 171.6 87.2 172.5 84.9C173.4 82.6 174.5 79.2 175.5 75.9C176.5 72.7 177.5 68.8 178.5 65.4C179.5 62.0 180.5 58.2 181.5 55.7C182.5 53.2 183.1 52.8 184.4 50.5C185.7 48.2 187.8 42.7 189.2 41.8C190.6 40.9 191.4 43.4 192.7 45.2C194.0 47.0 195.7 51.2 197.2 52.7C198.7 54.2 200.2 53.8 201.7 54.2C203.2 54.6 204.7 54.9 206.2 55.0C207.7 55.1 209.3 54.6 210.7 55.0C212.1 55.4 213.0 56.6 214.4 57.2C215.8 57.8 217.4 58.1 219.2 58.5C220.9 58.9 223.2 58.4 224.9 59.4C226.6 60.4 227.5 63.5 229.2 64.8C230.8 66.1 233.0 66.3 234.8 67.4C236.6 68.5 238.2 69.9 239.8 71.2C241.5 72.5 243.2 73.5 244.7 75.4C246.2 77.3 247.6 80.8 249.0 82.5C250.4 84.2 251.8 83.9 253.2 85.4C254.6 86.9 256.1 91.0 257.5 91.7C258.9 92.4 260.3 88.9 261.7 89.6C263.1 90.3 264.7 95.0 266.0 96.0C267.3 97.0 267.9 94.7 269.5 95.3C271.1 95.9 273.9 97.2 275.9 99.5C277.9 101.8 279.8 106.6 281.6 109.4C283.4 112.2 285.1 115.8 286.5 116.5C287.9 117.2 288.2 113.5 290.0 113.7C291.8 113.9 295.2 116.4 297.1 117.9C299.0 119.4 299.9 121.6 301.4 122.9C302.9 124.2 304.9 124.9 306.3 125.7C307.7 126.5 309.3 127.5 309.9 127.8" fill="none" stroke="#cc0000" stroke-width="1.65" stroke-linejoin="round" stroke-linecap="round"/>
<path d="M30.0 171.8C30.5 171.4 32.0 170.3 33.1 169.5C34.2 168.7 35.5 167.5 36.7 167.0C37.9 166.5 39.2 166.5 40.3 166.5C41.4 166.5 42.4 166.5 43.3 167.0C44.2 167.5 45.1 168.8 45.9 169.5C46.7 170.2 47.1 171.1 47.9 171.4C48.7 171.7 49.6 171.2 50.5 171.1C51.4 171.0 52.6 171.5 53.5 171.1C54.4 170.7 55.2 169.3 56.1 168.7C57.0 168.1 57.6 167.9 58.7 167.5C59.8 167.1 61.5 166.2 62.7 166.0C63.9 165.8 64.8 166.5 65.8 166.5C66.8 166.5 67.9 166.3 68.9 166.0C69.9 165.7 70.7 164.6 71.9 164.4C73.1 164.2 74.8 164.6 76.0 164.9C77.2 165.2 77.9 165.7 79.1 166.5C80.3 167.3 82.0 169.2 83.2 169.5C84.4 169.8 85.2 169.3 86.2 168.5C87.2 167.7 88.1 165.7 89.3 164.9C90.5 164.1 92.5 164.2 93.4 163.9C94.4 163.6 94.3 163.7 95.0 163.0C95.7 162.3 96.6 160.2 97.6 159.9C98.6 159.7 99.9 161.3 101.1 161.5C102.3 161.7 103.7 160.7 104.7 160.9C105.7 161.2 106.5 162.0 107.3 163.0C108.1 164.0 108.9 166.1 109.8 167.1C110.7 168.1 111.5 168.8 112.4 168.8C113.3 168.8 114.3 168.1 115.4 167.1C116.5 166.1 117.9 164.2 119.0 163.0C120.1 161.8 121.0 161.1 122.1 159.9C123.2 158.8 124.4 156.3 125.7 156.1C127.0 155.9 128.6 159.0 129.7 158.9C130.8 158.8 131.4 156.8 132.3 155.3C133.2 153.8 134.1 150.8 134.9 149.7C135.8 148.6 136.5 148.7 137.4 148.7C138.3 148.7 139.6 148.8 140.5 149.7C141.4 150.6 142.2 152.8 143.0 154.3C143.8 155.8 144.2 157.7 145.1 158.9C145.9 160.1 147.1 160.7 148.1 161.5C149.1 162.3 150.3 164.2 151.2 163.7C152.1 163.2 152.6 161.1 153.3 158.5C154.0 155.9 154.7 151.4 155.4 148.1C156.1 144.8 156.7 141.7 157.4 138.8C158.1 135.9 158.8 133.3 159.5 130.5C160.2 127.7 160.8 125.0 161.6 122.2C162.4 119.4 163.2 116.7 164.2 113.9C165.1 111.1 166.2 108.0 167.3 105.6C168.4 103.2 169.8 101.2 170.9 99.6C172.0 98.0 172.9 97.8 174.0 96.1C175.1 94.4 176.4 91.6 177.7 89.4C178.9 87.2 180.2 84.8 181.5 82.7C182.8 80.6 184.1 78.0 185.2 76.7C186.3 75.5 187.2 75.1 188.2 75.2C189.2 75.3 190.1 75.9 191.2 77.4C192.3 78.9 193.8 82.5 194.9 84.2C196.0 86.0 196.8 86.5 197.9 87.9C199.0 89.3 200.6 91.0 201.7 92.4C202.8 93.9 203.4 96.1 204.7 96.6C205.9 97.0 207.8 95.3 209.2 95.1C210.6 94.8 211.7 95.3 212.9 95.1C214.1 94.8 215.6 94.0 216.6 93.6C217.6 93.1 218.0 92.1 219.2 92.4C220.3 92.7 221.9 94.8 223.5 95.3C225.1 95.8 226.8 94.9 228.5 95.7C230.2 96.5 231.6 98.7 233.4 100.2C235.2 101.7 237.3 103.4 239.1 104.5C240.9 105.6 242.5 105.1 244.0 106.6C245.5 108.1 246.9 112.5 248.3 113.7C249.7 114.9 251.2 113.8 252.5 113.7C253.8 113.6 254.5 112.8 256.1 113.0C257.8 113.2 260.5 113.8 262.4 115.1C264.3 116.4 265.4 119.1 267.4 120.8C269.4 122.5 272.4 123.8 274.5 125.0C276.6 126.2 278.2 126.4 280.1 127.8C282.0 129.2 283.9 132.2 285.8 133.5C287.7 134.8 289.4 134.7 291.5 135.6C293.6 136.5 296.6 138.7 298.5 139.2C300.4 139.7 300.9 138.1 302.8 138.7C304.7 139.3 308.5 142.3 309.6 143.0" fill="none" stroke="#000000" stroke-width="1.65" stroke-linejoin="round" stroke-linecap="round"/>
<path d="M367.2 169.5C367.9 169.3 369.9 169.3 371.1 168.5C372.3 167.7 373.2 164.8 374.4 164.6C375.6 164.3 377.1 166.3 378.3 167.0C379.6 167.7 380.6 168.0 381.9 169.0C383.2 170.0 384.7 172.6 385.9 172.8C387.1 173.1 388.0 171.5 389.0 170.5C390.0 169.5 390.7 168.0 392.1 167.0C393.6 166.0 396.1 164.2 397.7 164.4C399.3 164.7 400.5 167.9 401.8 168.5C403.1 169.1 404.0 167.2 405.4 168.0C406.8 168.8 408.6 172.8 410.0 173.4C411.4 174.0 412.8 172.3 414.0 171.8C415.2 171.3 415.9 171.8 417.1 170.5C418.3 169.2 419.8 165.0 421.2 163.9C422.6 162.8 424.1 163.4 425.3 163.9C426.5 164.4 427.4 165.3 428.4 167.0C429.4 168.7 430.2 173.1 431.2 174.1C432.1 175.1 432.9 172.7 434.1 173.2C435.4 173.7 437.2 176.8 438.7 177.0C440.1 177.2 441.3 175.7 442.8 174.2C444.3 172.7 446.4 168.9 447.9 167.8C449.4 166.7 450.7 167.5 452.0 167.6C453.3 167.7 454.3 168.2 455.5 168.6C456.7 169.0 457.9 168.7 459.1 170.1C460.3 171.5 461.6 175.2 462.7 176.8C463.8 178.4 464.6 179.3 465.8 179.9C467.0 180.5 468.9 180.8 469.9 180.4C470.9 180.1 471.0 180.5 471.9 177.8C472.8 175.1 473.9 167.7 475.0 164.0C476.1 160.3 477.5 156.6 478.5 155.8C479.5 155.0 480.2 157.1 481.1 159.4C482.1 161.7 483.2 166.5 484.2 169.6C485.2 172.7 486.2 175.5 487.2 177.8C488.2 180.1 489.4 183.6 490.3 183.4C491.2 183.2 492.0 180.7 492.8 176.8C493.6 172.9 494.5 165.2 495.3 159.8C496.1 154.4 496.9 149.3 497.7 144.1C498.5 138.9 499.3 133.8 500.1 128.4C500.9 123.0 501.7 116.5 502.5 111.5C503.3 106.5 504.1 102.1 505.0 98.1C505.9 94.1 507.0 89.8 508.0 87.3C509.0 84.8 510.1 84.4 511.0 83.0C511.9 81.6 512.6 80.9 513.4 79.0C514.1 77.1 514.5 74.2 515.5 71.7C516.5 69.2 518.1 67.8 519.2 64.2C520.3 60.6 521.2 54.5 522.2 50.0C523.2 45.5 524.1 39.8 525.2 37.2C526.3 34.6 527.7 35.1 528.9 34.2C530.1 33.3 531.2 31.8 532.2 32.0C533.2 32.2 534.0 33.8 534.9 35.7C535.8 37.6 536.8 42.0 537.9 43.2C539.0 44.5 540.3 42.3 541.7 43.2C543.1 44.1 544.6 47.4 546.2 48.5C547.8 49.6 549.5 50.0 551.4 50.0C553.3 50.0 555.4 49.1 557.4 48.5C559.4 47.9 562.1 46.6 563.4 46.2C564.7 45.8 564.1 45.8 565.0 45.9C565.9 46.0 567.6 46.4 569.0 46.7C570.4 47.1 571.9 46.6 573.2 48.0C574.5 49.4 575.7 52.8 576.9 54.9C578.1 57.0 579.0 58.6 580.2 60.8C581.4 63.0 582.9 66.2 584.2 67.9C585.5 69.6 587.0 69.8 588.2 71.0C589.4 72.2 590.3 74.0 591.5 75.4C592.7 76.8 594.2 78.3 595.5 79.4C596.8 80.5 598.0 80.3 599.4 82.0C600.8 83.7 602.8 87.6 604.1 89.3C605.4 91.0 606.3 90.5 607.4 92.0C608.5 93.5 609.6 97.1 610.7 98.3C611.8 99.5 612.9 97.9 614.0 98.9C615.1 100.0 616.1 102.7 617.3 104.6C618.5 106.5 620.0 109.3 621.3 110.5C622.6 111.7 623.9 109.9 625.3 111.6C626.7 113.3 628.3 119.1 629.9 120.9C631.5 122.8 633.0 122.3 634.6 122.7C636.2 123.1 637.3 123.0 639.2 123.1C641.1 123.2 644.0 122.1 645.8 123.5C647.6 124.9 648.8 129.9 649.8 131.7C650.8 133.5 651.6 134.0 652.0 134.5" fill="none" stroke="#cc0000" stroke-width="1.65" stroke-linejoin="round" stroke-linecap="round"/>
<path d="M367.2 167.7C367.5 168.3 368.2 170.3 369.1 171.1C370.0 171.9 371.4 172.1 372.7 172.6C374.0 173.1 375.5 174.2 376.8 174.1C378.1 174.0 379.2 173.0 380.3 172.1C381.4 171.2 382.3 169.5 383.4 168.5C384.5 167.5 385.9 166.2 387.0 166.0C388.1 165.8 388.9 166.5 390.0 167.3C391.1 168.2 392.4 170.1 393.6 171.1C394.8 172.1 396.1 173.3 397.2 173.4C398.3 173.5 399.3 172.0 400.3 171.4C401.3 170.8 402.3 170.4 403.3 169.7C404.3 169.0 405.5 167.6 406.4 167.0C407.3 166.4 408.0 166.0 408.9 165.9C409.8 165.8 411.0 167.2 412.0 166.7C413.0 166.1 414.1 163.7 415.1 162.6C416.1 161.5 417.1 160.3 418.1 160.3C419.1 160.3 420.2 161.4 421.2 162.4C422.2 163.4 423.3 165.9 424.3 166.5C425.3 167.1 426.4 166.0 427.3 165.9C428.2 165.8 428.9 165.8 430.0 166.1C431.1 166.4 432.3 167.1 433.6 167.6C434.9 168.1 436.6 169.3 437.7 169.1C438.8 168.9 439.3 167.8 440.2 166.6C441.1 165.4 441.9 162.5 442.8 162.0C443.7 161.5 444.6 163.4 445.8 163.7C447.0 164.0 448.6 163.4 449.9 164.0C451.2 164.6 452.3 166.5 453.5 167.1C454.7 167.7 455.9 168.2 457.1 167.8C458.3 167.4 459.5 165.4 460.7 164.5C461.9 163.6 463.0 163.5 464.2 162.5C465.4 161.5 466.7 159.2 467.8 158.4C468.9 157.6 470.0 158.2 470.9 157.4C471.8 156.6 472.5 155.1 473.4 153.3C474.3 151.6 475.6 147.5 476.5 146.9C477.4 146.3 478.2 148.5 479.0 149.7C479.8 150.8 480.4 152.6 481.1 153.8C481.8 155.0 482.3 155.4 483.1 156.9C483.9 158.4 484.9 160.9 485.7 163.0C486.5 165.1 487.4 168.2 488.2 169.6C489.0 171.0 489.7 171.9 490.3 171.7C490.9 171.5 491.4 170.8 492.0 168.6C492.6 166.3 493.4 161.3 494.0 158.2C494.6 155.1 494.9 153.6 495.6 150.0C496.3 146.4 497.4 140.9 498.3 136.9C499.2 132.9 500.3 129.0 501.3 126.0C502.3 123.0 503.4 120.9 504.4 118.7C505.4 116.5 506.3 114.0 507.4 112.7C508.5 111.4 510.0 111.4 511.0 110.8C512.0 110.2 512.4 110.3 513.4 109.2C514.4 108.1 515.6 106.5 517.0 103.9C518.4 101.3 520.1 96.5 521.5 93.4C522.9 90.3 524.0 87.2 525.2 85.1C526.4 83.0 527.6 81.2 528.9 80.7C530.1 80.2 531.3 81.0 532.7 82.2C534.1 83.4 535.7 85.9 537.2 88.1C538.7 90.3 540.2 93.6 541.7 95.6C543.2 97.6 544.5 99.0 546.2 100.1C548.0 101.2 550.3 102.2 552.2 102.1C554.1 102.0 555.5 100.2 557.4 99.4C559.3 98.6 562.1 97.3 563.4 97.1C564.7 96.9 563.9 97.9 565.0 98.3C566.1 98.7 568.8 99.1 570.3 99.7C571.8 100.3 573.1 101.8 574.3 101.9C575.4 102.1 576.1 100.0 577.2 100.6C578.3 101.1 579.6 103.8 580.9 105.2C582.2 106.6 583.3 107.9 584.9 109.2C586.5 110.5 588.3 111.6 590.2 113.2C592.1 114.8 594.6 117.9 596.1 118.7C597.6 119.5 598.3 118.0 599.4 118.2C600.5 118.4 601.8 120.0 602.8 119.8C603.8 119.6 604.4 116.7 605.4 116.9C606.4 117.1 607.6 119.7 608.7 121.1C609.8 122.5 611.0 124.5 612.0 125.4C613.0 126.3 613.7 125.2 614.7 126.4C615.7 127.6 616.8 131.1 618.0 132.4C619.2 133.7 620.7 133.4 622.0 134.1C623.3 134.8 624.6 135.9 625.9 136.7C627.2 137.4 628.7 138.4 629.9 138.6C631.1 138.8 632.0 137.6 633.2 138.1C634.4 138.6 635.9 140.7 637.2 141.7C638.5 142.7 639.8 143.8 641.2 144.3C642.6 144.8 644.4 144.8 645.8 144.7C647.2 144.6 648.8 143.9 649.8 143.6C650.8 143.3 651.6 143.1 652.0 143.0" fill="none" stroke="#000000" stroke-width="1.65" stroke-linejoin="round" stroke-linecap="round"/>
<path d="M28.5 465.4C29.1 465.0 31.0 463.9 32.4 463.0C33.8 462.1 35.4 460.7 36.8 460.3C38.2 459.9 39.3 459.8 40.6 460.6C41.9 461.4 43.1 463.9 44.4 465.2C45.7 466.5 47.1 467.8 48.3 468.7C49.5 469.6 50.1 471.2 51.5 470.9C52.9 470.6 55.0 468.1 56.5 466.8C58.0 465.5 59.3 463.7 60.8 463.0C62.2 462.3 63.7 462.7 65.2 462.4C66.7 462.1 68.1 461.7 69.6 461.0C71.1 460.3 72.5 459.0 74.0 458.4C75.5 457.8 77.0 457.3 78.4 457.3C79.9 457.3 81.0 458.4 82.7 458.4C84.4 458.3 87.0 456.7 88.8 457.0C90.6 457.3 92.2 459.3 93.7 460.3C95.2 461.3 97.0 462.4 98.1 463.0C99.2 463.6 99.6 463.5 100.5 463.8C101.4 464.1 102.4 465.0 103.3 464.7C104.2 464.4 105.1 462.9 106.0 462.2C106.9 461.5 107.8 460.1 108.8 460.5C109.8 460.9 110.9 463.2 112.0 464.9C113.1 466.5 114.3 468.7 115.3 470.4C116.3 472.1 117.3 474.2 118.1 475.3C118.9 476.4 119.5 477.5 120.3 476.7C121.1 475.9 122.0 472.9 123.0 470.4C124.0 467.9 125.3 464.2 126.3 461.6C127.3 459.0 128.0 456.6 129.0 455.0C130.0 453.4 131.3 452.5 132.3 451.8C133.3 451.1 134.0 450.7 135.0 450.7C136.0 450.7 137.1 452.1 138.3 452.0C139.5 451.9 141.1 451.1 142.2 450.1C143.3 449.2 143.9 447.3 144.9 446.3C145.9 445.3 147.2 444.1 148.2 443.9C149.2 443.7 150.0 443.7 150.9 445.2C151.8 446.7 152.7 450.1 153.7 452.8C154.7 455.5 155.9 458.8 156.9 461.1C157.9 463.4 158.6 465.3 159.7 466.5C160.8 467.7 162.1 467.7 163.5 468.2C164.9 468.7 166.5 469.2 167.9 469.3C169.3 469.4 170.5 469.0 171.7 468.7C172.9 468.4 173.9 468.2 175.0 467.5C176.1 466.8 177.1 465.6 178.5 464.4C179.9 463.2 181.6 461.5 183.3 460.1C185.0 458.7 187.3 457.6 188.7 455.9C190.1 454.2 190.7 452.4 191.8 449.8C192.9 447.2 194.1 443.6 195.4 440.2C196.7 436.8 198.2 431.7 199.6 429.3C201.0 426.9 202.5 427.0 203.9 425.9C205.3 424.8 206.8 424.1 208.1 422.6C209.4 421.2 210.6 419.7 211.7 417.2C212.8 414.7 213.7 410.9 214.8 407.5C215.9 404.1 217.2 399.7 218.4 396.6C219.6 393.5 220.9 390.4 222.0 388.7C223.1 387.0 224.0 386.3 225.0 386.3C226.0 386.3 227.0 387.7 228.1 388.7C229.2 389.7 230.4 390.5 231.7 392.4C233.0 394.3 234.6 397.1 235.9 400.2C237.2 403.3 238.4 407.2 239.6 411.1C240.8 415.0 242.0 419.6 243.2 423.8C244.4 428.0 245.7 432.4 246.8 436.5C247.9 440.6 248.8 444.7 250.0 448.6C251.2 452.5 252.1 456.8 253.7 459.8C255.3 462.8 257.8 466.4 259.6 466.7C261.4 467.0 262.9 464.4 264.5 461.8C266.1 459.2 267.8 455.4 269.4 451.0C271.0 446.6 272.8 441.0 274.3 435.3C275.8 429.6 276.9 422.9 278.2 416.7C279.5 410.5 280.8 404.1 282.1 398.1C283.4 392.1 285.0 385.6 286.0 380.5C287.0 375.4 287.2 371.8 288.0 367.5C288.8 363.2 289.7 358.6 290.7 354.5C291.7 350.4 292.8 346.7 293.8 343.0C294.9 339.3 296.1 335.2 297.0 332.3C297.9 329.4 298.5 327.8 299.4 325.8C300.3 323.8 302.0 321.1 302.5 320.1" fill="none" stroke="#cc0000" stroke-width="1.65" stroke-linejoin="round" stroke-linecap="round"/>
<path d="M29.6 461.9C29.9 461.1 30.6 457.9 31.3 457.3C32.0 456.8 33.1 457.8 34.0 458.6C34.9 459.4 35.8 460.2 36.8 461.9C37.8 463.5 38.9 466.7 40.0 468.5C41.1 470.3 42.2 471.9 43.3 472.8C44.4 473.8 45.2 474.3 46.6 474.2C48.0 474.1 50.0 473.2 51.5 472.3C53.0 471.4 54.5 470.0 55.9 468.7C57.3 467.4 58.4 465.9 59.8 464.6C61.2 463.3 62.6 462.0 64.1 460.8C65.5 459.6 66.8 458.4 68.5 457.7C70.2 457.0 72.3 456.7 74.0 456.6C75.7 456.5 77.1 457.0 78.4 457.0C79.7 457.0 80.4 456.9 81.7 456.4C83.0 455.9 84.7 454.4 86.0 454.2C87.3 454.0 88.2 454.5 89.3 455.3C90.4 456.1 91.3 457.9 92.6 459.2C93.9 460.5 95.8 462.4 97.0 463.0C98.2 463.6 99.0 462.7 100.0 462.7C101.0 462.7 101.8 463.6 102.7 463.2C103.6 462.8 104.5 461.0 105.5 460.0C106.5 459.0 107.3 457.8 108.8 457.0C110.2 456.2 112.4 455.3 114.2 455.0C116.0 454.7 117.9 456.1 119.7 455.3C121.5 454.5 123.5 451.8 125.2 450.4C126.9 449.0 128.5 448.2 130.1 447.2C131.7 446.1 133.2 444.7 134.5 444.1C135.8 443.6 136.4 443.5 137.8 443.9C139.2 444.3 141.5 446.0 143.2 446.3C144.9 446.6 146.4 445.7 148.2 445.7C149.9 445.7 152.2 445.5 153.7 446.1C155.1 446.8 155.8 448.1 156.9 449.6C158.0 451.1 159.1 453.4 160.2 455.0C161.3 456.6 162.5 458.0 163.5 459.4C164.5 460.8 165.3 462.4 166.2 463.2C167.1 464.0 168.0 464.5 169.0 464.3C170.0 464.1 171.3 463.2 172.3 462.2C173.3 461.2 174.2 460.1 175.0 458.5C175.8 456.9 176.1 454.7 177.3 452.3C178.5 449.9 180.3 446.9 182.1 444.4C183.9 441.9 186.3 439.6 188.1 437.1C189.9 434.6 191.4 431.5 193.0 429.3C194.6 427.1 196.2 425.9 197.8 423.8C199.4 421.7 201.1 419.2 202.7 416.6C204.3 414.0 205.9 410.6 207.5 408.1C209.1 405.6 210.8 403.8 212.3 401.5C213.8 399.2 215.2 396.4 216.6 394.2C218.0 392.0 219.7 390.0 220.8 388.1C221.9 386.2 222.4 384.0 223.2 382.7C224.0 381.4 224.7 380.4 225.6 380.3C226.5 380.2 227.6 381.0 228.7 382.1C229.8 383.2 231.1 384.7 232.3 386.9C233.5 389.1 234.6 392.4 235.9 395.4C237.2 398.4 238.7 401.9 240.0 405.0C241.3 408.1 242.6 410.1 243.9 413.8C245.2 417.6 246.5 423.1 247.8 427.5C249.1 431.9 250.5 436.4 251.8 440.2C253.1 443.9 254.4 447.6 255.7 450.0C257.0 452.4 258.1 454.4 259.6 454.5C261.1 454.6 262.9 452.5 264.5 450.6C266.1 448.7 267.9 446.2 269.4 443.2C270.9 440.2 272.0 436.8 273.3 432.4C274.6 428.0 275.9 422.7 277.2 416.7C278.5 410.7 279.8 402.7 281.1 396.2C282.4 389.7 284.0 382.6 285.0 377.6C286.0 372.7 286.4 370.5 287.3 366.5C288.2 362.5 289.2 357.5 290.2 353.5C291.2 349.5 292.3 345.9 293.4 342.3C294.5 338.7 295.7 334.6 296.6 331.8C297.5 329.0 298.1 327.3 299.0 325.3C299.9 323.3 301.8 320.6 302.3 319.7" fill="none" stroke="#000000" stroke-width="1.65" stroke-linejoin="round" stroke-linecap="round"/>
<path d="M369.6 453.7C370.2 453.2 371.7 451.1 372.9 450.9C374.1 450.7 375.5 451.7 376.8 452.6C378.1 453.5 379.3 454.9 380.6 456.4C381.9 457.9 382.8 460.4 384.4 461.4C385.9 462.4 388.2 461.9 389.9 462.4C391.5 462.9 392.8 463.9 394.3 464.6C395.8 465.3 397.1 466.7 398.7 466.8C400.3 466.9 402.3 465.4 404.1 465.4C405.9 465.4 407.8 466.2 409.6 466.8C411.4 467.4 413.6 468.9 415.1 469.0C416.6 469.1 417.3 468.3 418.4 467.4C419.5 466.5 420.6 464.4 421.7 463.5C422.8 462.6 423.8 461.9 424.9 461.7C426.0 461.5 426.9 461.4 428.2 462.4C429.5 463.3 431.3 466.9 432.6 467.4C433.9 467.9 434.7 466.3 435.9 465.4C437.1 464.5 438.7 463.0 440.0 462.2C441.3 461.4 442.5 460.2 443.8 460.5C445.1 460.8 446.2 462.7 447.7 463.8C449.2 464.9 451.0 466.8 452.6 466.9C454.2 467.0 455.9 465.2 457.5 464.3C459.1 463.4 460.4 461.8 461.9 461.4C463.4 460.9 465.0 462.0 466.3 461.6C467.6 461.2 468.5 459.8 469.6 458.9C470.7 458.0 471.7 456.8 472.8 456.1C473.9 455.4 474.6 454.5 476.1 454.5C477.6 454.5 479.8 455.5 481.6 456.1C483.4 456.7 485.3 457.5 487.1 458.3C488.9 459.1 490.8 460.2 492.6 461.1C494.4 462.0 496.4 463.8 498.0 463.8C499.6 463.8 500.6 461.9 501.9 461.1C503.2 460.3 504.3 459.9 505.7 458.9C507.1 457.9 508.4 455.7 510.0 455.1C511.6 454.5 513.4 455.6 515.1 455.4C516.8 455.2 518.6 454.2 520.1 453.8C521.6 453.4 522.6 452.5 523.9 452.8C525.2 453.1 526.3 454.5 527.7 455.4C529.1 456.2 530.8 457.7 532.2 457.9C533.6 458.1 534.9 458.3 536.0 456.4C537.1 454.4 537.9 449.8 539.1 446.2C540.3 442.6 541.7 438.4 543.0 434.8C544.3 431.2 545.1 427.4 546.8 424.7C548.5 422.0 551.5 420.9 553.1 418.4C554.7 415.9 555.2 413.1 556.3 409.5C557.3 405.9 558.2 401.7 559.4 396.8C560.5 391.9 561.9 384.4 563.2 380.3C564.5 376.2 565.8 373.2 567.0 372.1C568.2 371.1 569.1 372.4 570.2 374.0C571.3 375.6 572.2 378.2 573.4 381.6C574.6 385.0 575.9 389.9 577.2 394.3C578.5 398.7 580.0 403.9 581.0 408.2C582.0 412.5 582.2 415.4 583.0 420.3C583.8 425.2 584.9 431.7 585.9 437.9C586.9 444.1 587.9 450.3 588.9 457.5C589.9 464.7 590.7 474.5 591.8 481.0C592.9 487.5 594.4 493.3 595.7 496.7C597.0 500.1 598.3 501.6 599.6 501.6C600.9 501.6 602.1 499.8 603.6 496.7C605.1 493.6 606.9 487.9 608.5 483.0C610.1 478.1 611.9 472.2 613.4 467.3C614.9 462.4 616.0 458.8 617.3 453.6C618.6 448.4 619.9 441.6 621.2 436.0C622.5 430.4 623.6 424.6 625.1 420.3C626.6 416.1 628.4 413.8 630.0 410.5C631.6 407.2 633.1 405.3 634.9 400.7C636.7 396.1 639.0 387.7 640.8 383.1C642.6 378.5 644.1 376.6 645.7 373.3C647.3 370.0 649.1 367.1 650.6 363.5C652.1 359.9 654.3 353.5 655.0 351.5" fill="none" stroke="#cc0000" stroke-width="1.65" stroke-linejoin="round" stroke-linecap="round"/>
<path d="M370.2 467.9C370.6 467.6 371.9 466.9 372.9 466.3C373.9 465.7 375.0 465.3 376.2 464.3C377.4 463.3 378.7 461.7 380.0 460.3C381.3 458.9 382.6 457.2 383.9 455.9C385.2 454.6 386.4 453.0 387.7 452.3C389.0 451.6 390.2 451.8 391.5 451.8C392.8 451.9 393.8 452.5 395.4 452.6C396.9 452.7 399.4 452.1 400.8 452.6C402.2 453.2 402.8 454.3 404.1 455.9C405.4 457.5 407.1 460.8 408.5 462.4C409.9 464.0 411.0 464.5 412.3 465.4C413.6 466.3 414.9 466.9 416.2 467.9C417.5 468.9 418.7 470.4 420.0 471.2C421.3 472.0 422.5 472.8 423.8 472.8C425.1 472.8 426.6 471.9 427.7 471.2C428.8 470.5 429.4 469.1 430.4 468.5C431.4 467.9 432.7 468.1 433.7 467.9C434.7 467.7 435.3 467.3 436.4 467.4C437.4 467.5 438.9 468.8 440.0 468.7C441.1 468.6 442.2 468.0 443.3 467.1C444.4 466.2 445.4 464.6 446.6 463.2C447.8 461.8 449.1 459.9 450.4 458.9C451.7 457.9 452.9 457.6 454.2 457.2C455.5 456.8 456.8 457.0 458.1 456.7C459.4 456.4 460.5 455.5 461.9 455.6C463.3 455.7 465.0 457.1 466.3 457.2C467.6 457.3 468.5 456.2 469.6 456.4C470.7 456.6 471.8 458.4 472.8 458.5C473.8 458.6 474.5 457.3 475.6 457.2C476.7 457.1 478.0 457.3 479.4 458.1C480.8 458.9 482.5 461.0 483.8 462.2C485.1 463.4 486.0 464.5 487.1 465.4C488.2 466.2 489.3 467.1 490.4 467.3C491.5 467.5 492.4 467.0 493.7 466.5C495.0 466.0 496.6 465.0 498.0 464.3C499.4 463.6 500.6 462.7 501.9 462.2C503.2 461.7 504.3 461.8 505.7 461.1C507.1 460.5 508.5 459.3 510.1 458.3C511.7 457.3 513.4 456.3 515.1 455.1C516.8 453.9 518.4 452.8 520.1 451.3C521.8 449.8 523.5 447.7 525.2 446.2C526.9 444.7 528.6 443.7 530.3 442.4C532.0 441.1 533.8 440.1 535.3 438.4C536.8 436.7 537.7 434.6 539.1 432.3C540.5 430.0 542.1 427.6 543.6 424.7C545.1 421.8 546.6 418.1 548.0 415.2C549.4 412.2 550.6 409.9 551.8 407.0C553.0 404.1 553.9 401.3 555.0 398.1C556.1 394.9 557.2 391.4 558.2 388.0C559.2 384.6 560.2 381.0 561.3 377.8C562.3 374.6 563.4 370.6 564.5 368.7C565.6 366.8 566.7 366.3 567.7 366.2C568.8 366.1 569.8 366.8 570.8 368.3C571.8 369.8 572.9 372.2 574.0 375.3C575.1 378.4 576.2 382.3 577.2 386.7C578.2 391.1 579.2 396.4 580.3 401.9C581.3 407.3 582.6 413.1 583.5 419.4C584.4 425.7 585.0 433.5 585.9 439.9C586.8 446.2 587.8 451.3 588.9 457.5C590.0 463.7 591.5 471.6 592.8 477.1C594.1 482.7 595.2 487.4 596.7 490.8C598.2 494.2 600.1 497.1 601.6 497.7C603.1 498.3 604.2 496.8 605.5 494.7C606.8 492.6 608.1 488.8 609.4 484.9C610.7 481.0 612.1 476.1 613.4 471.2C614.7 466.3 616.0 461.7 617.3 455.5C618.6 449.3 619.9 439.5 621.2 434.0C622.5 428.5 623.6 425.9 625.1 422.3C626.6 418.7 628.4 415.8 630.0 412.5C631.6 409.2 633.3 406.1 634.9 402.7C636.5 399.3 638.5 395.2 639.8 391.9C641.1 388.6 641.4 386.2 642.7 383.1C644.0 380.0 646.1 376.6 647.6 373.3C649.1 370.0 650.3 367.1 651.5 363.5C652.7 359.9 654.4 353.5 655.0 351.5" fill="none" stroke="#000000" stroke-width="1.65" stroke-linejoin="round" stroke-linecap="round"/>
<path d="M30.0 788.4C30.8 788.6 33.2 789.2 34.6 789.8C36.0 790.4 37.1 791.7 38.4 792.2C39.7 792.7 41.0 792.3 42.2 792.8C43.4 793.3 44.3 794.4 45.5 795.0C46.7 795.6 48.1 796.6 49.4 796.4C50.7 796.2 51.9 794.7 53.2 793.9C54.5 793.1 55.7 791.8 57.0 791.7C58.3 791.6 59.4 792.7 60.8 793.3C62.2 793.9 63.8 795.3 65.2 795.3C66.6 795.3 67.8 794.5 69.1 793.3C70.4 792.0 71.5 789.9 72.9 787.8C74.3 785.7 75.7 782.9 77.3 780.7C78.9 778.5 81.0 776.6 82.7 774.7C84.4 772.8 86.1 770.4 87.7 769.2C89.3 768.0 91.0 767.3 92.6 767.3C94.1 767.3 95.8 768.6 97.0 769.2C98.2 769.8 98.9 770.7 100.0 770.7C101.1 770.7 102.5 769.2 103.8 769.3C105.1 769.4 106.5 770.1 107.7 771.2C108.9 772.3 109.9 774.4 110.9 776.1C111.9 777.8 112.5 779.8 113.7 781.6C114.9 783.4 116.7 786.0 118.1 787.1C119.5 788.2 120.6 787.9 121.9 788.2C123.2 788.5 124.4 788.2 125.7 788.7C127.0 789.2 128.2 790.6 129.6 791.5C131.0 792.4 132.6 794.2 133.9 794.2C135.2 794.2 136.2 793.0 137.2 791.5C138.2 790.0 139.0 786.9 140.0 784.9C141.0 782.9 142.1 780.7 143.2 779.4C144.3 778.1 145.4 777.1 146.5 777.2C147.6 777.3 148.6 779.4 149.8 780.0C151.0 780.6 152.3 781.1 153.7 781.1C155.1 781.1 156.7 780.5 158.0 780.0C159.3 779.5 160.2 778.5 161.3 777.8C162.4 777.1 163.3 776.0 164.6 775.6C165.9 775.2 167.7 775.2 169.0 775.6C170.3 776.0 171.2 777.1 172.3 777.8C173.4 778.5 173.9 778.8 175.5 779.9C177.1 781.0 180.0 783.6 181.8 784.1C183.7 784.6 185.0 783.9 186.6 782.7C188.2 781.5 189.8 778.8 191.4 777.1C193.0 775.4 194.8 774.8 196.3 772.3C197.8 769.8 199.0 765.6 200.4 761.9C201.8 758.2 203.2 754.5 204.6 750.2C206.0 746.0 207.3 740.8 208.7 736.4C210.1 732.0 211.5 728.3 212.9 723.9C214.3 719.5 215.5 714.1 217.0 710.1C218.5 706.1 220.3 702.6 221.8 699.7C223.3 696.8 224.8 694.1 226.0 692.8C227.2 691.5 227.8 691.1 228.8 691.8C229.8 692.5 230.9 694.0 232.2 697.0C233.5 700.0 235.0 704.9 236.4 710.1C237.8 715.3 239.2 722.1 240.5 728.1C241.8 734.1 242.6 739.0 244.1 746.1C245.6 753.2 247.6 763.7 249.3 771.0C251.0 778.3 252.8 785.1 254.5 789.7C256.2 794.3 258.0 797.7 259.7 798.4C261.4 799.1 263.2 797.0 264.9 793.8C266.6 790.6 268.4 785.2 270.1 779.3C271.8 773.4 273.8 765.5 275.3 758.6C276.9 751.7 278.0 745.1 279.4 737.8C280.8 730.5 282.1 722.2 283.5 715.0C284.9 707.8 286.1 701.2 287.7 694.3C289.3 687.4 291.3 679.7 292.9 673.5C294.4 667.3 295.4 661.3 297.0 657.0C298.6 652.7 300.1 650.0 302.2 647.6C304.3 645.2 308.3 643.3 309.5 642.4" fill="none" stroke="#cc0000" stroke-width="1.65" stroke-linejoin="round" stroke-linecap="round"/>
<path d="M30.0 790.0C30.5 790.5 31.6 792.0 32.9 792.8C34.2 793.6 36.4 794.8 37.9 795.0C39.4 795.2 40.4 793.8 41.7 794.2C43.0 794.7 44.2 796.6 45.5 797.7C46.8 798.8 48.1 801.0 49.4 801.0C50.7 801.0 52.0 799.2 53.2 797.7C54.4 796.2 55.2 793.5 56.5 792.2C57.8 790.9 59.3 790.0 60.8 789.8C62.2 789.6 63.8 790.6 65.2 790.9C66.6 791.2 67.8 792.4 69.1 791.7C70.4 791.0 71.7 788.7 72.9 786.8C74.1 784.9 74.9 782.1 76.2 780.2C77.5 778.3 79.1 776.8 80.6 775.3C82.0 773.8 83.5 772.7 84.9 771.4C86.4 770.1 87.9 768.4 89.3 767.3C90.7 766.2 91.8 764.5 93.1 764.6C94.4 764.7 95.8 766.5 97.0 767.6C98.2 768.7 99.1 770.4 100.0 771.2C100.9 772.0 101.3 772.4 102.2 772.6C103.1 772.8 104.3 772.4 105.5 772.3C106.7 772.2 108.1 771.3 109.3 771.8C110.5 772.2 111.4 773.8 112.6 775.0C113.8 776.2 115.2 777.4 116.4 778.9C117.6 780.4 118.6 782.5 119.7 783.8C120.8 785.1 121.9 786.1 123.0 786.5C124.1 786.9 125.2 786.3 126.3 786.0C127.4 785.7 128.5 784.8 129.6 784.9C130.7 785.0 131.5 786.1 132.8 786.5C134.1 786.9 135.9 787.7 137.2 787.3C138.5 786.9 139.4 785.3 140.5 784.3C141.6 783.3 142.7 782.1 143.8 781.1C144.9 780.1 145.9 778.5 147.1 778.1C148.3 777.7 149.6 778.8 150.9 778.9C152.2 779.0 153.5 779.3 154.7 778.9C155.9 778.5 156.9 777.9 158.0 776.7C159.1 775.5 160.3 773.3 161.3 771.8C162.3 770.2 163.0 768.3 164.1 767.4C165.2 766.5 166.7 766.0 167.9 766.3C169.1 766.6 170.2 767.9 171.2 769.0C172.2 770.1 172.9 771.6 174.1 773.0C175.3 774.4 176.9 775.7 178.3 777.1C179.7 778.5 180.9 780.4 182.4 781.3C183.9 782.2 185.8 782.8 187.3 782.7C188.8 782.6 190.0 782.1 191.4 780.6C192.8 779.1 194.2 776.7 195.6 773.7C197.0 770.7 198.3 766.8 199.7 762.6C201.1 758.5 202.5 753.4 203.9 748.8C205.3 744.2 206.6 739.6 208.0 735.0C209.4 730.4 210.8 725.8 212.2 721.2C213.6 716.6 214.9 711.9 216.3 707.3C217.7 702.7 219.1 697.5 220.5 693.5C221.9 689.5 223.3 685.4 224.6 683.1C225.9 680.8 226.9 679.7 228.1 679.7C229.2 679.7 230.3 680.7 231.5 683.1C232.7 685.5 233.7 689.7 235.0 694.2C236.3 698.7 237.7 704.5 239.1 710.1C240.5 715.8 242.0 722.5 243.3 728.1C244.6 733.8 245.6 738.7 246.7 744.0C247.8 749.3 248.9 754.7 250.0 759.9C251.1 765.1 252.1 770.6 253.5 775.2C254.9 779.8 257.1 785.1 258.7 787.6C260.2 790.1 261.2 790.8 262.8 790.1C264.4 789.4 266.3 787.4 268.0 783.5C269.7 779.6 271.5 773.5 273.2 766.9C274.9 760.3 276.8 751.7 278.4 744.1C279.9 736.5 281.1 728.5 282.5 721.2C283.9 713.9 285.3 706.7 286.7 700.5C288.1 694.3 289.4 689.4 290.8 683.9C292.2 678.4 293.6 672.0 295.0 667.3C296.4 662.6 297.6 659.3 299.1 655.9C300.7 652.5 302.9 648.9 304.3 646.6C305.7 644.4 306.9 643.1 307.4 642.4" fill="none" stroke="#000000" stroke-width="1.65" stroke-linejoin="round" stroke-linecap="round"/>
<path d="M370.2 778.6C370.8 779.1 372.4 780.8 373.5 781.9C374.6 783.0 375.5 784.2 376.8 785.2C378.1 786.2 379.7 787.6 381.1 787.9C382.5 788.2 383.6 786.9 385.0 786.8C386.4 786.7 387.9 786.6 389.4 787.4C390.8 788.2 392.3 790.5 393.7 791.8C395.1 793.1 396.3 794.7 397.6 795.3C398.9 795.9 400.1 796.1 401.4 795.6C402.7 795.1 403.8 793.8 405.2 792.3C406.6 790.8 408.1 788.0 409.6 786.3C411.1 784.6 412.7 782.8 414.0 781.9C415.3 781.0 416.1 781.0 417.3 781.0C418.5 781.0 419.9 781.3 421.1 781.7C422.3 782.1 423.0 782.9 424.4 783.2C425.8 783.5 427.9 784.0 429.3 783.5C430.7 783.0 431.5 781.3 432.6 780.3C433.7 779.3 434.8 778.7 435.9 777.5C437.0 776.3 438.0 774.0 439.2 772.9C440.4 771.8 442.2 770.5 443.3 770.6C444.4 770.7 445.0 771.9 446.0 773.5C447.0 775.1 448.2 778.0 449.3 780.1C450.4 782.2 451.5 784.8 452.6 786.1C453.7 787.4 454.6 788.2 455.9 787.8C457.2 787.3 458.9 784.6 460.3 783.4C461.8 782.2 463.2 781.0 464.6 780.7C466.0 780.4 467.2 781.0 468.5 781.5C469.8 782.0 470.9 783.4 472.3 783.9C473.7 784.4 475.2 784.7 476.7 784.5C478.2 784.3 479.7 783.2 481.1 782.6C482.6 782.0 484.0 781.8 485.4 780.7C486.8 779.7 487.9 777.5 489.3 776.3C490.7 775.0 492.3 773.8 493.7 773.2C495.1 772.6 496.2 772.5 497.5 772.8C498.8 773.1 500.1 774.5 501.3 775.0C502.5 775.5 503.3 776.0 504.6 775.7C505.9 775.4 507.5 773.4 509.0 773.0C510.5 772.6 512.1 772.9 513.8 773.1C515.4 773.3 517.4 774.5 518.9 774.4C520.4 774.3 521.4 773.4 522.7 772.5C524.0 771.6 525.4 770.0 526.5 769.3C527.6 768.6 528.5 768.0 529.6 768.1C530.8 768.2 532.2 769.7 533.4 769.7C534.6 769.7 535.5 769.5 536.6 768.1C537.7 766.7 538.8 764.0 539.8 761.1C540.8 758.2 541.7 754.6 542.9 751.0C544.1 747.4 545.3 743.4 546.8 739.6C548.3 735.8 550.3 731.6 551.8 728.2C553.3 724.8 554.2 722.3 555.6 719.3C557.0 716.3 558.6 714.0 560.1 710.4C561.6 706.8 563.1 701.1 564.5 697.7C565.9 694.3 567.1 691.6 568.3 690.1C569.5 688.6 570.5 688.0 571.5 688.6C572.5 689.2 573.6 690.9 574.6 693.9C575.6 696.9 576.7 701.3 577.8 706.6C578.9 711.9 580.1 720.0 581.0 725.6C581.9 731.2 582.2 734.9 583.0 740.3C583.8 745.7 584.8 751.7 585.9 757.9C587.0 764.1 588.4 771.0 589.9 777.5C591.4 784.0 593.2 791.4 594.8 797.1C596.4 802.8 598.3 808.9 599.6 811.8C600.9 814.7 601.5 815.2 602.6 814.7C603.8 814.2 605.0 812.4 606.5 808.8C608.0 805.2 609.6 798.8 611.4 793.2C613.2 787.7 615.7 781.4 617.3 775.5C618.9 769.6 619.9 764.1 621.2 757.9C622.5 751.7 623.8 744.8 625.1 738.3C626.4 731.8 627.7 724.7 629.0 718.8C630.3 712.9 631.3 707.5 632.9 703.1C634.5 698.7 637.0 695.9 638.8 692.3C640.6 688.7 642.1 685.2 643.7 681.5C645.3 677.8 647.0 672.5 648.6 669.8C650.2 667.1 652.7 666.2 653.5 665.5" fill="none" stroke="#cc0000" stroke-width="1.65" stroke-linejoin="round" stroke-linecap="round"/>
<path d="M370.2 784.6C370.6 784.7 371.7 784.8 372.9 785.4C374.1 786.0 375.9 787.7 377.3 788.5C378.7 789.3 379.7 790.4 381.1 790.1C382.5 789.8 383.9 787.6 385.5 786.8C387.1 785.9 388.9 785.1 390.4 785.0C391.9 784.9 393.0 785.8 394.3 786.3C395.6 786.8 396.7 788.1 398.1 787.9C399.6 787.7 401.4 786.3 403.0 785.2C404.6 784.1 406.0 782.1 407.4 781.4C408.8 780.7 409.9 780.8 411.2 781.0C412.5 781.2 413.7 781.7 415.1 782.4C416.5 783.1 417.9 784.4 419.5 785.2C421.1 786.0 422.7 787.0 424.4 787.2C426.1 787.4 428.2 787.0 429.9 786.3C431.6 785.6 433.2 784.5 434.8 783.2C436.4 781.9 437.7 779.9 439.2 778.6C440.7 777.4 442.6 776.0 443.8 775.7C445.0 775.4 445.6 775.7 446.6 776.8C447.6 777.9 448.8 780.6 449.9 782.3C451.0 783.9 452.0 785.7 453.1 786.7C454.2 787.7 455.2 788.2 456.4 788.5C457.6 788.8 459.0 788.8 460.3 788.3C461.6 787.8 462.7 786.6 464.1 785.6C465.5 784.6 467.1 783.2 468.5 782.3C469.9 781.4 471.4 780.8 472.8 780.4C474.2 780.0 475.7 780.3 477.2 780.1C478.7 779.9 480.1 779.5 481.6 779.3C483.1 779.1 484.7 779.1 486.0 778.7C487.3 778.4 488.0 777.3 489.3 777.2C490.6 777.1 492.2 778.0 493.7 778.2C495.1 778.5 496.6 778.5 498.0 778.7C499.4 778.9 500.6 779.5 502.4 779.6C504.2 779.7 507.7 779.2 509.0 779.3C510.3 779.4 509.2 779.4 510.0 780.1C510.8 780.8 512.4 782.4 513.8 783.3C515.2 784.2 516.7 785.4 518.2 785.4C519.7 785.4 521.2 784.2 522.7 783.3C524.2 782.4 525.6 780.9 527.1 780.1C528.6 779.3 530.1 779.3 531.5 778.6C532.9 777.9 534.1 777.8 535.3 776.1C536.5 774.5 537.4 772.1 538.5 768.7C539.6 765.4 540.7 760.0 541.7 756.0C542.8 752.0 543.8 748.0 544.8 744.6C545.8 741.2 546.7 738.4 548.0 735.8C549.3 733.2 551.2 731.3 552.5 728.8C553.8 726.3 554.5 723.5 555.6 720.6C556.8 717.8 558.1 714.9 559.4 711.7C560.7 708.5 562.0 704.0 563.2 701.5C564.4 699.0 565.3 696.9 566.4 696.5C567.5 696.1 568.4 697.4 569.6 699.0C570.8 700.6 572.1 703.0 573.4 706.0C574.7 709.0 575.9 712.3 577.2 716.8C578.5 721.3 580.0 728.3 581.0 733.2C582.0 738.1 582.2 741.1 583.0 746.2C583.8 751.3 584.8 757.3 585.9 763.8C587.0 770.3 588.6 778.8 589.9 785.3C591.2 791.8 592.3 798.1 593.8 803.0C595.3 807.9 597.2 811.9 598.7 814.7C600.2 817.5 601.3 819.3 602.6 819.6C603.9 819.9 605.0 819.2 606.5 816.7C608.0 814.2 609.8 809.5 611.4 804.9C613.0 800.3 614.8 794.5 616.3 789.3C617.8 784.1 618.9 779.1 620.2 773.6C621.5 768.1 622.6 761.9 624.1 756.0C625.6 750.1 627.4 744.5 629.0 738.3C630.6 732.1 632.3 725.5 633.9 718.8C635.5 712.1 637.3 704.1 638.8 698.2C640.3 692.3 641.2 687.6 642.7 683.5C644.2 679.4 646.1 675.8 647.6 673.7C649.1 671.6 650.4 672.1 651.5 670.8C652.6 669.5 654.0 666.7 654.5 665.9" fill="none" stroke="#000000" stroke-width="1.65" stroke-linejoin="round" stroke-linecap="round"/>
</svg>
</body></html>
